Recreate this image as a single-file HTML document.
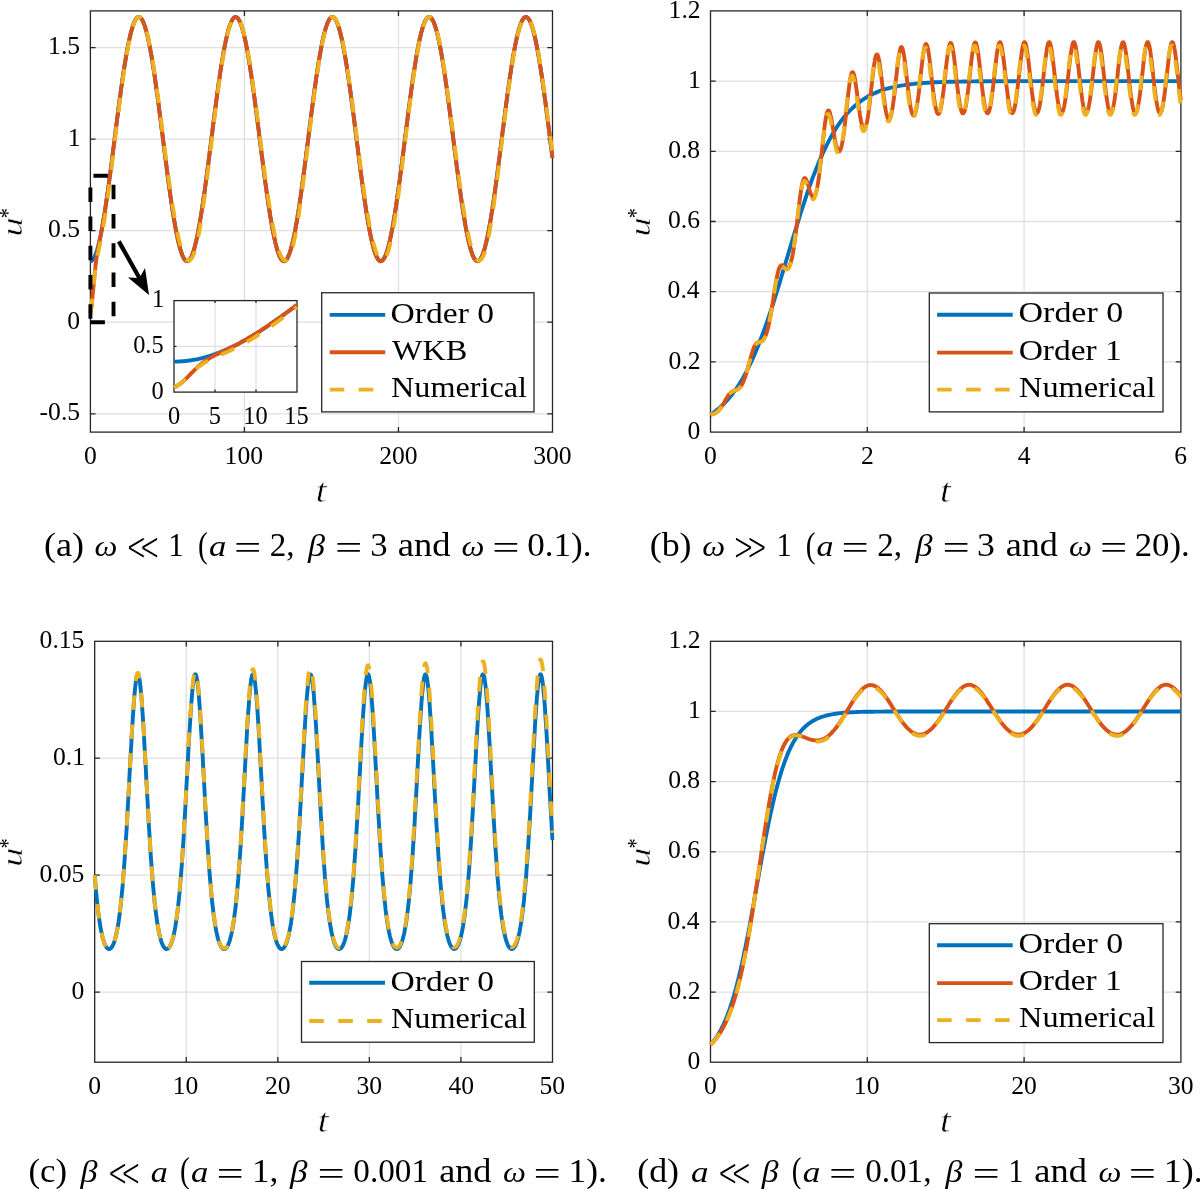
<!DOCTYPE html>
<html><head><meta charset="utf-8"><title>figure</title>
<style>html,body{margin:0;padding:0;background:#fff}svg{display:block;font-family:"Liberation Serif","DejaVu Serif",serif;fill:#000;font-kerning:none;font-variant-ligatures:none}</style>
</head><body>
<svg width="1200" height="1189" viewBox="0 0 1200 1189">
<rect width="1200" height="1189" fill="#fff"/>
<clipPath id="c1"><rect x="88.4" y="8.9" width="466.1" height="425.2"/></clipPath>
<rect x="90.4" y="10.9" width="462.1" height="421.2" fill="#fff"/>
<path d="M244.43 10.9V432.1M398.47 10.9V432.1M90.4 413.79H552.5M90.4 322.22H552.5M90.4 230.66H552.5M90.4 139.09H552.5M90.4 47.53H552.5" stroke="#e0e0e0" stroke-width="1.3" fill="none"/>
<path d="M244.43 432.1v-5.2M244.43 10.9v5.2M398.47 432.1v-5.2M398.47 10.9v5.2M90.4 413.79h5.2M552.5 413.79h-5.2M90.4 322.22h5.2M552.5 322.22h-5.2M90.4 230.66h5.2M552.5 230.66h-5.2M90.4 139.09h5.2M552.5 139.09h-5.2M90.4 47.53h5.2M552.5 47.53h-5.2" stroke="#262626" stroke-width="1.3" fill="none"/>
<rect x="90.4" y="10.9" width="462.1" height="421.2" fill="none" stroke="#262626" stroke-width="1.3"/>
<g clip-path="url(#c1)" fill="none" stroke-width="3.9" stroke-linejoin="round">
<path d="M90.4 261.2L90.6 261.2L90.8 261.1L90.9 261.1L91 261.1L91.2 261L91.3 261L91.4 260.9L91.6 260.8L91.8 260.7L91.8 260.7L92 260.6L92.1 260.4L92.3 260.3L92.3 260.2L92.5 260L92.7 259.8L92.7 259.8L92.9 259.5L93.1 259.3L93.2 259.2L93.3 259L93.5 258.7L93.6 258.5L93.7 258.4L93.9 258L94.1 257.7L94.1 257.7L94.3 257.3L94.5 256.9L94.6 256.7L94.7 256.5L94.9 256.1L95 255.7L95.1 255.6L95.3 255.2L95.4 254.7L95.5 254.6L95.6 254.2L95.8 253.7L96 253.3L96 253.1L96.2 252.6L96.4 252L96.4 252L96.6 251.4L96.8 250.8L96.9 250.5L97 250.1L97.2 249.5L97.3 249L97.4 248.8L97.6 248.1L97.8 247.4L97.8 247.4L98 246.7L98.2 246L98.3 245.6L98.4 245.2L98.6 244.5L98.7 243.8L98.7 243.7L98.9 242.9L99.1 242.1L99.2 241.8L99.3 241.2L99.5 240.4L99.7 239.8L99.7 239.5L99.9 238.6L100.1 237.7L100.1 237.7L100.3 236.8L100.5 235.9L100.6 235.5L100.7 234.9L100.9 234L101 233.2L101.1 233L101.3 232L101.5 231L101.5 230.8L101.7 230L101.9 228.9L102 228.4L102 227.9L102.2 226.8L102.4 225.8L102.4 225.8L102.6 224.7L102.8 223.6L102.9 223.2L103 222.4L103.2 221.3L103.4 220.5L103.4 220.2L103.6 219L103.8 217.8L103.8 217.7L104 216.7L104.2 215.5L104.3 214.9L104.4 214.3L104.6 213L104.7 212L104.8 211.8L105 210.6L105.2 209.3L105.2 209L105.4 208L105.5 206.8L105.7 206L105.7 205.5L105.9 204.2L106.1 202.9L106.1 202.9L106.3 201.6L106.5 200.2L106.6 199.7L106.7 198.9L106.9 197.6L107.1 196.5L107.1 196.2L107.3 194.8L107.5 193.5L107.5 193.3L107.7 192.1L107.9 190.7L108 189.9L108.1 189.3L108.3 187.9L108.4 186.6L108.5 186.5L108.7 185L108.8 183.6L108.9 183.2L109 182.2L109.2 180.7L109.4 179.8L109.4 179.3L109.6 177.8L109.8 176.4L109.8 176.3L110 174.9L110.2 173.4L110.3 172.8L110.4 171.9L110.6 170.5L110.8 169.2L110.8 169L111 167.5L111.2 166L111.2 165.7L111.4 164.5L111.6 163L111.7 162.1L111.8 161.5L112 159.9L112.1 158.5L112.1 158.4L112.3 156.9L112.5 155.4L112.6 154.8L112.7 153.9L112.9 152.3L113.1 151.2L113.1 150.8L113.3 149.3L113.5 147.7L113.5 147.5L114 143.9L114.5 140.2L114.9 136.6L115.4 132.9L115.8 129.2L116.3 125.6L116.8 121.9L117.2 118.3L117.7 114.7L118.2 111.1L118.6 107.6L119.1 104.1L119.5 100.6L120 97.1L120.5 93.7L120.9 90.3L121.4 87L121.9 83.7L122.3 80.4L122.8 77.2L123.2 74.1L123.7 71L124.2 68L124.6 65.1L125.1 62.2L125.6 59.4L126 56.6L126.5 54L126.9 51.4L127.4 48.9L127.9 46.4L128.3 44.1L128.8 41.8L129.3 39.7L129.7 37.6L130.2 35.6L130.6 33.7L131.1 31.9L131.6 30.2L132 28.6L132.5 27.1L133 25.7L133.4 24.4L133.9 23.2L134.3 22.1L134.8 21.1L135.3 20.2L135.7 19.4L136.2 18.7L136.7 18.2L137.1 17.7L137.6 17.4L138 17.1L138.5 17L139 17L139.4 17.1L139.9 17.3L140.4 17.6L140.8 18.1L141.3 18.6L141.7 19.2L142.2 20L142.7 20.9L143.1 21.8L143.6 22.9L144.1 24.1L144.5 25.4L145 26.7L145.4 28.2L145.9 29.8L146.4 31.5L146.8 33.3L147.3 35.1L147.8 37.1L148.2 39.2L148.7 41.3L149.1 43.6L149.6 45.9L150.1 48.3L150.5 50.8L151 53.4L151.5 56L151.9 58.7L152.4 61.5L152.8 64.4L153.3 67.3L153.8 70.3L154.2 73.4L154.7 76.5L155.2 79.7L155.6 82.9L156.1 86.2L156.5 89.5L157 92.9L157.5 96.3L157.9 99.8L158.4 103.2L158.9 106.8L159.3 110.3L159.8 113.9L160.2 117.5L160.7 121.1L161.2 124.7L161.6 128.4L162.1 132L162.6 135.7L163 139.4L163.5 143L163.9 146.7L164.4 150.4L164.9 154L165.3 157.6L165.8 161.2L166.3 164.8L166.7 168.4L167.2 172L167.6 175.5L168.1 179L168.6 182.4L169 185.8L169.5 189.2L170 192.5L170.4 195.8L170.9 199L171.3 202.2L171.8 205.3L172.3 208.3L172.7 211.3L173.2 214.2L173.7 217.1L174.1 219.9L174.6 222.6L175 225.2L175.5 227.8L176 230.3L176.4 232.7L176.9 235L177.4 237.2L177.8 239.3L178.3 241.4L178.7 243.3L179.2 245.2L179.7 247L180.1 248.6L180.6 250.2L181.1 251.7L181.5 253L182 254.3L182.4 255.5L182.9 256.5L183.4 257.5L183.8 258.3L184.3 259L184.8 259.7L185.2 260.2L185.7 260.6L186.2 260.9L186.6 261.1L187.1 261.2L187.5 261.1L188 261L188.5 260.8L188.9 260.4L189.4 259.9L189.9 259.4L190.3 258.7L190.8 257.9L191.2 257L191.7 256L192.2 254.8L192.6 253.6L193.1 252.3L193.6 250.9L194 249.4L194.5 247.7L194.9 246L195.4 244.2L195.9 242.3L196.3 240.3L196.8 238.2L197.3 236L197.7 233.7L198.2 231.4L198.6 228.9L199.1 226.4L199.6 223.8L200 221.1L200.5 218.4L201 215.6L201.4 212.7L201.9 209.7L202.3 206.7L202.8 203.6L203.3 200.5L203.7 197.3L204.2 194L204.7 190.7L205.1 187.4L205.6 184L206 180.6L206.5 177.1L207 173.6L207.4 170.1L207.9 166.5L208.4 162.9L208.8 159.3L209.3 155.7L209.7 152L210.2 148.4L210.7 144.7L211.1 141.1L211.6 137.4L212.1 133.7L212.5 130.1L213 126.4L213.4 122.8L213.9 119.2L214.4 115.5L214.8 112L215.3 108.4L215.8 104.9L216.2 101.4L216.7 97.9L217.1 94.5L217.6 91.1L218.1 87.7L218.5 84.4L219 81.2L219.5 78L219.9 74.8L220.4 71.7L220.8 68.7L221.3 65.7L221.8 62.8L222.2 60L222.7 57.3L223.2 54.6L223.6 52L224.1 49.4L224.5 47L225 44.6L225.5 42.3L225.9 40.2L226.4 38.1L226.9 36L227.3 34.1L227.8 32.3L228.2 30.6L228.7 28.9L229.2 27.4L229.6 26L230.1 24.6L230.6 23.4L231 22.3L231.5 21.3L231.9 20.4L232.4 19.6L232.9 18.9L233.3 18.3L233.8 17.8L234.3 17.4L234.7 17.2L235.2 17L235.6 17L236.1 17.1L236.6 17.3L237 17.6L237.5 18L238 18.5L238.4 19.1L238.9 19.8L239.3 20.6L239.8 21.6L240.3 22.6L240.7 23.8L241.2 25L241.7 26.4L242.1 27.9L242.6 29.4L243 31.1L243.5 32.8L244 34.7L244.4 36.7L244.9 38.7L245.4 40.8L245.8 43L246.3 45.3L246.7 47.7L247.2 50.2L247.7 52.8L248.1 55.4L248.6 58.1L249.1 60.9L249.5 63.7L250 66.7L250.4 69.6L250.9 72.7L251.4 75.8L251.8 78.9L252.3 82.2L252.8 85.4L253.2 88.8L253.7 92.1L254.1 95.5L254.6 99L255.1 102.4L255.5 106L256 109.5L256.5 113.1L256.9 116.7L257.4 120.3L257.8 123.9L258.3 127.6L258.8 131.2L259.2 134.9L259.7 138.5L260.2 142.2L260.6 145.9L261.1 149.5L261.5 153.2L262 156.8L262.5 160.4L262.9 164L263.4 167.6L263.9 171.1L264.3 174.7L264.8 178.2L265.2 181.6L265.7 185L266.2 188.4L266.6 191.7L267.1 195L267.6 198.3L268 201.4L268.5 204.6L268.9 207.6L269.4 210.6L269.9 213.6L270.3 216.4L270.8 219.2L271.3 222L271.7 224.6L272.2 227.2L272.6 229.7L273.1 232.1L273.6 234.4L274 236.7L274.5 238.8L275 240.9L275.4 242.9L275.9 244.8L276.4 246.6L276.8 248.3L277.3 249.8L277.7 251.3L278.2 252.7L278.7 254L279.1 255.2L279.6 256.3L280.1 257.3L280.5 258.1L281 258.9L281.4 259.5L281.9 260.1L282.4 260.5L282.8 260.8L283.3 261.1L283.8 261.2L284.2 261.2L284.7 261L285.1 260.8L285.6 260.5L286.1 260L286.5 259.5L287 258.8L287.5 258.1L287.9 257.2L288.4 256.2L288.8 255.1L289.3 253.9L289.8 252.6L290.2 251.2L290.7 249.7L291.2 248.1L291.6 246.4L292.1 244.6L292.5 242.7L293 240.8L293.5 238.7L293.9 236.5L294.4 234.3L294.9 231.9L295.3 229.5L295.8 227L296.2 224.4L296.7 221.8L297.2 219L297.6 216.2L298.1 213.3L298.6 210.4L299 207.4L299.5 204.3L299.9 201.2L300.4 198L300.9 194.8L301.3 191.5L301.8 188.1L302.3 184.8L302.7 181.3L303.2 177.9L303.6 174.4L304.1 170.9L304.6 167.3L305 163.7L305.5 160.1L306 156.5L306.4 152.9L306.9 149.2L307.3 145.6L307.8 141.9L308.3 138.2L308.7 134.6L309.2 130.9L309.7 127.3L310.1 123.6L310.6 120L311 116.4L311.5 112.8L312 109.2L312.4 105.7L312.9 102.2L313.4 98.7L313.8 95.2L314.3 91.8L314.7 88.5L315.2 85.2L315.7 81.9L316.1 78.7L316.6 75.5L317.1 72.4L317.5 69.4L318 66.4L318.4 63.5L318.9 60.7L319.4 57.9L319.8 55.2L320.3 52.6L320.8 50L321.2 47.5L321.7 45.2L322.1 42.9L322.6 40.6L323.1 38.5L323.5 36.5L324 34.6L324.5 32.7L324.9 31L325.4 29.3L325.8 27.7L326.3 26.3L326.8 24.9L327.2 23.7L327.7 22.5L328.2 21.5L328.6 20.6L329.1 19.7L329.5 19L330 18.4L330.5 17.9L330.9 17.5L331.4 17.2L331.9 17.1L332.3 17L332.8 17.1L333.2 17.2L333.7 17.5L334.2 17.9L334.6 18.3L335.1 18.9L335.6 19.6L336 20.4L336.5 21.4L336.9 22.4L337.4 23.5L337.9 24.7L338.3 26.1L338.8 27.5L339.3 29.1L339.7 30.7L340.2 32.4L340.6 34.3L341.1 36.2L341.6 38.2L342 40.3L342.5 42.5L343 44.8L343.4 47.2L343.9 49.6L344.3 52.2L344.8 54.8L345.3 57.5L345.7 60.2L346.2 63.1L346.7 66L347.1 68.9L347.6 72L348 75.1L348.5 78.2L349 81.4L349.4 84.7L349.9 88L350.4 91.3L350.8 94.7L351.3 98.2L351.7 101.6L352.2 105.1L352.7 108.7L353.1 112.2L353.6 115.8L354.1 119.4L354.5 123.1L355 126.7L355.4 130.4L355.9 134L356.4 137.7L356.8 141.4L357.3 145L357.8 148.7L358.2 152.3L358.7 156L359.1 159.6L359.6 163.2L360.1 166.8L360.5 170.3L361 173.9L361.5 177.4L361.9 180.8L362.4 184.3L362.8 187.6L363.3 191L363.8 194.3L364.2 197.5L364.7 200.7L365.2 203.8L365.6 206.9L366.1 209.9L366.5 212.9L367 215.8L367.5 218.6L367.9 221.3L368.4 224L368.9 226.6L369.3 229.1L369.8 231.6L370.3 233.9L370.7 236.2L371.2 238.4L371.6 240.5L372.1 242.4L372.6 244.4L373 246.2L373.5 247.9L374 249.5L374.4 251L374.9 252.4L375.3 253.7L375.8 254.9L376.3 256L376.7 257L377.2 257.9L377.7 258.7L378.1 259.4L378.6 260L379 260.4L379.5 260.8L380 261L380.4 261.2L380.9 261.2L381.4 261.1L381.8 260.9L382.3 260.6L382.7 260.2L383.2 259.6L383.7 259L384.1 258.2L384.6 257.4L385.1 256.4L385.5 255.4L386 254.2L386.4 252.9L386.9 251.6L387.4 250.1L387.8 248.5L388.3 246.8L388.8 245.1L389.2 243.2L389.7 241.2L390.1 239.2L390.6 237L391.1 234.8L391.5 232.5L392 230.1L392.5 227.6L392.9 225L393.4 222.4L393.8 219.7L394.3 216.9L394.8 214L395.2 211.1L395.7 208.1L396.2 205L396.6 201.9L397.1 198.7L397.5 195.5L398 192.2L398.5 188.9L398.9 185.5L399.4 182.1L399.9 178.7L400.3 175.2L400.8 171.7L401.2 168.1L401.7 164.6L402.2 161L402.6 157.3L403.1 153.7L403.6 150.1L404 146.4L404.5 142.7L404.9 139.1L405.4 135.4L405.9 131.8L406.3 128.1L406.8 124.5L407.3 120.8L407.7 117.2L408.2 113.6L408.6 110L409.1 106.5L409.6 103L410 99.5L410.5 96L411 92.6L411.4 89.3L411.9 85.9L412.3 82.7L412.8 79.4L413.3 76.3L413.7 73.1L414.2 70.1L414.7 67.1L415.1 64.2L415.6 61.3L416 58.5L416.5 55.8L417 53.2L417.4 50.6L417.9 48.1L418.4 45.7L418.8 43.4L419.3 41.2L419.7 39L420.2 37L420.7 35L421.1 33.1L421.6 31.3L422.1 29.7L422.5 28.1L423 26.6L423.4 25.2L423.9 24L424.4 22.8L424.8 21.7L425.3 20.8L425.8 19.9L426.2 19.2L426.7 18.6L427.1 18L427.6 17.6L428.1 17.3L428.5 17.1L429 17L429.5 17L429.9 17.2L430.4 17.4L430.8 17.8L431.3 18.2L431.8 18.8L432.2 19.5L432.7 20.2L433.2 21.1L433.6 22.1L434.1 23.2L434.5 24.5L435 25.8L435.5 27.2L435.9 28.7L436.4 30.3L436.9 32L437.3 33.8L437.8 35.7L438.2 37.7L438.7 39.8L439.2 42L439.6 44.3L440.1 46.6L440.6 49.1L441 51.6L441.5 54.2L441.9 56.8L442.4 59.6L442.9 62.4L443.3 65.3L443.8 68.3L444.3 71.3L444.7 74.3L445.2 77.5L445.6 80.7L446.1 83.9L446.6 87.2L447 90.6L447.5 93.9L448 97.4L448.4 100.8L448.9 104.3L449.3 107.9L449.8 111.4L450.3 115L450.7 118.6L451.2 122.2L451.7 125.9L452.1 129.5L452.6 133.2L453 136.8L453.5 140.5L454 144.2L454.4 147.8L454.9 151.5L455.4 155.1L455.8 158.8L456.3 162.4L456.7 166L457.2 169.5L457.7 173.1L458.1 176.6L458.6 180L459.1 183.5L459.5 186.9L460 190.2L460.5 193.5L460.9 196.8L461.4 200L461.8 203.1L462.3 206.2L462.8 209.3L463.2 212.2L463.7 215.1L464.2 218L464.6 220.7L465.1 223.4L465.5 226L466 228.6L466.5 231L466.9 233.4L467.4 235.7L467.9 237.9L468.3 240L468.8 242L469.2 243.9L469.7 245.8L470.2 247.5L470.6 249.1L471.1 250.7L471.6 252.1L472 253.4L472.5 254.7L472.9 255.8L473.4 256.8L473.9 257.7L474.3 258.6L474.8 259.3L475.3 259.8L475.7 260.3L476.2 260.7L476.6 261L477.1 261.1L477.6 261.2L478 261.1L478.5 260.9L479 260.7L479.4 260.3L479.9 259.8L480.3 259.1L480.8 258.4L481.3 257.6L481.7 256.7L482.2 255.6L482.7 254.5L483.1 253.2L483.6 251.9L484 250.4L484.5 248.9L485 247.2L485.4 245.5L485.9 243.6L486.4 241.7L486.8 239.6L487.3 237.5L487.7 235.3L488.2 233L488.7 230.6L489.1 228.2L489.6 225.6L490.1 223L490.5 220.3L491 217.5L491.4 214.7L491.9 211.8L492.4 208.8L492.8 205.7L493.3 202.6L493.8 199.5L494.2 196.3L494.7 193L495.1 189.7L495.6 186.3L496.1 182.9L496.5 179.5L497 176L497.5 172.5L497.9 169L498.4 165.4L498.8 161.8L499.3 158.2L499.8 154.5L500.2 150.9L500.7 147.3L501.2 143.6L501.6 139.9L502.1 136.3L502.5 132.6L503 128.9L503.5 125.3L503.9 121.7L504.4 118L504.9 114.4L505.3 110.9L505.8 107.3L506.2 103.8L506.7 100.3L507.2 96.8L507.6 93.4L508.1 90L508.6 86.7L509 83.4L509.5 80.2L509.9 77L510.4 73.9L510.9 70.8L511.3 67.8L511.8 64.8L512.3 62L512.7 59.2L513.2 56.4L513.6 53.8L514.1 51.2L514.6 48.7L515 46.2L515.5 43.9L516 41.7L516.4 39.5L516.9 37.4L517.3 35.4L517.8 33.5L518.3 31.7L518.7 30.1L519.2 28.5L519.7 27L520.1 25.6L520.6 24.3L521 23.1L521.5 22L522 21L522.4 20.1L522.9 19.3L523.4 18.7L523.8 18.1L524.3 17.7L524.7 17.4L525.2 17.1L525.7 17L526.1 17L526.6 17.1L527.1 17.3L527.5 17.7L528 18.1L528.4 18.6L528.9 19.3L529.4 20.1L529.8 20.9L530.3 21.9L530.8 23L531.2 24.2L531.7 25.5L532.1 26.8L532.6 28.3L533.1 29.9L533.5 31.6L534 33.4L534.5 35.3L534.9 37.3L535.4 39.3L535.8 41.5L536.3 43.7L536.8 46.1L537.2 48.5L537.7 51L538.2 53.6L538.6 56.2L539.1 59L539.5 61.8L540 64.6L540.5 67.6L540.9 70.6L541.4 73.6L541.9 76.8L542.3 79.9L542.8 83.2L543.2 86.5L543.7 89.8L544.2 93.2L544.6 96.6L545.1 100L545.6 103.5L546 107.1L546.5 110.6L546.9 114.2L547.4 117.8L547.9 121.4L548.3 125L548.8 128.7L549.3 132.3L549.7 136L550.2 139.7L550.6 143.3L551.1 147L551.6 150.6L552 154.3L552.5 157.9" stroke="#0072BD"/>
<path d="M90.4 313.1L90.6 312L90.8 310.9L90.9 310.5L91 309.7L91.2 308.4L91.3 307.3L91.4 307L91.6 305.5L91.8 303.9L91.8 303.7L92 302.2L92.1 300.4L92.3 299.5L92.3 298.6L92.5 296.6L92.7 294.8L92.7 294.6L92.9 292.6L93.1 290.5L93.2 289.8L93.3 288.3L93.5 286.2L93.6 284.8L93.7 284.1L93.9 281.9L94.1 279.8L94.1 279.7L94.3 277.7L94.5 275.7L94.6 274.8L94.7 273.7L94.9 271.8L95 270.3L95.1 269.9L95.3 268.2L95.4 266.4L95.5 266.1L95.6 264.8L95.8 263.2L96 262.3L96 261.7L96.2 260.2L96.4 258.8L96.4 258.8L96.6 257.5L96.8 256.2L96.9 255.7L97 254.9L97.2 253.7L97.3 252.9L97.4 252.6L97.6 251.4L97.8 250.3L97.8 250.2L98 249.3L98.2 248.2L98.3 247.7L98.4 247.2L98.6 246.2L98.7 245.3L98.7 245.2L98.9 244.2L99.1 243.2L99.2 242.9L99.3 242.2L99.5 241.2L99.7 240.6L99.7 240.2L99.9 239.2L100.1 238.3L100.1 238.2L100.3 237.3L100.5 236.3L100.6 235.9L100.7 235.3L100.9 234.3L101 233.4L101.1 233.2L101.3 232.2L101.5 231.2L101.5 231L101.7 230.1L101.9 229.1L102 228.5L102 228L102.2 226.9L102.4 225.9L102.4 225.8L102.6 224.7L102.8 223.6L102.9 223.2L103 222.5L103.2 221.3L103.4 220.5L103.4 220.2L103.6 219L103.8 217.9L103.8 217.8L104 216.7L104.2 215.5L104.3 214.9L104.4 214.3L104.6 213L104.7 212L104.8 211.8L105 210.6L105.2 209.3L105.2 209L105.4 208.1L105.5 206.8L105.7 206L105.7 205.5L105.9 204.2L106.1 202.9L106.1 202.9L106.3 201.6L106.5 200.2L106.6 199.7L106.7 198.9L106.9 197.6L107.1 196.5L107.1 196.2L107.3 194.8L107.5 193.5L107.5 193.3L107.7 192.1L107.9 190.7L108 189.9L108.1 189.3L108.3 187.9L108.4 186.6L108.5 186.5L108.7 185L108.8 183.6L108.9 183.2L109 182.2L109.2 180.7L109.4 179.8L109.4 179.3L109.6 177.8L109.8 176.4L109.8 176.3L110 174.9L110.2 173.4L110.3 172.8L110.4 171.9L110.6 170.5L110.8 169.2L110.8 169L111 167.5L111.2 166L111.2 165.7L111.4 164.5L111.6 163L111.7 162.1L111.8 161.5L112 159.9L112.1 158.5L112.1 158.4L112.3 156.9L112.5 155.4L112.6 154.8L112.7 153.9L112.9 152.3L113.1 151.2L113.1 150.8L113.3 149.3L113.5 147.7L113.5 147.5L114 143.9L114.5 140.2L114.9 136.6L115.4 132.9L115.8 129.2L116.3 125.6L116.8 121.9L117.2 118.3L117.7 114.7L118.2 111.1L118.6 107.6L119.1 104.1L119.5 100.6L120 97.1L120.5 93.7L120.9 90.3L121.4 87L121.9 83.7L122.3 80.4L122.8 77.2L123.2 74.1L123.7 71L124.2 68L124.6 65.1L125.1 62.2L125.6 59.4L126 56.6L126.5 54L126.9 51.4L127.4 48.9L127.9 46.4L128.3 44.1L128.8 41.8L129.3 39.7L129.7 37.6L130.2 35.6L130.6 33.7L131.1 31.9L131.6 30.2L132 28.6L132.5 27.1L133 25.7L133.4 24.4L133.9 23.2L134.3 22.1L134.8 21.1L135.3 20.2L135.7 19.4L136.2 18.7L136.7 18.2L137.1 17.7L137.6 17.4L138 17.1L138.5 17L139 17L139.4 17.1L139.9 17.3L140.4 17.6L140.8 18.1L141.3 18.6L141.7 19.2L142.2 20L142.7 20.9L143.1 21.8L143.6 22.9L144.1 24.1L144.5 25.4L145 26.7L145.4 28.2L145.9 29.8L146.4 31.5L146.8 33.3L147.3 35.1L147.8 37.1L148.2 39.2L148.7 41.3L149.1 43.6L149.6 45.9L150.1 48.3L150.5 50.8L151 53.4L151.5 56L151.9 58.7L152.4 61.5L152.8 64.4L153.3 67.3L153.8 70.3L154.2 73.4L154.7 76.5L155.2 79.7L155.6 82.9L156.1 86.2L156.5 89.5L157 92.9L157.5 96.3L157.9 99.8L158.4 103.2L158.9 106.8L159.3 110.3L159.8 113.9L160.2 117.5L160.7 121.1L161.2 124.7L161.6 128.4L162.1 132L162.6 135.7L163 139.4L163.5 143L163.9 146.7L164.4 150.4L164.9 154L165.3 157.6L165.8 161.2L166.3 164.8L166.7 168.4L167.2 172L167.6 175.5L168.1 179L168.6 182.4L169 185.8L169.5 189.2L170 192.5L170.4 195.8L170.9 199L171.3 202.2L171.8 205.3L172.3 208.3L172.7 211.3L173.2 214.2L173.7 217.1L174.1 219.9L174.6 222.6L175 225.2L175.5 227.8L176 230.3L176.4 232.7L176.9 235L177.4 237.2L177.8 239.3L178.3 241.4L178.7 243.3L179.2 245.2L179.7 247L180.1 248.6L180.6 250.2L181.1 251.7L181.5 253L182 254.3L182.4 255.5L182.9 256.5L183.4 257.5L183.8 258.3L184.3 259L184.8 259.7L185.2 260.2L185.7 260.6L186.2 260.9L186.6 261.1L187.1 261.2L187.5 261.1L188 261L188.5 260.8L188.9 260.4L189.4 259.9L189.9 259.4L190.3 258.7L190.8 257.9L191.2 257L191.7 256L192.2 254.8L192.6 253.6L193.1 252.3L193.6 250.9L194 249.4L194.5 247.7L194.9 246L195.4 244.2L195.9 242.3L196.3 240.3L196.8 238.2L197.3 236L197.7 233.7L198.2 231.4L198.6 228.9L199.1 226.4L199.6 223.8L200 221.1L200.5 218.4L201 215.6L201.4 212.7L201.9 209.7L202.3 206.7L202.8 203.6L203.3 200.5L203.7 197.3L204.2 194L204.7 190.7L205.1 187.4L205.6 184L206 180.6L206.5 177.1L207 173.6L207.4 170.1L207.9 166.5L208.4 162.9L208.8 159.3L209.3 155.7L209.7 152L210.2 148.4L210.7 144.7L211.1 141.1L211.6 137.4L212.1 133.7L212.5 130.1L213 126.4L213.4 122.8L213.9 119.2L214.4 115.5L214.8 112L215.3 108.4L215.8 104.9L216.2 101.4L216.7 97.9L217.1 94.5L217.6 91.1L218.1 87.7L218.5 84.4L219 81.2L219.5 78L219.9 74.8L220.4 71.7L220.8 68.7L221.3 65.7L221.8 62.8L222.2 60L222.7 57.3L223.2 54.6L223.6 52L224.1 49.4L224.5 47L225 44.6L225.5 42.3L225.9 40.2L226.4 38.1L226.9 36L227.3 34.1L227.8 32.3L228.2 30.6L228.7 28.9L229.2 27.4L229.6 26L230.1 24.6L230.6 23.4L231 22.3L231.5 21.3L231.9 20.4L232.4 19.6L232.9 18.9L233.3 18.3L233.8 17.8L234.3 17.4L234.7 17.2L235.2 17L235.6 17L236.1 17.1L236.6 17.3L237 17.6L237.5 18L238 18.5L238.4 19.1L238.9 19.8L239.3 20.6L239.8 21.6L240.3 22.6L240.7 23.8L241.2 25L241.7 26.4L242.1 27.9L242.6 29.4L243 31.1L243.5 32.8L244 34.7L244.4 36.7L244.9 38.7L245.4 40.8L245.8 43L246.3 45.3L246.7 47.7L247.2 50.2L247.7 52.8L248.1 55.4L248.6 58.1L249.1 60.9L249.5 63.7L250 66.7L250.4 69.6L250.9 72.7L251.4 75.8L251.8 78.9L252.3 82.2L252.8 85.4L253.2 88.8L253.7 92.1L254.1 95.5L254.6 99L255.1 102.4L255.5 106L256 109.5L256.5 113.1L256.9 116.7L257.4 120.3L257.8 123.9L258.3 127.6L258.8 131.2L259.2 134.9L259.7 138.5L260.2 142.2L260.6 145.9L261.1 149.5L261.5 153.2L262 156.8L262.5 160.4L262.9 164L263.4 167.6L263.9 171.1L264.3 174.7L264.8 178.2L265.2 181.6L265.7 185L266.2 188.4L266.6 191.7L267.1 195L267.6 198.3L268 201.4L268.5 204.6L268.9 207.6L269.4 210.6L269.9 213.6L270.3 216.4L270.8 219.2L271.3 222L271.7 224.6L272.2 227.2L272.6 229.7L273.1 232.1L273.6 234.4L274 236.7L274.5 238.8L275 240.9L275.4 242.9L275.9 244.8L276.4 246.6L276.8 248.3L277.3 249.8L277.7 251.3L278.2 252.7L278.7 254L279.1 255.2L279.6 256.3L280.1 257.3L280.5 258.1L281 258.9L281.4 259.5L281.9 260.1L282.4 260.5L282.8 260.8L283.3 261.1L283.8 261.2L284.2 261.2L284.7 261L285.1 260.8L285.6 260.5L286.1 260L286.5 259.5L287 258.8L287.5 258.1L287.9 257.2L288.4 256.2L288.8 255.1L289.3 253.9L289.8 252.6L290.2 251.2L290.7 249.7L291.2 248.1L291.6 246.4L292.1 244.6L292.5 242.7L293 240.8L293.5 238.7L293.9 236.5L294.4 234.3L294.9 231.9L295.3 229.5L295.8 227L296.2 224.4L296.7 221.8L297.2 219L297.6 216.2L298.1 213.3L298.6 210.4L299 207.4L299.5 204.3L299.9 201.2L300.4 198L300.9 194.8L301.3 191.5L301.8 188.1L302.3 184.8L302.7 181.3L303.2 177.9L303.6 174.4L304.1 170.9L304.6 167.3L305 163.7L305.5 160.1L306 156.5L306.4 152.9L306.9 149.2L307.3 145.6L307.8 141.9L308.3 138.2L308.7 134.6L309.2 130.9L309.7 127.3L310.1 123.6L310.6 120L311 116.4L311.5 112.8L312 109.2L312.4 105.7L312.9 102.2L313.4 98.7L313.8 95.2L314.3 91.8L314.7 88.5L315.2 85.2L315.7 81.9L316.1 78.7L316.6 75.5L317.1 72.4L317.5 69.4L318 66.4L318.4 63.5L318.9 60.7L319.4 57.9L319.8 55.2L320.3 52.6L320.8 50L321.2 47.5L321.7 45.2L322.1 42.9L322.6 40.6L323.1 38.5L323.5 36.5L324 34.6L324.5 32.7L324.9 31L325.4 29.3L325.8 27.7L326.3 26.3L326.8 24.9L327.2 23.7L327.7 22.5L328.2 21.5L328.6 20.6L329.1 19.7L329.5 19L330 18.4L330.5 17.9L330.9 17.5L331.4 17.2L331.9 17.1L332.3 17L332.8 17.1L333.2 17.2L333.7 17.5L334.2 17.9L334.6 18.3L335.1 18.9L335.6 19.6L336 20.4L336.5 21.4L336.9 22.4L337.4 23.5L337.9 24.7L338.3 26.1L338.8 27.5L339.3 29.1L339.7 30.7L340.2 32.4L340.6 34.3L341.1 36.2L341.6 38.2L342 40.3L342.5 42.5L343 44.8L343.4 47.2L343.9 49.6L344.3 52.2L344.8 54.8L345.3 57.5L345.7 60.2L346.2 63.1L346.7 66L347.1 68.9L347.6 72L348 75.1L348.5 78.2L349 81.4L349.4 84.7L349.9 88L350.4 91.3L350.8 94.7L351.3 98.2L351.7 101.6L352.2 105.1L352.7 108.7L353.1 112.2L353.6 115.8L354.1 119.4L354.5 123.1L355 126.7L355.4 130.4L355.9 134L356.4 137.7L356.8 141.4L357.3 145L357.8 148.7L358.2 152.3L358.7 156L359.1 159.6L359.6 163.2L360.1 166.8L360.5 170.3L361 173.9L361.5 177.4L361.9 180.8L362.4 184.3L362.8 187.6L363.3 191L363.8 194.3L364.2 197.5L364.7 200.7L365.2 203.8L365.6 206.9L366.1 209.9L366.5 212.9L367 215.8L367.5 218.6L367.9 221.3L368.4 224L368.9 226.6L369.3 229.1L369.8 231.6L370.3 233.9L370.7 236.2L371.2 238.4L371.6 240.5L372.1 242.4L372.6 244.4L373 246.2L373.5 247.9L374 249.5L374.4 251L374.9 252.4L375.3 253.7L375.8 254.9L376.3 256L376.7 257L377.2 257.9L377.7 258.7L378.1 259.4L378.6 260L379 260.4L379.5 260.8L380 261L380.4 261.2L380.9 261.2L381.4 261.1L381.8 260.9L382.3 260.6L382.7 260.2L383.2 259.6L383.7 259L384.1 258.2L384.6 257.4L385.1 256.4L385.5 255.4L386 254.2L386.4 252.9L386.9 251.6L387.4 250.1L387.8 248.5L388.3 246.8L388.8 245.1L389.2 243.2L389.7 241.2L390.1 239.2L390.6 237L391.1 234.8L391.5 232.5L392 230.1L392.5 227.6L392.9 225L393.4 222.4L393.8 219.7L394.3 216.9L394.8 214L395.2 211.1L395.7 208.1L396.2 205L396.6 201.9L397.1 198.7L397.5 195.5L398 192.2L398.5 188.9L398.9 185.5L399.4 182.1L399.9 178.7L400.3 175.2L400.8 171.7L401.2 168.1L401.7 164.6L402.2 161L402.6 157.3L403.1 153.7L403.6 150.1L404 146.4L404.5 142.7L404.9 139.1L405.4 135.4L405.9 131.8L406.3 128.1L406.8 124.5L407.3 120.8L407.7 117.2L408.2 113.6L408.6 110L409.1 106.5L409.6 103L410 99.5L410.5 96L411 92.6L411.4 89.3L411.9 85.9L412.3 82.7L412.8 79.4L413.3 76.3L413.7 73.1L414.2 70.1L414.7 67.1L415.1 64.2L415.6 61.3L416 58.5L416.5 55.8L417 53.2L417.4 50.6L417.9 48.1L418.4 45.7L418.8 43.4L419.3 41.2L419.7 39L420.2 37L420.7 35L421.1 33.1L421.6 31.3L422.1 29.7L422.5 28.1L423 26.6L423.4 25.2L423.9 24L424.4 22.8L424.8 21.7L425.3 20.8L425.8 19.9L426.2 19.2L426.7 18.6L427.1 18L427.6 17.6L428.1 17.3L428.5 17.1L429 17L429.5 17L429.9 17.2L430.4 17.4L430.8 17.8L431.3 18.2L431.8 18.8L432.2 19.5L432.7 20.2L433.2 21.1L433.6 22.1L434.1 23.2L434.5 24.5L435 25.8L435.5 27.2L435.9 28.7L436.4 30.3L436.9 32L437.3 33.8L437.8 35.7L438.2 37.7L438.7 39.8L439.2 42L439.6 44.3L440.1 46.6L440.6 49.1L441 51.6L441.5 54.2L441.9 56.8L442.4 59.6L442.9 62.4L443.3 65.3L443.8 68.3L444.3 71.3L444.7 74.3L445.2 77.5L445.6 80.7L446.1 83.9L446.6 87.2L447 90.6L447.5 93.9L448 97.4L448.4 100.8L448.9 104.3L449.3 107.9L449.8 111.4L450.3 115L450.7 118.6L451.2 122.2L451.7 125.9L452.1 129.5L452.6 133.2L453 136.8L453.5 140.5L454 144.2L454.4 147.8L454.9 151.5L455.4 155.1L455.8 158.8L456.3 162.4L456.7 166L457.2 169.5L457.7 173.1L458.1 176.6L458.6 180L459.1 183.5L459.5 186.9L460 190.2L460.5 193.5L460.9 196.8L461.4 200L461.8 203.1L462.3 206.2L462.8 209.3L463.2 212.2L463.7 215.1L464.2 218L464.6 220.7L465.1 223.4L465.5 226L466 228.6L466.5 231L466.9 233.4L467.4 235.7L467.9 237.9L468.3 240L468.8 242L469.2 243.9L469.7 245.8L470.2 247.5L470.6 249.1L471.1 250.7L471.6 252.1L472 253.4L472.5 254.7L472.9 255.8L473.4 256.8L473.9 257.7L474.3 258.6L474.8 259.3L475.3 259.8L475.7 260.3L476.2 260.7L476.6 261L477.1 261.1L477.6 261.2L478 261.1L478.5 260.9L479 260.7L479.4 260.3L479.9 259.8L480.3 259.1L480.8 258.4L481.3 257.6L481.7 256.7L482.2 255.6L482.7 254.5L483.1 253.2L483.6 251.9L484 250.4L484.5 248.9L485 247.2L485.4 245.5L485.9 243.6L486.4 241.7L486.8 239.6L487.3 237.5L487.7 235.3L488.2 233L488.7 230.6L489.1 228.2L489.6 225.6L490.1 223L490.5 220.3L491 217.5L491.4 214.7L491.9 211.8L492.4 208.8L492.8 205.7L493.3 202.6L493.8 199.5L494.2 196.3L494.7 193L495.1 189.7L495.6 186.3L496.1 182.9L496.5 179.5L497 176L497.5 172.5L497.9 169L498.4 165.4L498.8 161.8L499.3 158.2L499.8 154.5L500.2 150.9L500.7 147.3L501.2 143.6L501.6 139.9L502.1 136.3L502.5 132.6L503 128.9L503.5 125.3L503.9 121.7L504.4 118L504.9 114.4L505.3 110.9L505.8 107.3L506.2 103.8L506.7 100.3L507.2 96.8L507.6 93.4L508.1 90L508.6 86.7L509 83.4L509.5 80.2L509.9 77L510.4 73.9L510.9 70.8L511.3 67.8L511.8 64.8L512.3 62L512.7 59.2L513.2 56.4L513.6 53.8L514.1 51.2L514.6 48.7L515 46.2L515.5 43.9L516 41.7L516.4 39.5L516.9 37.4L517.3 35.4L517.8 33.5L518.3 31.7L518.7 30.1L519.2 28.5L519.7 27L520.1 25.6L520.6 24.3L521 23.1L521.5 22L522 21L522.4 20.1L522.9 19.3L523.4 18.7L523.8 18.1L524.3 17.7L524.7 17.4L525.2 17.1L525.7 17L526.1 17L526.6 17.1L527.1 17.3L527.5 17.7L528 18.1L528.4 18.6L528.9 19.3L529.4 20.1L529.8 20.9L530.3 21.9L530.8 23L531.2 24.2L531.7 25.5L532.1 26.8L532.6 28.3L533.1 29.9L533.5 31.6L534 33.4L534.5 35.3L534.9 37.3L535.4 39.3L535.8 41.5L536.3 43.7L536.8 46.1L537.2 48.5L537.7 51L538.2 53.6L538.6 56.2L539.1 59L539.5 61.8L540 64.6L540.5 67.6L540.9 70.6L541.4 73.6L541.9 76.8L542.3 79.9L542.8 83.2L543.2 86.5L543.7 89.8L544.2 93.2L544.6 96.6L545.1 100L545.6 103.5L546 107.1L546.5 110.6L546.9 114.2L547.4 117.8L547.9 121.4L548.3 125L548.8 128.7L549.3 132.3L549.7 136L550.2 139.7L550.6 143.3L551.1 147L551.6 150.6L552 154.3L552.5 157.9" stroke="#D95319"/>
<path d="M90.4 313.1L90.6 312L90.8 310.9L90.9 310.5L91 309.7L91.2 308.4L91.3 307.4L91.4 307L91.6 305.5L91.8 303.9L91.8 303.7L92 302.3L92.1 300.5L92.3 299.5L92.3 298.7L92.5 296.8L92.7 295L92.7 294.8L92.9 292.8L93.1 290.8L93.2 290.2L93.3 288.7L93.5 286.7L93.6 285.3L93.7 284.6L93.9 282.6L94.1 280.6L94.1 280.5L94.3 278.7L94.5 276.8L94.6 275.9L94.7 274.9L94.9 273.2L95 271.8L95.1 271.5L95.3 269.8L95.4 268.3L95.5 268L95.6 266.8L95.8 265.4L96 264.6L96 264.1L96.2 262.8L96.4 261.6L96.4 261.5L96.6 260.4L96.8 259.2L96.9 258.9L97 258.2L97.2 257.1L97.3 256.4L97.4 256.1L97.6 255.1L97.8 254.2L97.8 254.1L98 253.2L98.2 252.3L98.3 251.9L98.4 251.4L98.6 250.5L98.7 249.7L98.7 249.6L98.9 248.7L99.1 247.8L99.2 247.6L99.3 247L99.5 246.1L99.7 245.5L99.7 245.2L99.9 244.3L100.1 243.3L100.1 243.3L100.3 242.4L100.5 241.5L100.6 241.1L100.7 240.6L100.9 239.6L101 238.8L101.1 238.6L101.3 237.7L101.5 236.7L101.5 236.5L101.7 235.7L101.9 234.6L102 234.1L102 233.6L102.2 232.5L102.4 231.5L102.4 231.5L102.6 230.4L102.8 229.3L102.9 228.9L103 228.2L103.2 227.1L103.4 226.3L103.4 225.9L103.6 224.8L103.8 223.6L103.8 223.5L104 222.4L104.2 221.2L104.3 220.7L104.4 220L104.6 218.8L104.7 217.7L104.8 217.6L105 216.3L105.2 215L105.2 214.7L105.4 213.8L105.5 212.5L105.7 211.7L105.7 211.2L105.9 209.9L106.1 208.5L106.1 208.5L106.3 207.2L106.5 205.9L106.6 205.3L106.7 204.5L106.9 203.1L107.1 202.1L107.1 201.8L107.3 200.4L107.5 199L107.5 198.8L107.7 197.6L107.9 196.1L108 195.4L108.1 194.7L108.3 193.3L108.4 192L108.5 191.8L108.7 190.4L108.8 188.9L108.9 188.5L109 187.5L109.2 186L109.4 185L109.4 184.5L109.6 183L109.8 181.5L109.8 181.4L110 180L110.2 178.5L110.3 177.8L110.4 177L110.6 175.5L110.8 174.2L110.8 174L111 172.4L111.2 170.9L111.2 170.6L111.4 169.4L111.6 167.8L111.7 166.9L111.8 166.3L112 164.7L112.1 163.2L112.1 163.2L112.3 161.6L112.5 160L112.6 159.5L112.7 158.5L112.9 156.9L113.1 155.8L113.1 155.3L113.3 153.8L113.5 152.2L113.5 152L114 148.3L114.5 144.5L114.9 140.8L115.4 137L115.8 133.3L116.3 129.5L116.8 125.8L117.2 122.1L117.7 118.4L118.2 114.7L118.6 111.1L119.1 107.5L119.5 103.9L120 100.3L120.5 96.8L120.9 93.4L121.4 89.9L121.9 86.6L122.3 83.2L122.8 80L123.2 76.7L123.7 73.6L124.2 70.5L124.6 67.5L125.1 64.5L125.6 61.6L126 58.8L126.5 56L126.9 53.4L127.4 50.8L127.9 48.3L128.3 45.8L128.8 43.5L129.3 41.3L129.7 39.1L130.2 37L130.6 35.1L131.1 33.2L131.6 31.4L132 29.7L132.5 28.1L133 26.6L133.4 25.3L133.9 24L134.3 22.8L134.8 21.8L135.3 20.8L135.7 19.9L136.2 19.2L136.7 18.6L137.1 18L137.6 17.6L138 17.3L138.5 17.1L139 17L139.4 17.1L139.9 17.2L140.4 17.4L140.8 17.8L141.3 18.3L141.7 18.8L142.2 19.5L142.7 20.3L143.1 21.2L143.6 22.2L144.1 23.3L144.5 24.5L145 25.8L145.4 27.2L145.9 28.7L146.4 30.3L146.8 32L147.3 33.8L147.8 35.7L148.2 37.7L148.7 39.8L149.1 42L149.6 44.2L150.1 46.5L150.5 49L151 51.5L151.5 54L151.9 56.7L152.4 59.4L152.8 62.2L153.3 65L153.8 68L154.2 71L154.7 74L155.2 77.1L155.6 80.2L156.1 83.4L156.5 86.7L157 90L157.5 93.3L157.9 96.7L158.4 100.1L158.9 103.6L159.3 107L159.8 110.5L160.2 114L160.7 117.6L161.2 121.1L161.6 124.7L162.1 128.3L162.6 131.9L163 135.5L163.5 139.1L163.9 142.6L164.4 146.2L164.9 149.8L165.3 153.4L165.8 156.9L166.3 160.4L166.7 163.9L167.2 167.4L167.6 170.9L168.1 174.3L168.6 177.7L169 181L169.5 184.3L170 187.6L170.4 190.8L170.9 194L171.3 197.1L171.8 200.2L172.3 203.2L172.7 206.2L173.2 209.1L173.7 211.9L174.1 214.7L174.6 217.4L175 220L175.5 222.6L176 225.1L176.4 227.5L176.9 229.9L177.4 232.2L177.8 234.3L178.3 236.5L178.7 238.5L179.2 240.4L179.7 242.3L180.1 244.1L180.6 245.8L181.1 247.4L181.5 248.9L182 250.4L182.4 251.7L182.9 253L183.4 254.1L183.8 255.2L184.3 256.2L184.8 257.1L185.2 257.9L185.7 258.5L186.2 259.1L186.6 259.6L187.1 260L187.5 260.3L188 260.5L188.5 260.6L188.9 260.6L189.4 260.5L189.9 260.3L190.3 259.9L190.8 259.5L191.2 258.9L191.7 258.3L192.2 257.5L192.6 256.6L193.1 255.6L193.6 254.4L194 253.2L194.5 251.8L194.9 250.4L195.4 248.8L195.9 247.1L196.3 245.2L196.8 243.3L197.3 241.3L197.7 239.1L198.2 236.9L198.6 234.5L199.1 232.1L199.6 229.5L200 226.9L200.5 224.1L201 221.3L201.4 218.4L201.9 215.4L202.3 212.4L202.8 209.3L203.3 206.1L203.7 202.8L204.2 199.5L204.7 196.2L205.1 192.8L205.6 189.3L206 185.8L206.5 182.3L207 178.7L207.4 175.1L207.9 171.4L208.4 167.8L208.8 164.1L209.3 160.3L209.7 156.6L210.2 152.9L210.7 149.1L211.1 145.4L211.6 141.6L212.1 137.9L212.5 134.1L213 130.4L213.4 126.6L213.9 122.9L214.4 119.2L214.8 115.6L215.3 111.9L215.8 108.3L216.2 104.7L216.7 101.1L217.1 97.6L217.6 94.1L218.1 90.7L218.5 87.3L219 84L219.5 80.7L219.9 77.5L220.4 74.3L220.8 71.2L221.3 68.2L221.8 65.2L222.2 62.3L222.7 59.4L223.2 56.7L223.6 54L224.1 51.4L224.5 48.8L225 46.4L225.5 44L225.9 41.8L226.4 39.6L226.9 37.5L227.3 35.5L227.8 33.6L228.2 31.8L228.7 30.1L229.2 28.5L229.6 27L230.1 25.6L230.6 24.3L231 23.1L231.5 22L231.9 21L232.4 20.1L232.9 19.4L233.3 18.7L233.8 18.1L234.3 17.7L234.7 17.4L235.2 17.2L235.6 17L236.1 17L236.6 17.2L237 17.4L237.5 17.7L238 18.1L238.4 18.7L238.9 19.3L239.3 20.1L239.8 21L240.3 21.9L240.7 23L241.2 24.2L241.7 25.5L242.1 26.9L242.6 28.4L243 30L243.5 31.6L244 33.4L244.4 35.3L244.9 37.3L245.4 39.3L245.8 41.5L246.3 43.7L246.7 46L247.2 48.4L247.7 50.9L248.1 53.4L248.6 56.1L249.1 58.8L249.5 61.5L250 64.4L250.4 67.3L250.9 70.3L251.4 73.3L251.8 76.4L252.3 79.5L252.8 82.7L253.2 85.9L253.7 89.2L254.1 92.6L254.6 95.9L255.1 99.3L255.5 102.8L256 106.2L256.5 109.7L256.9 113.2L257.4 116.8L257.8 120.3L258.3 123.9L258.8 127.5L259.2 131.1L259.7 134.6L260.2 138.2L260.6 141.8L261.1 145.4L261.5 149L262 152.5L262.5 156.1L262.9 159.6L263.4 163.1L263.9 166.6L264.3 170.1L264.8 173.5L265.2 176.9L265.7 180.3L266.2 183.6L266.6 186.8L267.1 190.1L267.6 193.3L268 196.4L268.5 199.5L268.9 202.5L269.4 205.5L269.9 208.4L270.3 211.3L270.8 214.1L271.3 216.8L271.7 219.4L272.2 222L272.6 224.5L273.1 227L273.6 229.3L274 231.6L274.5 233.9L275 236L275.4 238L275.9 240L276.4 241.9L276.8 243.7L277.3 245.4L277.7 247L278.2 248.6L278.7 250L279.1 251.4L279.6 252.7L280.1 253.9L280.5 255L281 256L281.4 256.9L281.9 257.7L282.4 258.4L282.8 259L283.3 259.5L283.8 260L284.2 260.3L284.7 260.5L285.1 260.6L285.6 260.6L286.1 260.5L286.5 260.3L287 260L287.5 259.6L287.9 259.1L288.4 258.4L288.8 257.7L289.3 256.8L289.8 255.8L290.2 254.7L290.7 253.5L291.2 252.2L291.6 250.7L292.1 249.1L292.5 247.5L293 245.7L293.5 243.8L293.9 241.7L294.4 239.6L294.9 237.4L295.3 235.1L295.8 232.6L296.2 230.1L296.7 227.5L297.2 224.8L297.6 222L298.1 219.1L298.6 216.1L299 213.1L299.5 210L299.9 206.8L300.4 203.6L300.9 200.3L301.3 197L301.8 193.6L302.3 190.1L302.7 186.6L303.2 183.1L303.6 179.5L304.1 175.9L304.6 172.3L305 168.6L305.5 164.9L306 161.2L306.4 157.5L306.9 153.7L307.3 150L307.8 146.2L308.3 142.5L308.7 138.7L309.2 135L309.7 131.2L310.1 127.5L310.6 123.8L311 120.1L311.5 116.4L312 112.8L312.4 109.1L312.9 105.5L313.4 102L313.8 98.4L314.3 94.9L314.7 91.5L315.2 88.1L315.7 84.8L316.1 81.5L316.6 78.2L317.1 75L317.5 71.9L318 68.8L318.4 65.9L318.9 62.9L319.4 60.1L319.8 57.3L320.3 54.6L320.8 52L321.2 49.4L321.7 46.9L322.1 44.6L322.6 42.3L323.1 40.1L323.5 38L324 36L324.5 34L324.9 32.2L325.4 30.5L325.8 28.8L326.3 27.3L326.8 25.9L327.2 24.6L327.7 23.3L328.2 22.2L328.6 21.2L329.1 20.3L329.5 19.5L330 18.8L330.5 18.3L330.9 17.8L331.4 17.4L331.9 17.2L332.3 17.1L332.8 17L333.2 17.1L333.7 17.3L334.2 17.6L334.6 18L335.1 18.5L335.6 19.2L336 19.9L336.5 20.8L336.9 21.7L337.4 22.8L337.9 23.9L338.3 25.2L338.8 26.6L339.3 28L339.7 29.6L340.2 31.2L340.6 33L341.1 34.9L341.6 36.8L342 38.8L342.5 41L343 43.2L343.4 45.5L343.9 47.8L344.3 50.3L344.8 52.8L345.3 55.5L345.7 58.1L346.2 60.9L346.7 63.7L347.1 66.6L347.6 69.6L348 72.6L348.5 75.7L349 78.8L349.4 82L349.9 85.2L350.4 88.5L350.8 91.8L351.3 95.1L351.7 98.5L352.2 102L352.7 105.4L353.1 108.9L353.6 112.4L354.1 116L354.5 119.5L355 123.1L355.4 126.6L355.9 130.2L356.4 133.8L356.8 137.4L357.3 141L357.8 144.6L358.2 148.2L358.7 151.7L359.1 155.3L359.6 158.8L360.1 162.3L360.5 165.8L361 169.3L361.5 172.7L361.9 176.1L362.4 179.5L362.8 182.8L363.3 186.1L363.8 189.3L364.2 192.5L364.7 195.7L365.2 198.8L365.6 201.8L366.1 204.8L366.5 207.7L367 210.6L367.5 213.4L367.9 216.2L368.4 218.8L368.9 221.4L369.3 224L369.8 226.4L370.3 228.8L370.7 231.1L371.2 233.3L371.6 235.5L372.1 237.6L372.6 239.6L373 241.5L373.5 243.3L374 245L374.4 246.7L374.9 248.2L375.3 249.7L375.8 251.1L376.3 252.4L376.7 253.6L377.2 254.7L377.7 255.7L378.1 256.7L378.6 257.5L379 258.2L379.5 258.9L380 259.4L380.4 259.9L380.9 260.2L381.4 260.5L381.8 260.6L382.3 260.6L382.7 260.6L383.2 260.4L383.7 260.1L384.1 259.7L384.6 259.2L385.1 258.6L385.5 257.9L386 257L386.4 256.1L386.9 255L387.4 253.8L387.8 252.5L388.3 251.1L388.8 249.5L389.2 247.9L389.7 246.1L390.1 244.2L390.6 242.2L391.1 240.1L391.5 237.9L392 235.6L392.5 233.2L392.9 230.7L393.4 228.1L393.8 225.4L394.3 222.6L394.8 219.8L395.2 216.8L395.7 213.8L396.2 210.7L396.6 207.6L397.1 204.3L397.5 201.1L398 197.7L398.5 194.3L398.9 190.9L399.4 187.4L399.9 183.9L400.3 180.3L400.8 176.7L401.2 173.1L401.7 169.4L402.2 165.8L402.6 162.1L403.1 158.3L403.6 154.6L404 150.9L404.5 147.1L404.9 143.4L405.4 139.6L405.9 135.8L406.3 132.1L406.8 128.4L407.3 124.6L407.7 120.9L408.2 117.3L408.6 113.6L409.1 110L409.6 106.3L410 102.8L410.5 99.2L411 95.7L411.4 92.3L411.9 88.9L412.3 85.5L412.8 82.2L413.3 79L413.7 75.8L414.2 72.6L414.7 69.5L415.1 66.5L415.6 63.6L416 60.7L416.5 57.9L417 55.2L417.4 52.6L417.9 50L418.4 47.5L418.8 45.1L419.3 42.8L419.7 40.6L420.2 38.4L420.7 36.4L421.1 34.5L421.6 32.6L422.1 30.9L422.5 29.2L423 27.7L423.4 26.2L423.9 24.9L424.4 23.6L424.8 22.5L425.3 21.4L425.8 20.5L426.2 19.7L426.7 19L427.1 18.4L427.6 17.9L428.1 17.5L428.5 17.2L429 17.1L429.5 17L429.9 17.1L430.4 17.3L430.8 17.5L431.3 17.9L431.8 18.4L432.2 19L432.7 19.7L433.2 20.6L433.6 21.5L434.1 22.5L434.5 23.6L435 24.9L435.5 26.2L435.9 27.7L436.4 29.2L436.9 30.9L437.3 32.6L437.8 34.4L438.2 36.3L438.7 38.4L439.2 40.5L439.6 42.7L440.1 44.9L440.6 47.3L441 49.7L441.5 52.3L441.9 54.8L442.4 57.5L442.9 60.3L443.3 63.1L443.8 65.9L444.3 68.9L444.7 71.9L445.2 74.9L445.6 78.1L446.1 81.2L446.6 84.4L447 87.7L447.5 91L448 94.4L448.4 97.8L448.9 101.2L449.3 104.6L449.8 108.1L450.3 111.6L450.7 115.1L451.2 118.7L451.7 122.2L452.1 125.8L452.6 129.4L453 133L453.5 136.6L454 140.2L454.4 143.8L454.9 147.3L455.4 150.9L455.8 154.5L456.3 158L456.7 161.5L457.2 165L457.7 168.5L458.1 171.9L458.6 175.3L459.1 178.7L459.5 182L460 185.3L460.5 188.6L460.9 191.8L461.4 195L461.8 198.1L462.3 201.1L462.8 204.1L463.2 207.1L463.7 210L464.2 212.8L464.6 215.5L465.1 218.2L465.5 220.8L466 223.4L466.5 225.9L466.9 228.3L467.4 230.6L467.9 232.8L468.3 235L468.8 237.1L469.2 239.1L469.7 241L470.2 242.9L470.6 244.6L471.1 246.3L471.6 247.9L472 249.4L472.5 250.8L472.9 252.1L473.4 253.3L473.9 254.5L474.3 255.5L474.8 256.5L475.3 257.3L475.7 258.1L476.2 258.7L476.6 259.3L477.1 259.8L477.6 260.1L478 260.4L478.5 260.6L479 260.6L479.4 260.6L479.9 260.4L480.3 260.2L480.8 259.8L481.3 259.3L481.7 258.7L482.2 258L482.7 257.2L483.1 256.3L483.6 255.2L484 254.1L484.5 252.8L485 251.4L485.4 249.9L485.9 248.3L486.4 246.5L486.8 244.7L487.3 242.7L487.7 240.6L488.2 238.4L488.7 236.1L489.1 233.8L489.6 231.3L490.1 228.7L490.5 226L491 223.3L491.4 220.4L491.9 217.5L492.4 214.5L492.8 211.4L493.3 208.3L493.8 205.1L494.2 201.8L494.7 198.5L495.1 195.1L495.6 191.7L496.1 188.2L496.5 184.7L497 181.2L497.5 177.6L497.9 173.9L498.4 170.3L498.8 166.6L499.3 162.9L499.8 159.2L500.2 155.5L500.7 151.7L501.2 148L501.6 144.2L502.1 140.5L502.5 136.7L503 133L503.5 129.2L503.9 125.5L504.4 121.8L504.9 118.1L505.3 114.4L505.8 110.8L506.2 107.2L506.7 103.6L507.2 100.1L507.6 96.5L508.1 93.1L508.6 89.7L509 86.3L509.5 83L509.9 79.7L510.4 76.5L510.9 73.3L511.3 70.2L511.8 67.2L512.3 64.3L512.7 61.4L513.2 58.6L513.6 55.8L514.1 53.2L514.6 50.6L515 48.1L515.5 45.7L516 43.3L516.4 41.1L516.9 38.9L517.3 36.9L517.8 34.9L518.3 33L518.7 31.3L519.2 29.6L519.7 28L520.1 26.5L520.6 25.2L521 23.9L521.5 22.7L522 21.7L522.4 20.7L522.9 19.9L523.4 19.1L523.8 18.5L524.3 18L524.7 17.6L525.2 17.3L525.7 17.1L526.1 17L526.6 17.1L527.1 17.2L527.5 17.5L528 17.8L528.4 18.3L528.9 18.9L529.4 19.6L529.8 20.4L530.3 21.3L530.8 22.3L531.2 23.4L531.7 24.6L532.1 25.9L532.6 27.3L533.1 28.8L533.5 30.5L534 32.2L534.5 34L534.9 35.9L535.4 37.9L535.8 40L536.3 42.1L536.8 44.4L537.2 46.7L537.7 49.2L538.2 51.7L538.6 54.2L539.1 56.9L539.5 59.6L540 62.4L540.5 65.3L540.9 68.2L541.4 71.2L541.9 74.2L542.3 77.3L542.8 80.5L543.2 83.7L543.7 87L544.2 90.3L544.6 93.6L545.1 97L545.6 100.4L546 103.8L546.5 107.3L546.9 110.8L547.4 114.3L547.9 117.9L548.3 121.4L548.8 125L549.3 128.6L549.7 132.2L550.2 135.8L550.6 139.3L551.1 142.9L551.6 146.5L552 150.1L552.5 153.6" stroke="#EDB120" stroke-dasharray="14.6 14.4"/>
</g>
<text x="84" y="464.1" font-size="25.6">0</text>
<text x="224.6" y="464.1" font-size="25.6">100</text>
<text x="379.19" y="464.1" font-size="25.6">200</text>
<text x="533.17" y="464.1" font-size="25.6">300</text>
<text x="39.58" y="420.49" font-size="25.6">-0.5</text>
<text x="67.28" y="328.92" font-size="25.6">0</text>
<text x="48.1" y="237.36" font-size="25.6">0.5</text>
<text x="67.84" y="145.79" font-size="25.6">1</text>
<text x="48.1" y="54.23" font-size="25.6">1.5</text>
<g transform="translate(21.9 234.4) rotate(-90)">
<text transform="translate(-2.35 0) scale(1.1507 0.88)" font-size="34" font-style="italic" stroke="#fff" stroke-width="0.55">u</text>
<text transform="translate(16.21 -7) scale(0.8471 1)" font-size="24">*</text>
</g>
<text transform="translate(315.66 501.6) scale(1.05 0.89)" font-size="37" font-style="italic" stroke="#fff" stroke-width="0.55">t</text>
<path d="M90.4 322.22H113.51V175.72H90.4Z" fill="none" stroke="#000" stroke-width="3.9" stroke-dasharray="14.5 14.7"/>
<path d="M118.8 241.4L140.4 279.66" stroke="#000" stroke-width="4.2"/>
<path d="M149 294.9L145.05 267.96L139.41 277.92L127.98 277.6Z" fill="#000"/>
<clipPath id="c2"><rect x="172" y="298.6" width="127" height="95.5"/></clipPath>
<rect x="174" y="300.6" width="123" height="91.5" fill="#fff"/>
<path d="M215 300.6V392.1M256 300.6V392.1M174 346.35H297" stroke="#e0e0e0" stroke-width="1.3" fill="none"/>
<path d="M215 392.1v-2.5M215 300.6v2.5M256 392.1v-2.5M256 300.6v2.5M174 346.35h2.5M297 346.35h-2.5" stroke="#262626" stroke-width="1.3" fill="none"/>
<rect x="174" y="300.6" width="123" height="91.5" fill="none" stroke="#262626" stroke-width="1.3"/>
<g clip-path="url(#c2)" fill="none" stroke-width="3.9" stroke-linejoin="round">
<path d="M174 361.6L175 361.6L176.1 361.6L176.5 361.6L177.1 361.6L178.1 361.5L178.9 361.5L179.2 361.5L180.2 361.4L181.2 361.4L181.4 361.4L182.3 361.3L183.3 361.2L183.8 361.2L184.3 361.1L185.4 361L186.3 360.9L186.4 360.9L187.4 360.8L188.5 360.7L188.8 360.6L189.5 360.5L190.5 360.4L191.2 360.3L191.6 360.2L192.6 360L193.6 359.9L193.7 359.8L194.7 359.7L195.7 359.5L196.2 359.4L196.7 359.3L197.8 359.1L198.6 358.9L198.8 358.8L199.8 358.6L200.9 358.4L201.1 358.3L201.9 358.1L202.9 357.8L203.5 357.7L204 357.6L205 357.3L206 357L206 357L207.1 356.7L208.1 356.4L208.5 356.3L209.1 356.1L210.2 355.8L210.9 355.5L211.2 355.4L212.2 355.1L213.3 354.7L213.4 354.7L214.3 354.4L215.3 354L215.9 353.8L216.4 353.6L217.4 353.2L218.3 352.9L218.4 352.9L219.5 352.5L220.5 352L220.8 351.9L221.5 351.6L222.6 351.2L223.2 350.9L223.6 350.8L224.6 350.3L225.7 349.9L225.7 349.9L226.7 349.4L227.7 349L228.2 348.8L228.8 348.5L229.8 348L230.6 347.6L230.8 347.5L231.9 347L232.9 346.5L233.1 346.4L233.9 346L235 345.5L235.6 345.2L236 345L237.1 344.4L238 343.9L238.1 343.9L239.1 343.4L240.2 342.8L240.5 342.6L241.2 342.2L242.2 341.7L242.9 341.3L243.3 341.1L244.3 340.5L245.3 339.9L245.4 339.9L246.4 339.4L247.4 338.8L247.9 338.5L248.4 338.2L249.5 337.5L250.3 337L250.5 336.9L251.5 336.3L252.6 335.7L252.8 335.5L253.6 335.1L254.6 334.4L255.3 334L255.7 333.8L256.7 333.1L257.7 332.5L257.7 332.5L258.8 331.8L259.8 331.2L260.2 330.9L260.8 330.5L261.9 329.8L262.6 329.3L262.9 329.1L263.9 328.5L265 327.8L265.1 327.7L266 327.1L267 326.4L267.6 326L268.1 325.7L269.1 325L270 324.3L270.1 324.3L271.2 323.6L272.2 322.8L272.5 322.6L273.2 322.1L274.3 321.4L275 320.9L275.3 320.7L276.3 320L277.4 319.2L277.4 319.2L278.4 318.5L279.4 317.8L279.9 317.4L280.5 317L281.5 316.3L282.3 315.7L282.5 315.5L283.6 314.8L284.6 314L284.8 313.9L285.6 313.3L286.7 312.5L287.3 312.1L287.7 311.8L288.7 311L289.7 310.3L289.8 310.3L290.8 309.5L291.8 308.7L292.2 308.5L292.9 308L293.9 307.2L294.7 306.6L294.9 306.4L296 305.7L297 304.9" stroke="#0072BD"/>
<path d="M174 387.5L175 387L176.1 386.5L176.5 386.2L177.1 385.9L178.1 385.2L178.9 384.7L179.2 384.5L180.2 383.7L181.2 382.9L181.4 382.8L182.3 382.1L183.3 381.2L183.8 380.7L184.3 380.3L185.4 379.3L186.3 378.4L186.4 378.3L187.4 377.3L188.5 376.2L188.8 375.9L189.5 375.2L190.5 374.1L191.2 373.4L191.6 373L192.6 372L193.6 370.9L193.7 370.9L194.7 369.9L195.7 368.9L196.2 368.4L196.7 367.9L197.8 366.9L198.6 366.1L198.8 366L199.8 365.1L200.9 364.2L201.1 364L201.9 363.4L202.9 362.6L203.5 362.1L204 361.8L205 361.1L206 360.4L206 360.4L207.1 359.7L208.1 359.1L208.5 358.9L209.1 358.5L210.2 357.9L210.9 357.4L211.2 357.3L212.2 356.7L213.3 356.2L213.4 356.1L214.3 355.6L215.3 355.1L215.9 354.9L216.4 354.6L217.4 354.1L218.3 353.7L218.4 353.6L219.5 353.1L220.5 352.6L220.8 352.5L221.5 352.1L222.6 351.6L223.2 351.3L223.6 351.1L224.6 350.6L225.7 350.1L225.7 350.1L226.7 349.7L227.7 349.2L228.2 348.9L228.8 348.7L229.8 348.1L230.6 347.7L230.8 347.6L231.9 347.1L232.9 346.6L233.1 346.5L233.9 346.1L235 345.6L235.6 345.3L236 345L237.1 344.5L238 344L238.1 343.9L239.1 343.4L240.2 342.8L240.5 342.6L241.2 342.3L242.2 341.7L242.9 341.3L243.3 341.1L244.3 340.5L245.3 340L245.4 339.9L246.4 339.4L247.4 338.8L247.9 338.5L248.4 338.2L249.5 337.6L250.3 337L250.5 336.9L251.5 336.3L252.6 335.7L252.8 335.5L253.6 335.1L254.6 334.4L255.3 334L255.7 333.8L256.7 333.1L257.7 332.5L257.7 332.5L258.8 331.8L259.8 331.2L260.2 330.9L260.8 330.5L261.9 329.8L262.6 329.3L262.9 329.1L263.9 328.5L265 327.8L265.1 327.7L266 327.1L267 326.4L267.6 326L268.1 325.7L269.1 325L270 324.3L270.1 324.3L271.2 323.6L272.2 322.8L272.5 322.6L273.2 322.1L274.3 321.4L275 320.9L275.3 320.7L276.3 320L277.4 319.2L277.4 319.2L278.4 318.5L279.4 317.8L279.9 317.4L280.5 317L281.5 316.3L282.3 315.7L282.5 315.5L283.6 314.8L284.6 314L284.8 313.9L285.6 313.3L286.7 312.5L287.3 312.1L287.7 311.8L288.7 311L289.7 310.3L289.8 310.3L290.8 309.5L291.8 308.7L292.2 308.5L292.9 308L293.9 307.2L294.7 306.6L294.9 306.4L296 305.7L297 304.9" stroke="#D95319"/>
<path d="M174 387.5L175 387L176.1 386.5L176.5 386.2L177.1 385.9L178.1 385.2L178.9 384.7L179.2 384.5L180.2 383.8L181.2 383L181.4 382.8L182.3 382.1L183.3 381.2L183.8 380.8L184.3 380.3L185.4 379.4L186.3 378.5L186.4 378.4L187.4 377.4L188.5 376.4L188.8 376.1L189.5 375.4L190.5 374.3L191.2 373.6L191.6 373.3L192.6 372.3L193.6 371.3L193.7 371.2L194.7 370.3L195.7 369.4L196.2 369L196.7 368.5L197.8 367.6L198.6 366.9L198.8 366.7L199.8 365.9L200.9 365.2L201.1 365L201.9 364.4L202.9 363.7L203.5 363.3L204 363L205 362.4L206 361.8L206 361.8L207.1 361.2L208.1 360.6L208.5 360.4L209.1 360.1L210.2 359.6L210.9 359.2L211.2 359.1L212.2 358.6L213.3 358.1L213.4 358L214.3 357.6L215.3 357.2L215.9 356.9L216.4 356.7L217.4 356.3L218.3 355.9L218.4 355.8L219.5 355.4L220.5 354.9L220.8 354.8L221.5 354.5L222.6 354L223.2 353.8L223.6 353.6L224.6 353.1L225.7 352.7L225.7 352.7L226.7 352.2L227.7 351.8L228.2 351.6L228.8 351.3L229.8 350.8L230.6 350.4L230.8 350.3L231.9 349.8L232.9 349.3L233.1 349.3L233.9 348.8L235 348.3L235.6 348L236 347.8L237.1 347.3L238 346.8L238.1 346.8L239.1 346.2L240.2 345.7L240.5 345.5L241.2 345.1L242.2 344.6L242.9 344.2L243.3 344L244.3 343.4L245.3 342.8L245.4 342.8L246.4 342.2L247.4 341.6L247.9 341.4L248.4 341L249.5 340.4L250.3 339.9L250.5 339.8L251.5 339.2L252.6 338.6L252.8 338.4L253.6 337.9L254.6 337.3L255.3 336.9L255.7 336.6L256.7 336L257.7 335.3L257.7 335.3L258.8 334.6L259.8 334L260.2 333.7L260.8 333.3L261.9 332.6L262.6 332.1L262.9 331.9L263.9 331.2L265 330.5L265.1 330.4L266 329.8L267 329.1L267.6 328.7L268.1 328.4L269.1 327.7L270 327L270.1 327L271.2 326.2L272.2 325.5L272.5 325.3L273.2 324.8L274.3 324L275 323.5L275.3 323.3L276.3 322.5L277.4 321.8L277.4 321.8L278.4 321.1L279.4 320.3L279.9 320L280.5 319.5L281.5 318.8L282.3 318.2L282.5 318L283.6 317.3L284.6 316.5L284.8 316.3L285.6 315.7L286.7 315L287.3 314.5L287.7 314.2L288.7 313.4L289.7 312.6L289.8 312.6L290.8 311.8L291.8 311.1L292.2 310.8L292.9 310.3L293.9 309.5L294.7 308.9L294.9 308.7L296 307.9L297 307.2" stroke="#EDB120" stroke-dasharray="14.6 14.4"/>
</g>
<text x="167.9" y="424.1" font-size="24.4">0</text>
<text x="208.67" y="424.1" font-size="24.4">5</text>
<text x="243.19" y="424.1" font-size="24.4">10</text>
<text x="284.2" y="424.1" font-size="24.4">15</text>
<text x="151.43" y="398.8" font-size="24.4">0</text>
<text x="133.15" y="353.05" font-size="24.4">0.5</text>
<text x="151.97" y="307.3" font-size="24.4">1</text>
<rect x="321.7" y="292.75" width="212.3" height="119.15" fill="#fff" stroke="#262626" stroke-width="1.3"/>
<path d="M329.7 314.9H385.2" stroke="#0072BD" stroke-width="3.9"/>
<text transform="translate(390.62 322.6) scale(1.1189 1)" font-size="30">Order 0</text>
<path d="M329.7 352.3H385.2" stroke="#D95319" stroke-width="3.9"/>
<text transform="translate(391.97 359.5) scale(1.0774 1)" font-size="30">WKB</text>
<path d="M329.7 389.6H385.2" stroke="#EDB120" stroke-width="3.9" stroke-dasharray="14.6 14.4"/>
<text transform="translate(391.07 397.2) scale(1.074 1)" font-size="30">Numerical</text>
<clipPath id="c3"><rect x="708.5" y="8.9" width="474.4" height="425.2"/></clipPath>
<rect x="710.5" y="10.9" width="470.4" height="421.2" fill="#fff"/>
<path d="M867.3 10.9V432.1M1024.1 10.9V432.1M710.5 361.9H1180.9M710.5 291.7H1180.9M710.5 221.5H1180.9M710.5 151.3H1180.9M710.5 81.1H1180.9" stroke="#e0e0e0" stroke-width="1.3" fill="none"/>
<path d="M867.3 432.1v-5.2M867.3 10.9v5.2M1024.1 432.1v-5.2M1024.1 10.9v5.2M710.5 361.9h5.2M1180.9 361.9h-5.2M710.5 291.7h5.2M1180.9 291.7h-5.2M710.5 221.5h5.2M1180.9 221.5h-5.2M710.5 151.3h5.2M1180.9 151.3h-5.2M710.5 81.1h5.2M1180.9 81.1h-5.2" stroke="#262626" stroke-width="1.3" fill="none"/>
<rect x="710.5" y="10.9" width="470.4" height="421.2" fill="none" stroke="#262626" stroke-width="1.3"/>
<g clip-path="url(#c3)" fill="none" stroke-width="3.9" stroke-linejoin="round">
<path d="M710.5 414.6L712.9 413L715.2 411.3L717.6 409.4L720 407.4L722.3 405.3L724.7 403L727 400.4L729.4 397.7L731.8 394.8L734.1 391.7L736.5 388.4L738.9 384.8L741.2 381L743.6 376.9L746 372.5L748.3 367.9L750.7 363L753 357.9L755.4 352.5L757.8 346.7L760.1 340.8L762.5 334.5L764.9 328L767.2 321.3L769.6 314.3L772 307.1L774.3 299.8L776.7 292.2L779.1 284.6L781.4 276.8L783.8 268.9L786.1 261L788.5 253L790.9 245.1L793.2 237.3L795.6 229.5L798 221.8L800.3 214.2L802.7 206.8L805.1 199.6L807.4 192.6L809.8 185.9L812.1 179.3L814.5 173.1L816.9 167.1L819.2 161.3L821.6 155.9L824 150.7L826.3 145.8L828.7 141.1L831.1 136.8L833.4 132.7L835.8 128.8L838.1 125.2L840.5 121.8L842.9 118.7L845.2 115.8L847.6 113L850 110.5L852.3 108.2L854.7 106L857.1 104L859.4 102.1L861.8 100.4L864.1 98.8L866.5 97.3L868.9 96L871.2 94.8L873.6 93.6L876 92.6L878.3 91.6L880.7 90.7L883.1 89.9L885.4 89.2L887.8 88.5L890.2 87.9L892.5 87.3L894.9 86.8L897.2 86.3L899.6 85.8L902 85.4L904.3 85.1L906.7 84.7L909.1 84.4L911.4 84.1L913.8 83.9L916.2 83.6L918.5 83.4L920.9 83.2L923.2 83L925.6 82.9L928 82.7L930.3 82.6L932.7 82.4L935.1 82.3L937.4 82.2L939.8 82.1L942.2 82L944.5 82L946.9 81.9L949.2 81.8L951.6 81.8L954 81.7L956.3 81.6L958.7 81.6L961.1 81.6L963.4 81.5L965.8 81.5L968.2 81.4L970.5 81.4L972.9 81.4L975.2 81.4L977.6 81.3L980 81.3L982.3 81.3L984.7 81.3L987.1 81.3L989.4 81.3L991.8 81.2L994.2 81.2L996.5 81.2L998.9 81.2L1001.2 81.2L1003.6 81.2L1006 81.2L1008.3 81.2L1010.7 81.2L1013.1 81.2L1015.4 81.2L1017.8 81.2L1020.2 81.1L1022.5 81.1L1024.9 81.1L1027.3 81.1L1029.6 81.1L1032 81.1L1034.3 81.1L1036.7 81.1L1039.1 81.1L1041.4 81.1L1043.8 81.1L1046.2 81.1L1048.5 81.1L1050.9 81.1L1053.3 81.1L1055.6 81.1L1058 81.1L1060.3 81.1L1062.7 81.1L1065.1 81.1L1067.4 81.1L1069.8 81.1L1072.2 81.1L1074.5 81.1L1076.9 81.1L1079.3 81.1L1081.6 81.1L1084 81.1L1086.3 81.1L1088.7 81.1L1091.1 81.1L1093.4 81.1L1095.8 81.1L1098.2 81.1L1100.5 81.1L1102.9 81.1L1105.3 81.1L1107.6 81.1L1110 81.1L1112.3 81.1L1114.7 81.1L1117.1 81.1L1119.4 81.1L1121.8 81.1L1124.2 81.1L1126.5 81.1L1128.9 81.1L1131.3 81.1L1133.6 81.1L1136 81.1L1138.4 81.1L1140.7 81.1L1143.1 81.1L1145.4 81.1L1147.8 81.1L1150.2 81.1L1152.5 81.1L1154.9 81.1L1157.3 81.1L1159.6 81.1L1162 81.1L1164.4 81.1L1166.7 81.1L1169.1 81.1L1171.4 81.1L1173.8 81.1L1176.2 81.1L1178.5 81.1L1180.9 81.1" stroke="#0072BD"/>
<path d="M710.5 414.6L710.8 414.5L711.1 414.4L711.4 414.4L711.7 414.3L712 414.2L712.3 414.2L712.6 414.1L712.9 414L713.1 413.9L713.4 413.8L713.7 413.7L714 413.6L714.3 413.5L714.6 413.4L714.9 413.2L715.2 413.1L715.5 412.9L715.8 412.7L716.1 412.6L716.4 412.4L716.7 412.2L717 411.9L717.3 411.7L717.6 411.5L717.9 411.2L718.1 410.9L718.4 410.7L718.7 410.4L719 410L719.3 409.7L719.6 409.4L719.9 409L720.2 408.7L720.5 408.3L720.8 407.9L721.1 407.5L721.4 407L721.7 406.6L722 406.2L722.3 405.7L722.6 405.2L722.9 404.7L723.1 404.2L723.4 403.7L723.7 403.2L724 402.7L724.3 402.2L724.6 401.7L724.9 401.1L725.2 400.6L725.5 400.1L725.8 399.5L726.1 399L726.4 398.5L726.7 398L727 397.5L727.3 397L727.6 396.5L727.9 396.1L728.2 395.6L728.4 395.2L728.7 394.8L729 394.4L729.3 394L729.6 393.7L729.9 393.4L730.2 393.1L730.5 392.8L730.8 392.5L731.1 392.3L731.4 392.1L731.7 391.8L732 391.7L732.3 391.5L732.6 391.3L732.9 391.2L733.2 391.1L733.4 390.9L733.7 390.8L734 390.7L734.3 390.6L734.6 390.5L734.9 390.4L735.2 390.3L735.5 390.2L735.8 390.1L736.1 390L736.4 389.9L736.7 389.7L737 389.6L737.3 389.4L737.6 389.3L737.9 389.1L738.2 388.9L738.4 388.7L738.7 388.4L739 388.2L739.3 387.9L739.6 387.6L739.9 387.3L740.2 387L740.5 386.6L740.8 386.2L741.1 385.8L741.4 385.4L741.7 384.9L742 384.4L742.3 383.9L742.6 383.3L742.9 382.7L743.2 382.1L743.4 381.4L743.7 380.8L744 380.1L744.3 379.3L744.6 378.5L744.9 377.7L745.2 376.9L745.5 376L745.8 375.1L746.1 374.2L746.4 373.3L746.7 372.3L747 371.3L747.3 370.3L747.6 369.2L747.9 368.2L748.2 367.1L748.4 366L748.7 364.9L749 363.8L749.3 362.7L749.6 361.5L749.9 360.4L750.2 359.3L750.5 358.2L750.8 357.1L751.1 356.1L751.4 355L751.7 354L752 353L752.3 352.1L752.6 351.1L752.9 350.3L753.2 349.4L753.5 348.6L753.7 347.9L754 347.2L754.3 346.6L754.6 346L754.9 345.4L755.2 344.9L755.5 344.5L755.8 344.1L756.1 343.7L756.4 343.4L756.7 343.1L757 342.9L757.3 342.7L757.6 342.5L757.9 342.4L758.2 342.2L758.5 342.1L758.7 342L759 341.9L759.3 341.9L759.6 341.8L759.9 341.7L760.2 341.6L760.5 341.5L760.8 341.4L761.1 341.3L761.4 341.2L761.7 341L762 340.8L762.3 340.6L762.6 340.4L762.9 340.1L763.2 339.8L763.5 339.4L763.7 339.1L764 338.6L764.3 338.2L764.6 337.6L764.9 337.1L765.2 336.5L765.5 335.8L765.8 335.1L766.1 334.3L766.4 333.5L766.7 332.6L767 331.7L767.3 330.7L767.6 329.6L767.9 328.5L768.2 327.4L768.5 326.2L768.7 324.9L769 323.6L769.3 322.2L769.6 320.7L769.9 319.2L770.2 317.7L770.5 316.1L770.8 314.4L771.1 312.7L771.4 311L771.7 309.2L772 307.3L772.3 305.5L772.6 303.6L772.9 301.7L773.2 299.8L773.5 297.9L773.7 295.9L774 294L774.3 292.1L774.6 290.2L774.9 288.3L775.2 286.5L775.5 284.6L775.8 282.9L776.1 281.2L776.4 279.6L776.7 278L777 276.5L777.3 275.1L777.6 273.8L777.9 272.5L778.2 271.4L778.5 270.3L778.8 269.4L779 268.6L779.3 267.8L779.6 267.2L779.9 266.7L780.2 266.2L780.5 265.9L780.8 265.6L781.1 265.4L781.4 265.3L781.7 265.3L782 265.3L782.3 265.3L782.6 265.5L782.9 265.6L783.2 265.8L783.5 266.1L783.8 266.3L784 266.6L784.3 266.8L784.6 267.1L784.9 267.3L785.2 267.5L785.5 267.7L785.8 267.9L786.1 268.1L786.4 268.2L786.7 268.2L787 268.2L787.3 268.2L787.6 268.1L787.9 267.9L788.2 267.7L788.5 267.4L788.8 267L789 266.6L789.3 266.1L789.6 265.5L789.9 264.8L790.2 264L790.5 263.2L790.8 262.3L791.1 261.2L791.4 260.1L791.7 259L792 257.7L792.3 256.3L792.6 254.8L792.9 253.3L793.2 251.6L793.5 249.9L793.8 248.1L794 246.2L794.3 244.2L794.6 242.2L794.9 240L795.2 237.8L795.5 235.6L795.8 233.2L796.1 230.8L796.4 228.4L796.7 225.9L797 223.4L797.3 220.8L797.6 218.3L797.9 215.7L798.2 213.1L798.5 210.6L798.8 208L799 205.5L799.3 203.1L799.6 200.7L799.9 198.3L800.2 196.1L800.5 193.9L800.8 191.9L801.1 189.9L801.4 188.1L801.7 186.4L802 184.9L802.3 183.5L802.6 182.2L802.9 181.2L803.2 180.2L803.5 179.5L803.8 178.9L804.1 178.4L804.3 178.2L804.6 178L804.9 178L805.2 178.2L805.5 178.5L805.8 178.9L806.1 179.4L806.4 180L806.7 180.7L807 181.5L807.3 182.3L807.6 183.2L807.9 184.2L808.2 185.1L808.5 186.1L808.8 187.1L809.1 188.1L809.3 189.1L809.6 190.1L809.9 191L810.2 191.9L810.5 192.7L810.8 193.5L811.1 194.3L811.4 194.9L811.7 195.5L812 196L812.3 196.4L812.6 196.7L812.9 196.9L813.2 197.1L813.5 197.1L813.8 197L814.1 196.8L814.3 196.5L814.6 196.1L814.9 195.6L815.2 194.9L815.5 194.2L815.8 193.3L816.1 192.3L816.4 191.1L816.7 189.9L817 188.5L817.3 187.1L817.6 185.5L817.9 183.8L818.2 181.9L818.5 180L818.8 178L819.1 175.8L819.3 173.6L819.6 171.3L819.9 168.9L820.2 166.4L820.5 163.8L820.8 161.2L821.1 158.5L821.4 155.8L821.7 153L822 150.3L822.3 147.5L822.6 144.7L822.9 141.9L823.2 139.2L823.5 136.5L823.8 133.8L824.1 131.3L824.3 128.8L824.6 126.4L824.9 124.1L825.2 122L825.5 120.1L825.8 118.2L826.1 116.6L826.4 115.1L826.7 113.8L827 112.8L827.3 111.9L827.6 111.2L827.9 110.7L828.2 110.5L828.5 110.4L828.8 110.5L829.1 110.8L829.4 111.4L829.6 112L829.9 112.9L830.2 113.9L830.5 115.1L830.8 116.3L831.1 117.7L831.4 119.2L831.7 120.8L832 122.4L832.3 124.1L832.6 125.9L832.9 127.6L833.2 129.4L833.5 131.2L833.8 132.9L834.1 134.7L834.4 136.4L834.6 138L834.9 139.6L835.2 141.1L835.5 142.6L835.8 143.9L836.1 145.2L836.4 146.3L836.7 147.4L837 148.3L837.3 149.1L837.6 149.9L837.9 150.4L838.2 150.9L838.5 151.2L838.8 151.4L839.1 151.4L839.4 151.3L839.6 151.1L839.9 150.7L840.2 150.2L840.5 149.6L840.8 148.8L841.1 147.9L841.4 146.8L841.7 145.6L842 144.2L842.3 142.7L842.6 141.1L842.9 139.4L843.2 137.5L843.5 135.5L843.8 133.5L844.1 131.2L844.4 128.9L844.6 126.5L844.9 124.1L845.2 121.5L845.5 118.9L845.8 116.2L846.1 113.5L846.4 110.7L846.7 107.9L847 105.2L847.3 102.4L847.6 99.7L847.9 97L848.2 94.3L848.5 91.8L848.8 89.3L849.1 86.9L849.4 84.7L849.6 82.6L849.9 80.7L850.2 78.9L850.5 77.3L850.8 75.9L851.1 74.8L851.4 73.8L851.7 73.1L852 72.5L852.3 72.2L852.6 72.2L852.9 72.3L853.2 72.7L853.5 73.3L853.8 74.1L854.1 75.1L854.4 76.3L854.7 77.7L854.9 79.2L855.2 80.9L855.5 82.7L855.8 84.6L856.1 86.7L856.4 88.8L856.7 90.9L857 93.2L857.3 95.4L857.6 97.7L857.9 100L858.2 102.2L858.5 104.5L858.8 106.7L859.1 108.8L859.4 110.9L859.7 112.9L859.9 114.8L860.2 116.6L860.5 118.3L860.8 120L861.1 121.5L861.4 122.8L861.7 124.1L862 125.2L862.3 126.2L862.6 127L862.9 127.7L863.2 128.3L863.5 128.7L863.8 128.9L864.1 129L864.4 129L864.7 128.8L864.9 128.4L865.2 127.9L865.5 127.2L865.8 126.4L866.1 125.5L866.4 124.3L866.7 123.1L867 121.7L867.3 120.1L867.6 118.5L867.9 116.6L868.2 114.7L868.5 112.7L868.8 110.5L869.1 108.2L869.4 105.9L869.7 103.4L869.9 100.9L870.2 98.3L870.5 95.6L870.8 92.9L871.1 90.2L871.4 87.5L871.7 84.8L872 82.1L872.3 79.4L872.6 76.7L872.9 74.2L873.2 71.7L873.5 69.3L873.8 67.1L874.1 65L874.4 63L874.7 61.3L874.9 59.6L875.2 58.2L875.5 57L875.8 56.1L876.1 55.3L876.4 54.8L876.7 54.5L877 54.5L877.3 54.6L877.6 55.1L877.9 55.7L878.2 56.6L878.5 57.7L878.8 59L879.1 60.5L879.4 62.1L879.7 63.9L879.9 65.9L880.2 68L880.5 70.2L880.8 72.5L881.1 74.9L881.4 77.3L881.7 79.8L882 82.3L882.3 84.8L882.6 87.3L882.9 89.8L883.2 92.3L883.5 94.7L883.8 97L884.1 99.3L884.4 101.5L884.7 103.6L885 105.6L885.2 107.4L885.5 109.2L885.8 110.8L886.1 112.4L886.4 113.7L886.7 115L887 116.1L887.3 117L887.6 117.8L887.9 118.4L888.2 118.9L888.5 119.2L888.8 119.4L889.1 119.4L889.4 119.3L889.7 118.9L890 118.5L890.2 117.9L890.5 117.1L890.8 116.1L891.1 115L891.4 113.8L891.7 112.4L892 110.9L892.3 109.2L892.6 107.4L892.9 105.5L893.2 103.5L893.5 101.3L893.8 99L894.1 96.7L894.4 94.2L894.7 91.7L895 89.1L895.2 86.5L895.5 83.8L895.8 81.1L896.1 78.4L896.4 75.7L896.7 73L897 70.4L897.3 67.8L897.6 65.3L897.9 62.9L898.2 60.6L898.5 58.4L898.8 56.4L899.1 54.6L899.4 52.9L899.7 51.4L900 50.1L900.2 49L900.5 48.2L900.8 47.5L901.1 47.2L901.4 47L901.7 47.1L902 47.5L902.3 48L902.6 48.8L902.9 49.9L903.2 51.1L903.5 52.6L903.8 54.2L904.1 56L904.4 58L904.7 60.1L905 62.3L905.2 64.7L905.5 67.1L905.8 69.6L906.1 72.1L906.4 74.7L906.7 77.4L907 80L907.3 82.6L907.6 85.2L907.9 87.7L908.2 90.2L908.5 92.6L908.8 94.9L909.1 97.2L909.4 99.3L909.7 101.4L910 103.3L910.3 105.1L910.5 106.8L910.8 108.3L911.1 109.7L911.4 111L911.7 112.1L912 113.1L912.3 113.9L912.6 114.5L912.9 115L913.2 115.3L913.5 115.5L913.8 115.5L914.1 115.4L914.4 115L914.7 114.6L915 113.9L915.3 113.1L915.5 112.2L915.8 111.1L916.1 109.8L916.4 108.4L916.7 106.9L917 105.2L917.3 103.4L917.6 101.5L917.9 99.4L918.2 97.2L918.5 94.9L918.8 92.6L919.1 90.1L919.4 87.6L919.7 85L920 82.4L920.3 79.7L920.5 77L920.8 74.3L921.1 71.6L921.4 69L921.7 66.4L922 63.8L922.3 61.4L922.6 59L922.9 56.7L923.2 54.6L923.5 52.7L923.8 50.9L924.1 49.3L924.4 47.8L924.7 46.6L925 45.7L925.3 44.9L925.5 44.4L925.8 44.1L926.1 44L926.4 44.2L926.7 44.7L927 45.4L927.3 46.3L927.6 47.4L927.9 48.7L928.2 50.3L928.5 52L928.8 53.9L929.1 56L929.4 58.1L929.7 60.5L930 62.9L930.3 65.4L930.5 67.9L930.8 70.5L931.1 73.2L931.4 75.8L931.7 78.5L932 81.1L932.3 83.7L932.6 86.3L932.9 88.8L933.2 91.2L933.5 93.6L933.8 95.9L934.1 98L934.4 100.1L934.7 102L935 103.8L935.3 105.5L935.6 107L935.8 108.4L936.1 109.6L936.4 110.7L936.7 111.7L937 112.4L937.3 113.1L937.6 113.5L937.9 113.8L938.2 114L938.5 114L938.8 113.8L939.1 113.4L939.4 112.9L939.7 112.3L940 111.4L940.3 110.5L940.6 109.3L940.8 108L941.1 106.6L941.4 105L941.7 103.3L942 101.5L942.3 99.5L942.6 97.4L942.9 95.2L943.2 92.9L943.5 90.5L943.8 88.1L944.1 85.5L944.4 82.9L944.7 80.3L945 77.6L945.3 74.9L945.6 72.3L945.8 69.6L946.1 66.9L946.4 64.4L946.7 61.8L947 59.4L947.3 57.1L947.6 54.9L947.9 52.8L948.2 50.9L948.5 49.2L948.8 47.6L949.1 46.3L949.4 45.1L949.7 44.2L950 43.5L950.3 43.1L950.6 42.9L950.8 42.9L951.1 43.2L951.4 43.7L951.7 44.5L952 45.5L952.3 46.7L952.6 48.1L952.9 49.7L953.2 51.5L953.5 53.4L953.8 55.5L954.1 57.8L954.4 60.1L954.7 62.6L955 65.1L955.3 67.7L955.6 70.4L955.8 73L956.1 75.7L956.4 78.4L956.7 81L957 83.6L957.3 86.2L957.6 88.7L957.9 91.1L958.2 93.5L958.5 95.7L958.8 97.8L959.1 99.9L959.4 101.8L959.7 103.6L960 105.2L960.3 106.7L960.6 108.1L960.9 109.3L961.1 110.3L961.4 111.3L961.7 112L962 112.6L962.3 113L962.6 113.3L962.9 113.4L963.2 113.3L963.5 113.1L963.8 112.7L964.1 112.2L964.4 111.5L964.7 110.6L965 109.6L965.3 108.4L965.6 107.1L965.9 105.6L966.1 104L966.4 102.3L966.7 100.4L967 98.4L967.3 96.3L967.6 94.1L967.9 91.7L968.2 89.3L968.5 86.9L968.8 84.3L969.1 81.7L969.4 79L969.7 76.4L970 73.7L970.3 71L970.6 68.3L970.9 65.7L971.1 63.1L971.4 60.6L971.7 58.2L972 55.9L972.3 53.8L972.6 51.8L972.9 49.9L973.2 48.2L973.5 46.7L973.8 45.4L974.1 44.4L974.4 43.5L974.7 42.9L975 42.5L975.3 42.4L975.6 42.5L975.9 42.9L976.1 43.5L976.4 44.3L976.7 45.3L977 46.6L977.3 48.1L977.6 49.8L977.9 51.6L978.2 53.6L978.5 55.8L978.8 58L979.1 60.4L979.4 62.9L979.7 65.5L980 68.1L980.3 70.7L980.6 73.4L980.9 76.1L981.1 78.8L981.4 81.4L981.7 84L982 86.6L982.3 89.1L982.6 91.5L982.9 93.8L983.2 96L983.5 98.1L983.8 100.1L984.1 102L984.4 103.8L984.7 105.4L985 106.8L985.3 108.2L985.6 109.3L985.9 110.4L986.2 111.2L986.4 111.9L986.7 112.5L987 112.9L987.3 113.1L987.6 113.2L987.9 113.1L988.2 112.8L988.5 112.4L988.8 111.8L989.1 111L989.4 110.1L989.7 109.1L990 107.9L990.3 106.5L990.6 105L990.9 103.3L991.2 101.6L991.4 99.7L991.7 97.6L992 95.5L992.3 93.2L992.6 90.9L992.9 88.5L993.2 85.9L993.5 83.4L993.8 80.8L994.1 78.1L994.4 75.4L994.7 72.7L995 70.1L995.3 67.4L995.6 64.8L995.9 62.2L996.2 59.8L996.4 57.4L996.7 55.1L997 53L997.3 51L997.6 49.2L997.9 47.6L998.2 46.2L998.5 44.9L998.8 43.9L999.1 43.1L999.4 42.6L999.7 42.3L1000 42.2L1000.3 42.4L1000.6 42.8L1000.9 43.5L1001.2 44.4L1001.4 45.5L1001.7 46.8L1002 48.4L1002.3 50.1L1002.6 52L1002.9 54L1003.2 56.2L1003.5 58.5L1003.8 61L1004.1 63.5L1004.4 66L1004.7 68.7L1005 71.3L1005.3 74L1005.6 76.7L1005.9 79.4L1006.2 82L1006.4 84.6L1006.7 87.2L1007 89.6L1007.3 92L1007.6 94.3L1007.9 96.5L1008.2 98.6L1008.5 100.6L1008.8 102.4L1009.1 104.1L1009.4 105.7L1009.7 107.1L1010 108.4L1010.3 109.5L1010.6 110.5L1010.9 111.3L1011.2 112L1011.5 112.5L1011.7 112.9L1012 113L1012.3 113.1L1012.6 112.9L1012.9 112.6L1013.2 112.1L1013.5 111.5L1013.8 110.7L1014.1 109.8L1014.4 108.7L1014.7 107.4L1015 106L1015.3 104.5L1015.6 102.8L1015.9 101L1016.2 99L1016.5 97L1016.7 94.8L1017 92.5L1017.3 90.1L1017.6 87.7L1017.9 85.2L1018.2 82.6L1018.5 79.9L1018.8 77.3L1019.1 74.6L1019.4 71.9L1019.7 69.2L1020 66.6L1020.3 64L1020.6 61.5L1020.9 59L1021.2 56.7L1021.5 54.5L1021.7 52.4L1022 50.4L1022.3 48.7L1022.6 47.1L1022.9 45.7L1023.2 44.6L1023.5 43.6L1023.8 42.9L1024.1 42.4L1024.4 42.2L1024.7 42.2L1025 42.4L1025.3 42.9L1025.6 43.6L1025.9 44.6L1026.2 45.8L1026.5 47.2L1026.7 48.8L1027 50.5L1027.3 52.5L1027.6 54.6L1027.9 56.8L1028.2 59.1L1028.5 61.6L1028.8 64.1L1029.1 66.7L1029.4 69.4L1029.7 72L1030 74.7L1030.3 77.4L1030.6 80.1L1030.9 82.7L1031.2 85.3L1031.5 87.8L1031.7 90.2L1032 92.6L1032.3 94.9L1032.6 97L1032.9 99.1L1033.2 101L1033.5 102.8L1033.8 104.5L1034.1 106.1L1034.4 107.4L1034.7 108.7L1035 109.8L1035.3 110.7L1035.6 111.5L1035.9 112.1L1036.2 112.6L1036.5 112.9L1036.7 113L1037 113L1037.3 112.8L1037.6 112.5L1037.9 111.9L1038.2 111.3L1038.5 110.4L1038.8 109.4L1039.1 108.3L1039.4 107L1039.7 105.6L1040 104L1040.3 102.3L1040.6 100.4L1040.9 98.4L1041.2 96.3L1041.5 94.1L1041.8 91.8L1042 89.4L1042.3 87L1042.6 84.4L1042.9 81.8L1043.2 79.2L1043.5 76.5L1043.8 73.8L1044.1 71.1L1044.4 68.5L1044.7 65.8L1045 63.3L1045.3 60.8L1045.6 58.3L1045.9 56L1046.2 53.8L1046.5 51.8L1046.8 49.9L1047 48.2L1047.3 46.7L1047.6 45.3L1047.9 44.2L1048.2 43.4L1048.5 42.7L1048.8 42.3L1049.1 42.1L1049.4 42.2L1049.7 42.5L1050 43.1L1050.3 43.9L1050.6 44.9L1050.9 46.1L1051.2 47.6L1051.5 49.2L1051.8 51L1052 53L1052.3 55.1L1052.6 57.4L1052.9 59.8L1053.2 62.3L1053.5 64.8L1053.8 67.4L1054.1 70.1L1054.4 72.8L1054.7 75.4L1055 78.1L1055.3 80.8L1055.6 83.4L1055.9 86L1056.2 88.5L1056.5 90.9L1056.8 93.2L1057 95.5L1057.3 97.6L1057.6 99.6L1057.9 101.5L1058.2 103.3L1058.5 104.9L1058.8 106.4L1059.1 107.8L1059.4 109L1059.7 110L1060 110.9L1060.3 111.7L1060.6 112.3L1060.9 112.7L1061.2 112.9L1061.5 113L1061.8 112.9L1062 112.7L1062.3 112.3L1062.6 111.8L1062.9 111L1063.2 110.2L1063.5 109.1L1063.8 107.9L1064.1 106.6L1064.4 105.1L1064.7 103.5L1065 101.7L1065.3 99.9L1065.6 97.8L1065.9 95.7L1066.2 93.5L1066.5 91.2L1066.8 88.7L1067.1 86.3L1067.3 83.7L1067.6 81.1L1067.9 78.4L1068.2 75.8L1068.5 73.1L1068.8 70.4L1069.1 67.7L1069.4 65.1L1069.7 62.6L1070 60.1L1070.3 57.7L1070.6 55.4L1070.9 53.2L1071.2 51.2L1071.5 49.4L1071.8 47.7L1072.1 46.3L1072.3 45L1072.6 44L1072.9 43.1L1073.2 42.6L1073.5 42.2L1073.8 42.1L1074.1 42.2L1074.4 42.6L1074.7 43.3L1075 44.1L1075.3 45.2L1075.6 46.5L1075.9 48L1076.2 49.7L1076.5 51.5L1076.8 53.6L1077.1 55.7L1077.3 58L1077.6 60.5L1077.9 62.9L1078.2 65.5L1078.5 68.1L1078.8 70.8L1079.1 73.5L1079.4 76.2L1079.7 78.8L1080 81.5L1080.3 84.1L1080.6 86.7L1080.9 89.1L1081.2 91.5L1081.5 93.9L1081.8 96.1L1082.1 98.2L1082.3 100.2L1082.6 102L1082.9 103.8L1083.2 105.4L1083.5 106.8L1083.8 108.1L1084.1 109.3L1084.4 110.3L1084.7 111.2L1085 111.8L1085.3 112.4L1085.6 112.8L1085.9 113L1086.2 113L1086.5 112.9L1086.8 112.6L1087.1 112.2L1087.3 111.6L1087.6 110.8L1087.9 109.9L1088.2 108.8L1088.5 107.6L1088.8 106.2L1089.1 104.7L1089.4 103L1089.7 101.2L1090 99.3L1090.3 97.3L1090.6 95.1L1090.9 92.9L1091.2 90.5L1091.5 88.1L1091.8 85.5L1092.1 83L1092.4 80.3L1092.6 77.7L1092.9 75L1093.2 72.3L1093.5 69.6L1093.8 67L1094.1 64.4L1094.4 61.9L1094.7 59.4L1095 57L1095.3 54.8L1095.6 52.7L1095.9 50.7L1096.2 48.9L1096.5 47.3L1096.8 45.9L1097.1 44.7L1097.4 43.7L1097.6 43L1097.9 42.4L1098.2 42.2L1098.5 42.1L1098.8 42.3L1099.1 42.8L1099.4 43.5L1099.7 44.4L1100 45.5L1100.3 46.9L1100.6 48.4L1100.9 50.2L1101.2 52.1L1101.5 54.2L1101.8 56.4L1102.1 58.7L1102.4 61.1L1102.6 63.7L1102.9 66.2L1103.2 68.9L1103.5 71.5L1103.8 74.2L1104.1 76.9L1104.4 79.6L1104.7 82.2L1105 84.8L1105.3 87.3L1105.6 89.8L1105.9 92.2L1106.2 94.5L1106.5 96.7L1106.8 98.7L1107.1 100.7L1107.4 102.5L1107.6 104.2L1107.9 105.8L1108.2 107.2L1108.5 108.5L1108.8 109.6L1109.1 110.6L1109.4 111.4L1109.7 112L1110 112.5L1110.3 112.8L1110.6 113L1110.9 113L1111.2 112.8L1111.5 112.5L1111.8 112L1112.1 111.4L1112.4 110.6L1112.6 109.6L1112.9 108.5L1113.2 107.2L1113.5 105.8L1113.8 104.2L1114.1 102.5L1114.4 100.7L1114.7 98.8L1115 96.7L1115.3 94.5L1115.6 92.2L1115.9 89.8L1116.2 87.4L1116.5 84.8L1116.8 82.2L1117.1 79.6L1117.4 76.9L1117.7 74.3L1117.9 71.6L1118.2 68.9L1118.5 66.3L1118.8 63.7L1119.1 61.2L1119.4 58.7L1119.7 56.4L1120 54.2L1120.3 52.1L1120.6 50.2L1120.9 48.5L1121.2 46.9L1121.5 45.5L1121.8 44.4L1122.1 43.5L1122.4 42.8L1122.7 42.3L1122.9 42.1L1123.2 42.1L1123.5 42.4L1123.8 42.9L1124.1 43.7L1124.4 44.7L1124.7 45.9L1125 47.3L1125.3 48.9L1125.6 50.7L1125.9 52.6L1126.2 54.8L1126.5 57L1126.8 59.4L1127.1 61.8L1127.4 64.4L1127.7 67L1127.9 69.6L1128.2 72.3L1128.5 75L1128.8 77.7L1129.1 80.3L1129.4 82.9L1129.7 85.5L1130 88L1130.3 90.5L1130.6 92.8L1130.9 95.1L1131.2 97.2L1131.5 99.3L1131.8 101.2L1132.1 103L1132.4 104.7L1132.7 106.2L1132.9 107.6L1133.2 108.8L1133.5 109.9L1133.8 110.8L1134.1 111.6L1134.4 112.2L1134.7 112.6L1135 112.9L1135.3 113L1135.6 113L1135.9 112.8L1136.2 112.4L1136.5 111.9L1136.8 111.2L1137.1 110.3L1137.4 109.3L1137.7 108.1L1137.9 106.8L1138.2 105.4L1138.5 103.8L1138.8 102L1139.1 100.2L1139.4 98.2L1139.7 96.1L1140 93.9L1140.3 91.6L1140.6 89.2L1140.9 86.7L1141.2 84.1L1141.5 81.5L1141.8 78.9L1142.1 76.2L1142.4 73.5L1142.7 70.8L1143 68.2L1143.2 65.5L1143.5 63L1143.8 60.5L1144.1 58.1L1144.4 55.8L1144.7 53.6L1145 51.6L1145.3 49.7L1145.6 48L1145.9 46.5L1146.2 45.2L1146.5 44.1L1146.8 43.3L1147.1 42.6L1147.4 42.2L1147.7 42.1L1148 42.2L1148.2 42.5L1148.5 43.1L1148.8 43.9L1149.1 45L1149.4 46.2L1149.7 47.7L1150 49.4L1150.3 51.2L1150.6 53.2L1150.9 55.4L1151.2 57.6L1151.5 60L1151.8 62.5L1152.1 65.1L1152.4 67.7L1152.7 70.3L1153 73L1153.2 75.7L1153.5 78.4L1153.8 81L1154.1 83.7L1154.4 86.2L1154.7 88.7L1155 91.1L1155.3 93.5L1155.6 95.7L1155.9 97.8L1156.2 99.8L1156.5 101.7L1156.8 103.5L1157.1 105.1L1157.4 106.6L1157.7 107.9L1158 109.1L1158.2 110.1L1158.5 111L1158.8 111.7L1159.1 112.3L1159.4 112.7L1159.7 112.9L1160 113L1160.3 112.9L1160.6 112.7L1160.9 112.3L1161.2 111.7L1161.5 110.9L1161.8 110L1162.1 109L1162.4 107.8L1162.7 106.4L1163 104.9L1163.2 103.3L1163.5 101.5L1163.8 99.6L1164.1 97.6L1164.4 95.5L1164.7 93.2L1165 90.9L1165.3 88.5L1165.6 86L1165.9 83.4L1166.2 80.8L1166.5 78.1L1166.8 75.5L1167.1 72.8L1167.4 70.1L1167.7 67.4L1168 64.8L1168.3 62.3L1168.5 59.8L1168.8 57.4L1169.1 55.2L1169.4 53L1169.7 51L1170 49.2L1170.3 47.6L1170.6 46.1L1170.9 44.9L1171.2 43.9L1171.5 43.1L1171.8 42.5L1172.1 42.2L1172.4 42.1L1172.7 42.3L1173 42.7L1173.3 43.3L1173.5 44.2L1173.8 45.3L1174.1 46.6L1174.4 48.2L1174.7 49.9L1175 51.7L1175.3 53.8L1175.6 56L1175.9 58.3L1176.2 60.7L1176.5 63.2L1176.8 65.8L1177.1 68.4L1177.4 71.1L1177.7 73.8L1178 76.5L1178.3 79.1L1178.5 81.8L1178.8 84.4L1179.1 86.9L1179.4 89.4L1179.7 91.8L1180 94.1L1180.3 96.3L1180.6 98.4L1180.9 100.4" stroke="#D95319"/>
<path d="M710.5 414.6L710.8 414.5L711.1 414.4L711.4 414.4L711.7 414.3L712 414.3L712.3 414.2L712.6 414.1L712.9 414L713.1 413.9L713.4 413.9L713.7 413.8L714 413.7L714.3 413.5L714.6 413.4L714.9 413.3L715.2 413.1L715.5 413L715.8 412.8L716.1 412.6L716.4 412.4L716.7 412.2L717 412L717.3 411.8L717.6 411.5L717.9 411.3L718.1 411L718.4 410.7L718.7 410.4L719 410.1L719.3 409.8L719.6 409.4L719.9 409L720.2 408.7L720.5 408.3L720.8 407.9L721.1 407.5L721.4 407L721.7 406.6L722 406.1L722.3 405.7L722.6 405.2L722.9 404.7L723.1 404.2L723.4 403.7L723.7 403.2L724 402.7L724.3 402.2L724.6 401.6L724.9 401.1L725.2 400.6L725.5 400.1L725.8 399.6L726.1 399.1L726.4 398.6L726.7 398.1L727 397.6L727.3 397.1L727.6 396.7L727.9 396.2L728.2 395.8L728.4 395.4L728.7 395L729 394.6L729.3 394.2L729.6 393.9L729.9 393.6L730.2 393.3L730.5 393L730.8 392.7L731.1 392.4L731.4 392.2L731.7 392L732 391.8L732.3 391.6L732.6 391.4L732.9 391.3L733.2 391.1L733.4 391L733.7 390.9L734 390.8L734.3 390.7L734.6 390.6L734.9 390.5L735.2 390.4L735.5 390.3L735.8 390.2L736.1 390L736.4 389.9L736.7 389.8L737 389.7L737.3 389.5L737.6 389.4L737.9 389.2L738.2 389L738.4 388.8L738.7 388.6L739 388.4L739.3 388.1L739.6 387.8L739.9 387.5L740.2 387.2L740.5 386.8L740.8 386.4L741.1 386L741.4 385.5L741.7 385.1L742 384.6L742.3 384L742.6 383.4L742.9 382.8L743.2 382.2L743.4 381.5L743.7 380.8L744 380.1L744.3 379.3L744.6 378.5L744.9 377.7L745.2 376.8L745.5 375.9L745.8 375L746.1 374.1L746.4 373.1L746.7 372.1L747 371.1L747.3 370.1L747.6 369L747.9 368L748.2 366.9L748.4 365.8L748.7 364.7L749 363.6L749.3 362.6L749.6 361.5L749.9 360.4L750.2 359.3L750.5 358.3L750.8 357.2L751.1 356.2L751.4 355.2L751.7 354.2L752 353.3L752.3 352.4L752.6 351.5L752.9 350.7L753.2 349.9L753.5 349.1L753.7 348.4L754 347.7L754.3 347.1L754.6 346.5L754.9 346L755.2 345.5L755.5 345L755.8 344.6L756.1 344.2L756.4 343.9L756.7 343.6L757 343.3L757.3 343.1L757.6 342.9L757.9 342.8L758.2 342.6L758.5 342.5L758.7 342.4L759 342.3L759.3 342.2L759.6 342.1L759.9 342L760.2 342L760.5 341.9L760.8 341.8L761.1 341.7L761.4 341.5L761.7 341.4L762 341.2L762.3 341L762.6 340.8L762.9 340.5L763.2 340.2L763.5 339.9L763.7 339.5L764 339.1L764.3 338.6L764.6 338.1L764.9 337.5L765.2 336.9L765.5 336.2L765.8 335.5L766.1 334.7L766.4 333.8L766.7 332.9L767 331.9L767.3 330.9L767.6 329.8L767.9 328.6L768.2 327.4L768.5 326.1L768.7 324.8L769 323.4L769.3 321.9L769.6 320.4L769.9 318.9L770.2 317.3L770.5 315.6L770.8 313.9L771.1 312.2L771.4 310.4L771.7 308.6L772 306.7L772.3 304.9L772.6 303L772.9 301.1L773.2 299.2L773.5 297.3L773.7 295.5L774 293.6L774.3 291.8L774.6 289.9L774.9 288.2L775.2 286.4L775.5 284.7L775.8 283.1L776.1 281.5L776.4 280L776.7 278.5L777 277.1L777.3 275.8L777.6 274.6L777.9 273.5L778.2 272.5L778.5 271.5L778.8 270.6L779 269.9L779.3 269.2L779.6 268.6L779.9 268.1L780.2 267.6L780.5 267.3L780.8 267L781.1 266.8L781.4 266.7L781.7 266.7L782 266.7L782.3 266.7L782.6 266.8L782.9 267L783.2 267.1L783.5 267.3L783.8 267.6L784 267.8L784.3 268.1L784.6 268.3L784.9 268.5L785.2 268.8L785.5 269L785.8 269.2L786.1 269.3L786.4 269.4L786.7 269.5L787 269.5L787.3 269.4L787.6 269.3L787.9 269.1L788.2 268.9L788.5 268.6L788.8 268.2L789 267.7L789.3 267.1L789.6 266.5L789.9 265.7L790.2 264.9L790.5 263.9L790.8 262.9L791.1 261.8L791.4 260.6L791.7 259.3L792 257.9L792.3 256.4L792.6 254.8L792.9 253.1L793.2 251.3L793.5 249.4L793.8 247.5L794 245.4L794.3 243.3L794.6 241.1L794.9 238.9L795.2 236.6L795.5 234.2L795.8 231.8L796.1 229.3L796.4 226.9L796.7 224.4L797 221.8L797.3 219.3L797.6 216.8L797.9 214.3L798.2 211.8L798.5 209.4L798.8 207L799 204.6L799.3 202.3L799.6 200.1L799.9 198L800.2 196L800.5 194.1L800.8 192.3L801.1 190.6L801.4 189L801.7 187.6L802 186.3L802.3 185.1L802.6 184.1L802.9 183.2L803.2 182.4L803.5 181.9L803.8 181.4L804.1 181.1L804.3 180.9L804.6 180.9L804.9 181L805.2 181.2L805.5 181.5L805.8 181.9L806.1 182.4L806.4 183L806.7 183.7L807 184.5L807.3 185.3L807.6 186.2L807.9 187.1L808.2 188L808.5 189L808.8 190L809.1 190.9L809.3 191.9L809.6 192.8L809.9 193.7L810.2 194.6L810.5 195.4L810.8 196.1L811.1 196.8L811.4 197.4L811.7 197.9L812 198.4L812.3 198.7L812.6 199L812.9 199.1L813.2 199.2L813.5 199.1L813.8 198.9L814.1 198.5L814.3 198.1L814.6 197.5L814.9 196.8L815.2 196L815.5 195L815.8 194L816.1 192.7L816.4 191.4L816.7 189.9L817 188.3L817.3 186.6L817.6 184.8L817.9 182.8L818.2 180.8L818.5 178.6L818.8 176.4L819.1 174L819.3 171.6L819.6 169.1L819.9 166.5L820.2 163.9L820.5 161.2L820.8 158.5L821.1 155.8L821.4 153.1L821.7 150.3L822 147.6L822.3 144.9L822.6 142.3L822.9 139.7L823.2 137.1L823.5 134.7L823.8 132.3L824.1 130L824.3 127.8L824.6 125.8L824.9 123.9L825.2 122.2L825.5 120.6L825.8 119.1L826.1 117.9L826.4 116.8L826.7 115.8L827 115.1L827.3 114.6L827.6 114.2L827.9 114L828.2 114L828.5 114.1L828.8 114.5L829.1 115L829.4 115.6L829.6 116.4L829.9 117.4L830.2 118.5L830.5 119.7L830.8 121L831.1 122.4L831.4 123.9L831.7 125.4L832 127L832.3 128.7L832.6 130.4L832.9 132.1L833.2 133.8L833.5 135.5L833.8 137.2L834.1 138.9L834.4 140.5L834.6 142.1L834.9 143.6L835.2 145L835.5 146.4L835.8 147.6L836.1 148.8L836.4 149.8L836.7 150.8L837 151.6L837.3 152.3L837.6 152.8L837.9 153.2L838.2 153.5L838.5 153.6L838.8 153.6L839.1 153.4L839.4 153.1L839.6 152.6L839.9 152L840.2 151.2L840.5 150.3L840.8 149.2L841.1 147.9L841.4 146.6L841.7 145L842 143.4L842.3 141.6L842.6 139.7L842.9 137.6L843.2 135.5L843.5 133.2L843.8 130.9L844.1 128.4L844.4 125.9L844.6 123.4L844.9 120.7L845.2 118.1L845.5 115.4L845.8 112.6L846.1 109.9L846.4 107.2L846.7 104.5L847 101.9L847.3 99.3L847.6 96.8L847.9 94.4L848.2 92L848.5 89.8L848.8 87.7L849.1 85.8L849.4 84L849.6 82.3L849.9 80.9L850.2 79.6L850.5 78.4L850.8 77.5L851.1 76.8L851.4 76.3L851.7 75.9L852 75.8L852.3 75.9L852.6 76.2L852.9 76.6L853.2 77.3L853.5 78.1L853.8 79.2L854.1 80.3L854.4 81.7L854.7 83.2L854.9 84.8L855.2 86.5L855.5 88.4L855.8 90.3L856.1 92.3L856.4 94.4L856.7 96.5L857 98.7L857.3 100.9L857.6 103.1L857.9 105.3L858.2 107.5L858.5 109.6L858.8 111.7L859.1 113.7L859.4 115.7L859.7 117.6L859.9 119.4L860.2 121.1L860.5 122.7L860.8 124.2L861.1 125.5L861.4 126.7L861.7 127.8L862 128.8L862.3 129.5L862.6 130.2L862.9 130.6L863.2 131L863.5 131.1L863.8 131.1L864.1 130.9L864.4 130.6L864.7 130L864.9 129.4L865.2 128.5L865.5 127.5L865.8 126.3L866.1 125L866.4 123.6L866.7 122L867 120.2L867.3 118.3L867.6 116.3L867.9 114.2L868.2 112L868.5 109.6L868.8 107.2L869.1 104.7L869.4 102.2L869.7 99.6L869.9 97L870.2 94.3L870.5 91.6L870.8 89L871.1 86.3L871.4 83.7L871.7 81.1L872 78.7L872.3 76.2L872.6 73.9L872.9 71.7L873.2 69.6L873.5 67.7L873.8 65.9L874.1 64.3L874.4 62.8L874.7 61.5L874.9 60.4L875.2 59.5L875.5 58.9L875.8 58.4L876.1 58.1L876.4 58L876.7 58.2L877 58.5L877.3 59.1L877.6 59.8L877.9 60.8L878.2 61.9L878.5 63.2L878.8 64.7L879.1 66.3L879.4 68.1L879.7 70L879.9 72L880.2 74.1L880.5 76.3L880.8 78.6L881.1 81L881.4 83.3L881.7 85.8L882 88.2L882.3 90.6L882.6 93L882.9 95.4L883.2 97.8L883.5 100.1L883.8 102.3L884.1 104.5L884.4 106.5L884.7 108.5L885 110.3L885.2 112.1L885.5 113.7L885.8 115.1L886.1 116.5L886.4 117.7L886.7 118.7L887 119.6L887.3 120.3L887.6 120.8L887.9 121.2L888.2 121.4L888.5 121.4L888.8 121.3L889.1 121L889.4 120.5L889.7 119.8L890 119L890.2 118L890.5 116.9L890.8 115.6L891.1 114.1L891.4 112.5L891.7 110.7L892 108.9L892.3 106.9L892.6 104.7L892.9 102.5L893.2 100.2L893.5 97.8L893.8 95.3L894.1 92.8L894.4 90.2L894.7 87.6L895 84.9L895.2 82.3L895.5 79.7L895.8 77.1L896.1 74.5L896.4 72L896.7 69.6L897 67.2L897.3 65L897.6 62.8L897.9 60.8L898.2 59L898.5 57.3L898.8 55.8L899.1 54.4L899.4 53.3L899.7 52.3L900 51.6L900.2 51L900.5 50.7L900.8 50.5L901.1 50.6L901.4 50.9L901.7 51.4L902 52.1L902.3 53L902.6 54.1L902.9 55.4L903.2 56.9L903.5 58.5L903.8 60.3L904.1 62.2L904.4 64.2L904.7 66.4L905 68.7L905.2 71L905.5 73.4L905.8 75.9L906.1 78.4L906.4 80.9L906.7 83.4L907 86L907.3 88.5L907.6 90.9L907.9 93.4L908.2 95.7L908.5 98L908.8 100.2L909.1 102.3L909.4 104.4L909.7 106.2L910 108L910.3 109.7L910.5 111.2L910.8 112.5L911.1 113.7L911.4 114.7L911.7 115.6L912 116.3L912.3 116.9L912.6 117.3L912.9 117.5L913.2 117.5L913.5 117.3L913.8 117L914.1 116.5L914.4 115.8L914.7 115L915 114L915.3 112.8L915.5 111.5L915.8 110L916.1 108.4L916.4 106.6L916.7 104.7L917 102.7L917.3 100.6L917.6 98.3L917.9 96L918.2 93.6L918.5 91.1L918.8 88.5L919.1 86L919.4 83.4L919.7 80.7L920 78.1L920.3 75.5L920.5 72.9L920.8 70.4L921.1 67.9L921.4 65.5L921.7 63.2L922 61L922.3 58.9L922.6 57L922.9 55.2L923.2 53.6L923.5 52.2L923.8 50.9L924.1 49.8L924.4 48.9L924.7 48.3L925 47.8L925.3 47.6L925.5 47.5L925.8 47.7L926.1 48.1L926.4 48.7L926.7 49.5L927 50.5L927.3 51.7L927.6 53.1L927.9 54.6L928.2 56.3L928.5 58.2L928.8 60.2L929.1 62.3L929.4 64.6L929.7 66.9L930 69.3L930.3 71.8L930.5 74.3L930.8 76.8L931.1 79.4L931.4 82L931.7 84.5L932 87.1L932.3 89.6L932.6 92L932.9 94.4L933.2 96.7L933.5 98.9L933.8 101L934.1 103.1L934.4 104.9L934.7 106.7L935 108.3L935.3 109.8L935.6 111.1L935.8 112.3L936.1 113.3L936.4 114.2L936.7 114.9L937 115.4L937.3 115.7L937.6 115.9L937.9 115.9L938.2 115.7L938.5 115.4L938.8 114.8L939.1 114.1L939.4 113.2L939.7 112.2L940 111L940.3 109.6L940.6 108.1L940.8 106.5L941.1 104.7L941.4 102.7L941.7 100.7L942 98.5L942.3 96.3L942.6 93.9L942.9 91.5L943.2 89L943.5 86.4L943.8 83.9L944.1 81.2L944.4 78.6L944.7 76L945 73.4L945.3 70.8L945.6 68.3L945.8 65.9L946.1 63.5L946.4 61.3L946.7 59.1L947 57.1L947.3 55.2L947.6 53.5L947.9 51.9L948.2 50.5L948.5 49.3L948.8 48.3L949.1 47.5L949.4 46.9L949.7 46.5L950 46.3L950.3 46.4L950.6 46.6L950.8 47.1L951.1 47.8L951.4 48.6L951.7 49.7L952 51L952.3 52.4L952.6 54L952.9 55.8L953.2 57.7L953.5 59.8L953.8 62L954.1 64.2L954.4 66.6L954.7 69L955 71.5L955.3 74.1L955.6 76.7L955.8 79.2L956.1 81.8L956.4 84.4L956.7 87L957 89.5L957.3 91.9L957.6 94.3L957.9 96.6L958.2 98.8L958.5 100.9L958.8 102.9L959.1 104.7L959.4 106.5L959.7 108.1L960 109.5L960.3 110.8L960.6 112L960.9 113L961.1 113.8L961.4 114.4L961.7 114.9L962 115.2L962.3 115.3L962.6 115.3L962.9 115L963.2 114.6L963.5 114.1L963.8 113.3L964.1 112.4L964.4 111.3L964.7 110.1L965 108.7L965.3 107.1L965.6 105.4L965.9 103.6L966.1 101.6L966.4 99.6L966.7 97.4L967 95.1L967.3 92.7L967.6 90.3L967.9 87.8L968.2 85.2L968.5 82.6L968.8 80L969.1 77.4L969.4 74.7L969.7 72.2L970 69.6L970.3 67.1L970.6 64.7L970.9 62.4L971.1 60.1L971.4 58L971.7 56L972 54.2L972.3 52.5L972.6 51L972.9 49.7L973.2 48.5L973.5 47.6L973.8 46.8L974.1 46.3L974.4 46L974.7 45.9L975 46L975.3 46.3L975.6 46.8L975.9 47.6L976.1 48.5L976.4 49.6L976.7 50.9L977 52.4L977.3 54.1L977.6 55.9L977.9 57.9L978.2 60L978.5 62.2L978.8 64.5L979.1 66.9L979.4 69.4L979.7 71.9L980 74.4L980.3 77L980.6 79.6L980.9 82.2L981.1 84.8L981.4 87.3L981.7 89.8L982 92.3L982.3 94.6L982.6 96.9L982.9 99.1L983.2 101.2L983.5 103.1L983.8 105L984.1 106.7L984.4 108.2L984.7 109.6L985 110.9L985.3 112L985.6 112.9L985.9 113.7L986.2 114.3L986.4 114.7L986.7 115L987 115.1L987.3 115L987.6 114.7L987.9 114.3L988.2 113.6L988.5 112.8L988.8 111.9L989.1 110.8L989.4 109.5L989.7 108L990 106.4L990.3 104.7L990.6 102.8L990.9 100.8L991.2 98.7L991.4 96.5L991.7 94.2L992 91.8L992.3 89.4L992.6 86.8L992.9 84.3L993.2 81.7L993.5 79L993.8 76.4L994.1 73.8L994.4 71.2L994.7 68.7L995 66.2L995.3 63.8L995.6 61.5L995.9 59.3L996.2 57.3L996.4 55.3L996.7 53.5L997 51.9L997.3 50.4L997.6 49.1L997.9 48.1L998.2 47.2L998.5 46.5L998.8 46L999.1 45.7L999.4 45.7L999.7 45.9L1000 46.2L1000.3 46.8L1000.6 47.6L1000.9 48.6L1001.2 49.8L1001.4 51.2L1001.7 52.7L1002 54.4L1002.3 56.3L1002.6 58.3L1002.9 60.4L1003.2 62.7L1003.5 65L1003.8 67.4L1004.1 69.9L1004.4 72.5L1004.7 75L1005 77.6L1005.3 80.2L1005.6 82.8L1005.9 85.4L1006.2 87.9L1006.4 90.4L1006.7 92.8L1007 95.1L1007.3 97.4L1007.6 99.6L1007.9 101.6L1008.2 103.5L1008.5 105.3L1008.8 107L1009.1 108.5L1009.4 109.9L1009.7 111.1L1010 112.2L1010.3 113.1L1010.6 113.8L1010.9 114.4L1011.2 114.7L1011.5 115L1011.7 115L1012 114.8L1012.3 114.5L1012.6 114L1012.9 113.3L1013.2 112.5L1013.5 111.5L1013.8 110.3L1014.1 109L1014.4 107.5L1014.7 105.9L1015 104.1L1015.3 102.2L1015.6 100.2L1015.9 98.1L1016.2 95.8L1016.5 93.5L1016.7 91.1L1017 88.6L1017.3 86L1017.6 83.5L1017.9 80.9L1018.2 78.2L1018.5 75.6L1018.8 73L1019.1 70.5L1019.4 67.9L1019.7 65.5L1020 63.1L1020.3 60.8L1020.6 58.7L1020.9 56.6L1021.2 54.7L1021.5 53L1021.7 51.4L1022 50L1022.3 48.7L1022.6 47.7L1022.9 46.9L1023.2 46.3L1023.5 45.8L1023.8 45.6L1024.1 45.6L1024.4 45.9L1024.7 46.3L1025 47L1025.3 47.8L1025.6 48.9L1025.9 50.1L1026.2 51.5L1026.5 53.1L1026.7 54.9L1027 56.8L1027.3 58.8L1027.6 61L1027.9 63.3L1028.2 65.6L1028.5 68.1L1028.8 70.6L1029.1 73.1L1029.4 75.7L1029.7 78.3L1030 80.9L1030.3 83.5L1030.6 86L1030.9 88.6L1031.2 91L1031.5 93.4L1031.7 95.7L1032 98L1032.3 100.1L1032.6 102.1L1032.9 104L1033.2 105.8L1033.5 107.4L1033.8 108.9L1034.1 110.2L1034.4 111.4L1034.7 112.4L1035 113.3L1035.3 113.9L1035.6 114.4L1035.9 114.8L1036.2 114.9L1036.5 114.9L1036.7 114.7L1037 114.4L1037.3 113.8L1037.6 113.1L1037.9 112.2L1038.2 111.2L1038.5 109.9L1038.8 108.6L1039.1 107L1039.4 105.4L1039.7 103.6L1040 101.6L1040.3 99.6L1040.6 97.4L1040.9 95.1L1041.2 92.8L1041.5 90.4L1041.8 87.9L1042 85.3L1042.3 82.7L1042.6 80.1L1042.9 77.5L1043.2 74.9L1043.5 72.3L1043.8 69.7L1044.1 67.2L1044.4 64.8L1044.7 62.4L1045 60.2L1045.3 58.1L1045.6 56.1L1045.9 54.2L1046.2 52.5L1046.5 50.9L1046.8 49.6L1047 48.4L1047.3 47.4L1047.6 46.7L1047.9 46.1L1048.2 45.7L1048.5 45.6L1048.8 45.7L1049.1 45.9L1049.4 46.4L1049.7 47.1L1050 48.1L1050.3 49.2L1050.6 50.5L1050.9 51.9L1051.2 53.6L1051.5 55.4L1051.8 57.3L1052 59.4L1052.3 61.6L1052.6 63.9L1052.9 66.3L1053.2 68.7L1053.5 71.2L1053.8 73.8L1054.1 76.4L1054.4 79L1054.7 81.6L1055 84.2L1055.3 86.7L1055.6 89.2L1055.9 91.7L1056.2 94L1056.5 96.3L1056.8 98.5L1057 100.6L1057.3 102.6L1057.6 104.5L1057.9 106.2L1058.2 107.8L1058.5 109.2L1058.8 110.5L1059.1 111.7L1059.4 112.6L1059.7 113.4L1060 114.1L1060.3 114.5L1060.6 114.8L1060.9 114.9L1061.2 114.9L1061.5 114.6L1061.8 114.2L1062 113.6L1062.3 112.9L1062.6 111.9L1062.9 110.8L1063.2 109.6L1063.5 108.1L1063.8 106.6L1064.1 104.9L1064.4 103L1064.7 101.1L1065 99L1065.3 96.8L1065.6 94.5L1065.9 92.1L1066.2 89.7L1066.5 87.1L1066.8 84.6L1067.1 82L1067.3 79.4L1067.6 76.7L1067.9 74.1L1068.2 71.6L1068.5 69L1068.8 66.5L1069.1 64.1L1069.4 61.8L1069.7 59.6L1070 57.5L1070.3 55.5L1070.6 53.7L1070.9 52L1071.2 50.5L1071.5 49.2L1071.8 48.1L1072.1 47.2L1072.3 46.5L1072.6 46L1072.9 45.7L1073.2 45.6L1073.5 45.7L1073.8 46L1074.1 46.6L1074.4 47.4L1074.7 48.3L1075 49.5L1075.3 50.8L1075.6 52.4L1075.9 54L1076.2 55.9L1076.5 57.9L1076.8 60L1077.1 62.2L1077.3 64.5L1077.6 66.9L1077.9 69.4L1078.2 71.9L1078.5 74.5L1078.8 77.1L1079.1 79.7L1079.4 82.3L1079.7 84.9L1080 87.4L1080.3 89.9L1080.6 92.3L1080.9 94.7L1081.2 97L1081.5 99.1L1081.8 101.2L1082.1 103.1L1082.3 105L1082.6 106.7L1082.9 108.2L1083.2 109.6L1083.5 110.9L1083.8 112L1084.1 112.9L1084.4 113.6L1084.7 114.2L1085 114.6L1085.3 114.9L1085.6 114.9L1085.9 114.8L1086.2 114.5L1086.5 114.1L1086.8 113.4L1087.1 112.6L1087.3 111.6L1087.6 110.5L1087.9 109.2L1088.2 107.7L1088.5 106.1L1088.8 104.4L1089.1 102.5L1089.4 100.5L1089.7 98.4L1090 96.1L1090.3 93.8L1090.6 91.4L1090.9 89L1091.2 86.4L1091.5 83.9L1091.8 81.3L1092.1 78.6L1092.4 76L1092.6 73.4L1092.9 70.8L1093.2 68.3L1093.5 65.9L1093.8 63.5L1094.1 61.2L1094.4 59L1094.7 56.9L1095 55L1095.3 53.2L1095.6 51.6L1095.9 50.2L1096.2 48.9L1096.5 47.8L1096.8 47L1097.1 46.3L1097.4 45.8L1097.6 45.6L1097.9 45.6L1098.2 45.8L1098.5 46.2L1098.8 46.8L1099.1 47.6L1099.4 48.6L1099.7 49.8L1100 51.2L1100.3 52.8L1100.6 54.5L1100.9 56.4L1101.2 58.4L1101.5 60.6L1101.8 62.8L1102.1 65.2L1102.4 67.6L1102.6 70.1L1102.9 72.6L1103.2 75.2L1103.5 77.8L1103.8 80.4L1104.1 83L1104.4 85.6L1104.7 88.1L1105 90.6L1105.3 93L1105.6 95.3L1105.9 97.6L1106.2 99.7L1106.5 101.7L1106.8 103.7L1107.1 105.4L1107.4 107.1L1107.6 108.6L1107.9 110L1108.2 111.2L1108.5 112.2L1108.8 113.1L1109.1 113.8L1109.4 114.3L1109.7 114.7L1110 114.9L1110.3 114.9L1110.6 114.8L1110.9 114.4L1111.2 113.9L1111.5 113.2L1111.8 112.4L1112.1 111.3L1112.4 110.1L1112.6 108.8L1112.9 107.3L1113.2 105.6L1113.5 103.9L1113.8 102L1114.1 99.9L1114.4 97.8L1114.7 95.5L1115 93.2L1115.3 90.8L1115.6 88.3L1115.9 85.7L1116.2 83.1L1116.5 80.5L1116.8 77.9L1117.1 75.3L1117.4 72.7L1117.7 70.1L1117.9 67.6L1118.2 65.2L1118.5 62.8L1118.8 60.6L1119.1 58.4L1119.4 56.4L1119.7 54.5L1120 52.8L1120.3 51.2L1120.6 49.8L1120.9 48.6L1121.2 47.6L1121.5 46.8L1121.8 46.2L1122.1 45.8L1122.4 45.6L1122.7 45.6L1122.9 45.9L1123.2 46.3L1123.5 47L1123.8 47.9L1124.1 48.9L1124.4 50.2L1124.7 51.7L1125 53.3L1125.3 55L1125.6 57L1125.9 59L1126.2 61.2L1126.5 63.5L1126.8 65.8L1127.1 68.3L1127.4 70.8L1127.7 73.3L1127.9 75.9L1128.2 78.5L1128.5 81.1L1128.8 83.7L1129.1 86.3L1129.4 88.8L1129.7 91.2L1130 93.6L1130.3 95.9L1130.6 98.2L1130.9 100.3L1131.2 102.3L1131.5 104.2L1131.8 105.9L1132.1 107.5L1132.4 109L1132.7 110.3L1132.9 111.5L1133.2 112.5L1133.5 113.3L1133.8 114L1134.1 114.5L1134.4 114.8L1134.7 114.9L1135 114.9L1135.3 114.7L1135.6 114.3L1135.9 113.7L1136.2 113L1136.5 112.1L1136.8 111L1137.1 109.8L1137.4 108.4L1137.7 106.9L1137.9 105.2L1138.2 103.3L1138.5 101.4L1138.8 99.3L1139.1 97.2L1139.4 94.9L1139.7 92.5L1140 90.1L1140.3 87.6L1140.6 85L1140.9 82.4L1141.2 79.8L1141.5 77.2L1141.8 74.6L1142.1 72L1142.4 69.4L1142.7 66.9L1143 64.5L1143.2 62.2L1143.5 59.9L1143.8 57.8L1144.1 55.8L1144.4 54L1144.7 52.3L1145 50.8L1145.3 49.4L1145.6 48.3L1145.9 47.3L1146.2 46.6L1146.5 46L1146.8 45.7L1147.1 45.6L1147.4 45.7L1147.7 46L1148 46.5L1148.2 47.2L1148.5 48.1L1148.8 49.3L1149.1 50.6L1149.4 52.1L1149.7 53.7L1150 55.6L1150.3 57.5L1150.6 59.6L1150.9 61.8L1151.2 64.1L1151.5 66.5L1151.8 69L1152.1 71.5L1152.4 74.1L1152.7 76.6L1153 79.2L1153.2 81.8L1153.5 84.4L1153.8 87L1154.1 89.5L1154.4 91.9L1154.7 94.3L1155 96.6L1155.3 98.8L1155.6 100.8L1155.9 102.8L1156.2 104.7L1156.5 106.4L1156.8 108L1157.1 109.4L1157.4 110.7L1157.7 111.8L1158 112.7L1158.2 113.5L1158.5 114.1L1158.8 114.6L1159.1 114.8L1159.4 114.9L1159.7 114.8L1160 114.6L1160.3 114.1L1160.6 113.5L1160.9 112.8L1161.2 111.8L1161.5 110.7L1161.8 109.4L1162.1 108L1162.4 106.4L1162.7 104.7L1163 102.8L1163.2 100.8L1163.5 98.7L1163.8 96.5L1164.1 94.2L1164.4 91.8L1164.7 89.4L1165 86.9L1165.3 84.3L1165.6 81.7L1165.9 79.1L1166.2 76.5L1166.5 73.9L1166.8 71.3L1167.1 68.7L1167.4 66.3L1167.7 63.9L1168 61.6L1168.3 59.3L1168.5 57.3L1168.8 55.3L1169.1 53.5L1169.4 51.9L1169.7 50.4L1170 49.1L1170.3 48L1170.6 47.1L1170.9 46.4L1171.2 45.9L1171.5 45.6L1171.8 45.6L1172.1 45.7L1172.4 46.1L1172.7 46.7L1173 47.5L1173.3 48.4L1173.5 49.6L1173.8 51L1174.1 52.5L1174.4 54.2L1174.7 56.1L1175 58.1L1175.3 60.2L1175.6 62.4L1175.9 64.8L1176.2 67.2L1176.5 69.7L1176.8 72.2L1177.1 74.8L1177.4 77.4L1177.7 80L1178 82.6L1178.3 85.1L1178.5 87.7L1178.8 90.2L1179.1 92.6L1179.4 94.9L1179.7 97.2L1180 99.3L1180.3 101.4L1180.6 103.3L1180.9 105.1" stroke="#EDB120" stroke-dasharray="14.6 14.4"/>
</g>
<text x="704.1" y="464.1" font-size="25.6">0</text>
<text x="861.04" y="464.1" font-size="25.6">2</text>
<text x="1017.65" y="464.1" font-size="25.6">4</text>
<text x="1174.33" y="464.1" font-size="25.6">6</text>
<text x="687.38" y="438.8" font-size="25.6">0</text>
<text x="668.61" y="368.6" font-size="25.6">0.2</text>
<text x="667.6" y="298.4" font-size="25.6">0.4</text>
<text x="667.96" y="228.2" font-size="25.6">0.6</text>
<text x="668.18" y="158" font-size="25.6">0.8</text>
<text x="687.94" y="87.8" font-size="25.6">1</text>
<text x="668.61" y="17.6" font-size="25.6">1.2</text>
<g transform="translate(649.9 234.4) rotate(-90)">
<text transform="translate(-2.35 0) scale(1.1507 0.88)" font-size="34" font-style="italic" stroke="#fff" stroke-width="0.55">u</text>
<text transform="translate(16.21 -7) scale(0.8471 1)" font-size="24">*</text>
</g>
<text transform="translate(939.96 501.6) scale(1.05 0.89)" font-size="37" font-style="italic" stroke="#fff" stroke-width="0.55">t</text>
<rect x="929.3" y="293" width="233.7" height="118.9" fill="#fff" stroke="#262626" stroke-width="1.3"/>
<path d="M937.1 314.7H1012.7" stroke="#0072BD" stroke-width="3.9"/>
<text transform="translate(1018.61 322.4) scale(1.1311 1)" font-size="30">Order 0</text>
<path d="M937.1 352.6H1012.7" stroke="#D95319" stroke-width="3.9"/>
<text transform="translate(1018.63 359.9) scale(1.116 1)" font-size="30">Order 1</text>
<path d="M937.1 389.6H1012.7" stroke="#EDB120" stroke-width="3.9" stroke-dasharray="14.6 14.4"/>
<text transform="translate(1019.07 396.9) scale(1.0772 1)" font-size="30">Numerical</text>
<clipPath id="c4"><rect x="92.7" y="639.3" width="461.8" height="424.9"/></clipPath>
<rect x="94.7" y="641.3" width="457.8" height="420.9" fill="#fff"/>
<path d="M186.26 641.3V1062.2M277.82 641.3V1062.2M369.38 641.3V1062.2M460.94 641.3V1062.2M94.7 992.05H552.5M94.7 875.13H552.5M94.7 758.22H552.5" stroke="#e0e0e0" stroke-width="1.3" fill="none"/>
<path d="M186.26 1062.2v-5.2M186.26 641.3v5.2M277.82 1062.2v-5.2M277.82 641.3v5.2M369.38 1062.2v-5.2M369.38 641.3v5.2M460.94 1062.2v-5.2M460.94 641.3v5.2M94.7 992.05h5.2M552.5 992.05h-5.2M94.7 875.13h5.2M552.5 875.13h-5.2M94.7 758.22h5.2M552.5 758.22h-5.2" stroke="#262626" stroke-width="1.3" fill="none"/>
<rect x="94.7" y="641.3" width="457.8" height="420.9" fill="none" stroke="#262626" stroke-width="1.3"/>
<g clip-path="url(#c4)" fill="none" stroke-width="3.9" stroke-linejoin="round">
<path d="M94.7 875.1L95.1 879.9L95.5 884.5L95.8 888.8L96.2 893L96.6 897L97 900.8L97.4 904.4L97.8 907.8L98.1 911L98.5 914.1L98.9 917L99.3 919.7L99.7 922.3L100 924.7L100.4 926.9L100.8 929.1L101.2 931.1L101.6 932.9L102 934.7L102.3 936.3L102.7 937.8L103.1 939.2L103.5 940.5L103.9 941.7L104.2 942.8L104.6 943.7L105 944.6L105.4 945.4L105.8 946.2L106.2 946.8L106.5 947.4L106.9 947.8L107.3 948.2L107.7 948.5L108.1 948.8L108.4 948.9L108.8 949L109.2 949L109.6 949L110 948.8L110.4 948.6L110.7 948.3L111.1 948L111.5 947.5L111.9 947L112.3 946.4L112.6 945.7L113 944.9L113.4 944.1L113.8 943.1L114.2 942L114.6 940.9L114.9 939.6L115.3 938.3L115.7 936.8L116.1 935.2L116.5 933.5L116.8 931.7L117.2 929.8L117.6 927.7L118 925.5L118.4 923.1L118.8 920.6L119.1 917.9L119.5 915.1L119.9 912.1L120.3 908.9L120.7 905.5L121 902L121.4 898.3L121.8 894.4L122.2 890.3L122.6 886L123 881.5L123.3 876.8L123.7 871.8L124.1 866.7L124.5 861.4L124.9 855.9L125.2 850.2L125.6 844.3L126 838.2L126.4 832L126.8 825.6L127.2 819L127.5 812.3L127.9 805.5L128.3 798.5L128.7 791.5L129.1 784.5L129.4 777.4L129.8 770.2L130.2 763.2L130.6 756.1L131 749.2L131.4 742.3L131.7 735.6L132.1 729.1L132.5 722.8L132.9 716.7L133.3 710.9L133.6 705.5L134 700.4L134.4 695.6L134.8 691.3L135.2 687.4L135.6 684L135.9 681.1L136.3 678.6L136.7 676.7L137.1 675.3L137.5 674.5L137.8 674.2L138.2 674.5L138.6 675.3L139 676.7L139.4 678.6L139.8 681L140.1 684L140.5 687.4L140.9 691.3L141.3 695.6L141.7 700.3L142 705.4L142.4 710.9L142.8 716.7L143.2 722.7L143.6 729L144 735.6L144.3 742.3L144.7 749.1L145.1 756.1L145.5 763.1L145.9 770.2L146.2 777.3L146.6 784.4L147 791.5L147.4 798.5L147.8 805.4L148.2 812.2L148.5 818.9L148.9 825.5L149.3 831.9L149.7 838.2L150.1 844.3L150.4 850.2L150.8 855.9L151.2 861.4L151.6 866.7L152 871.8L152.4 876.7L152.7 881.4L153.1 885.9L153.5 890.2L153.9 894.3L154.3 898.3L154.6 902L155 905.5L155.4 908.9L155.8 912L156.2 915L156.6 917.9L156.9 920.6L157.3 923.1L157.7 925.4L158.1 927.7L158.5 929.8L158.8 931.7L159.2 933.5L159.6 935.2L160 936.8L160.4 938.3L160.8 939.6L161.1 940.9L161.5 942L161.9 943.1L162.3 944.1L162.7 944.9L163 945.7L163.4 946.4L163.8 947L164.2 947.5L164.6 948L165 948.3L165.3 948.6L165.7 948.8L166.1 949L166.5 949L166.9 949L167.2 948.9L167.6 948.8L168 948.5L168.4 948.2L168.8 947.8L169.2 947.4L169.5 946.8L169.9 946.2L170.3 945.5L170.7 944.6L171.1 943.8L171.4 942.8L171.8 941.7L172.2 940.5L172.6 939.2L173 937.8L173.4 936.3L173.7 934.7L174.1 933L174.5 931.1L174.9 929.1L175.3 927L175.6 924.7L176 922.3L176.4 919.7L176.8 917L177.2 914.1L177.6 911L177.9 907.8L178.3 904.4L178.7 900.8L179.1 897L179.5 893L179.8 888.9L180.2 884.5L180.6 879.9L181 875.2L181.4 870.2L181.8 865L182.1 859.6L182.5 854.1L182.9 848.3L183.3 842.3L183.7 836.2L184 829.9L184.4 823.4L184.8 816.8L185.2 810L185.6 803.2L186 796.2L186.3 789.2L186.7 782.1L187.1 775L187.5 767.9L187.9 760.8L188.2 753.8L188.6 746.9L189 740.1L189.4 733.4L189.8 727L190.2 720.7L190.5 714.8L190.9 709.1L191.3 703.7L191.7 698.8L192.1 694.2L192.4 690L192.8 686.2L193.2 683L193.6 680.2L194 677.9L194.4 676.2L194.7 675L195.1 674.4L195.5 674.3L195.9 674.7L196.3 675.7L196.6 677.3L197 679.4L197.4 681.9L197.8 685L198.2 688.6L198.6 692.6L198.9 697.1L199.3 702L199.7 707.2L200.1 712.8L200.5 718.6L200.8 724.8L201.2 731.2L201.6 737.7L202 744.5L202.4 751.4L202.8 758.4L203.1 765.4L203.5 772.5L203.9 779.7L204.3 786.7L204.7 793.8L205 800.8L205.4 807.7L205.8 814.5L206.2 821.1L206.6 827.6L207 834L207.3 840.2L207.7 846.2L208.1 852.1L208.5 857.7L208.9 863.2L209.2 868.4L209.6 873.5L210 878.3L210.4 882.9L210.8 887.4L211.2 891.6L211.5 895.7L211.9 899.5L212.3 903.2L212.7 906.6L213.1 909.9L213.4 913L213.8 916L214.2 918.8L214.6 921.4L215 923.9L215.4 926.2L215.7 928.4L216.1 930.4L216.5 932.3L216.9 934.1L217.3 935.8L217.6 937.3L218 938.7L218.4 940.1L218.8 941.3L219.2 942.4L219.6 943.4L219.9 944.3L220.3 945.2L220.7 945.9L221.1 946.6L221.5 947.2L221.8 947.7L222.2 948.1L222.6 948.4L223 948.7L223.4 948.9L223.8 949L224.1 949L224.5 949L224.9 948.9L225.3 948.7L225.7 948.4L226 948.1L226.4 947.7L226.8 947.2L227.2 946.6L227.6 945.9L228 945.2L228.3 944.4L228.7 943.4L229.1 942.4L229.5 941.3L229.9 940.1L230.2 938.8L230.6 937.3L231 935.8L231.4 934.1L231.8 932.4L232.2 930.4L232.5 928.4L232.9 926.2L233.3 923.9L233.7 921.4L234.1 918.8L234.4 916L234.8 913.1L235.2 910L235.6 906.7L236 903.2L236.4 899.6L236.7 895.7L237.1 891.7L237.5 887.5L237.9 883L238.3 878.4L238.6 873.5L239 868.5L239.4 863.3L239.8 857.8L240.2 852.2L240.6 846.3L240.9 840.3L241.3 834.1L241.7 827.8L242.1 821.2L242.5 814.6L242.8 807.8L243.2 800.9L243.6 793.9L244 786.9L244.4 779.8L244.8 772.7L245.1 765.6L245.5 758.5L245.9 751.5L246.3 744.6L246.7 737.9L247 731.3L247.4 724.9L247.8 718.7L248.2 712.9L248.6 707.3L249 702.1L249.3 697.2L249.7 692.7L250.1 688.7L250.5 685.1L250.9 682L251.2 679.4L251.6 677.3L252 675.8L252.4 674.7L252.8 674.3L253.2 674.4L253.5 675L253.9 676.2L254.3 677.9L254.7 680.2L255.1 682.9L255.4 686.2L255.8 689.9L256.2 694.1L256.6 698.7L257 703.6L257.4 709L257.7 714.7L258.1 720.6L258.5 726.9L258.9 733.3L259.3 740L259.6 746.8L260 753.7L260.4 760.7L260.8 767.8L261.2 774.9L261.6 782L261.9 789.1L262.3 796.1L262.7 803.1L263.1 809.9L263.5 816.7L263.8 823.3L264.2 829.8L264.6 836.1L265 842.2L265.4 848.2L265.8 853.9L266.1 859.5L266.5 864.9L266.9 870.1L267.3 875.1L267.7 879.8L268 884.4L268.4 888.8L268.8 893L269.2 896.9L269.6 900.7L270 904.3L270.3 907.7L270.7 911L271.1 914L271.5 916.9L271.9 919.7L272.2 922.2L272.6 924.6L273 926.9L273.4 929.1L273.8 931.1L274.2 932.9L274.5 934.7L274.9 936.3L275.3 937.8L275.7 939.2L276.1 940.5L276.4 941.7L276.8 942.7L277.2 943.7L277.6 944.6L278 945.4L278.4 946.2L278.7 946.8L279.1 947.3L279.5 947.8L279.9 948.2L280.3 948.5L280.6 948.8L281 948.9L281.4 949L281.8 949L282.2 949L282.6 948.8L282.9 948.6L283.3 948.3L283.7 948L284.1 947.5L284.5 947L284.8 946.4L285.2 945.7L285.6 944.9L286 944.1L286.4 943.1L286.8 942.1L287.1 940.9L287.5 939.7L287.9 938.3L288.3 936.8L288.7 935.3L289 933.6L289.4 931.7L289.8 929.8L290.2 927.7L290.6 925.5L291 923.1L291.3 920.6L291.7 917.9L292.1 915.1L292.5 912.1L292.9 908.9L293.2 905.6L293.6 902L294 898.3L294.4 894.4L294.8 890.3L295.2 886L295.5 881.5L295.9 876.8L296.3 871.9L296.7 866.8L297.1 861.5L297.4 856L297.8 850.3L298.2 844.4L298.6 838.3L299 832L299.4 825.6L299.7 819.1L300.1 812.4L300.5 805.5L300.9 798.6L301.3 791.6L301.6 784.5L302 777.4L302.4 770.3L302.8 763.2L303.2 756.2L303.6 749.2L303.9 742.4L304.3 735.7L304.7 729.2L305.1 722.8L305.5 716.8L305.8 711L306.2 705.5L306.6 700.4L307 695.7L307.4 691.3L307.8 687.5L308.1 684L308.5 681.1L308.9 678.7L309.3 676.7L309.7 675.4L310 674.5L310.4 674.2L310.8 674.5L311.2 675.3L311.6 676.7L312 678.6L312.3 681L312.7 683.9L313.1 687.3L313.5 691.2L313.9 695.5L314.2 700.3L314.6 705.4L315 710.8L315.4 716.6L315.8 722.7L316.2 729L316.5 735.5L316.9 742.2L317.3 749L317.7 756L318.1 763L318.4 770.1L318.8 777.2L319.2 784.3L319.6 791.4L320 798.4L320.4 805.3L320.7 812.2L321.1 818.9L321.5 825.4L321.9 831.9L322.3 838.1L322.6 844.2L323 850.1L323.4 855.8L323.8 861.3L324.2 866.6L324.6 871.8L324.9 876.7L325.3 881.4L325.7 885.9L326.1 890.2L326.5 894.3L326.8 898.2L327.2 901.9L327.6 905.5L328 908.8L328.4 912L328.8 915L329.1 917.8L329.5 920.5L329.9 923L330.3 925.4L330.7 927.6L331 929.7L331.4 931.7L331.8 933.5L332.2 935.2L332.6 936.8L333 938.3L333.3 939.6L333.7 940.9L334.1 942L334.5 943.1L334.9 944L335.2 944.9L335.6 945.7L336 946.4L336.4 947L336.8 947.5L337.2 948L337.5 948.3L337.9 948.6L338.3 948.8L338.7 949L339.1 949L339.4 949L339.8 948.9L340.2 948.8L340.6 948.5L341 948.2L341.4 947.8L341.7 947.4L342.1 946.8L342.5 946.2L342.9 945.5L343.3 944.7L343.6 943.8L344 942.8L344.4 941.7L344.8 940.5L345.2 939.2L345.6 937.8L345.9 936.3L346.3 934.7L346.7 933L347.1 931.1L347.5 929.1L347.8 927L348.2 924.7L348.6 922.3L349 919.7L349.4 917L349.8 914.1L350.1 911.1L350.5 907.8L350.9 904.4L351.3 900.8L351.7 897.1L352 893.1L352.4 888.9L352.8 884.6L353.2 880L353.6 875.2L354 870.3L354.3 865.1L354.7 859.7L355.1 854.1L355.5 848.4L355.9 842.4L356.2 836.3L356.6 830L357 823.5L357.4 816.9L357.8 810.1L358.2 803.3L358.5 796.3L358.9 789.3L359.3 782.2L359.7 775.1L360.1 768L360.4 760.9L360.8 753.9L361.2 747L361.6 740.2L362 733.5L362.4 727.1L362.7 720.8L363.1 714.8L363.5 709.2L363.9 703.8L364.3 698.8L364.6 694.2L365 690L365.4 686.3L365.8 683L366.2 680.2L366.6 678L366.9 676.2L367.3 675L367.7 674.4L368.1 674.3L368.5 674.7L368.8 675.7L369.2 677.3L369.6 679.3L370 681.9L370.4 685L370.8 688.6L371.1 692.6L371.5 697L371.9 701.9L372.3 707.1L372.7 712.7L373 718.6L373.4 724.7L373.8 731.1L374.2 737.7L374.6 744.4L375 751.3L375.3 758.3L375.7 765.4L376.1 772.5L376.5 779.6L376.9 786.7L377.2 793.7L377.6 800.7L378 807.6L378.4 814.4L378.8 821L379.2 827.6L379.5 833.9L379.9 840.1L380.3 846.2L380.7 852L381.1 857.6L381.4 863.1L381.8 868.3L382.2 873.4L382.6 878.2L383 882.9L383.4 887.3L383.7 891.6L384.1 895.6L384.5 899.5L384.9 903.1L385.3 906.6L385.6 909.9L386 913L386.4 916L386.8 918.7L387.2 921.4L387.6 923.8L387.9 926.2L388.3 928.3L388.7 930.4L389.1 932.3L389.5 934.1L389.8 935.7L390.2 937.3L390.6 938.7L391 940L391.4 941.3L391.8 942.4L392.1 943.4L392.5 944.3L392.9 945.2L393.3 945.9L393.7 946.6L394 947.2L394.4 947.7L394.8 948.1L395.2 948.4L395.6 948.7L396 948.9L396.3 949L396.7 949L397.1 949L397.5 948.9L397.9 948.7L398.2 948.4L398.6 948.1L399 947.7L399.4 947.2L399.8 946.6L400.2 946L400.5 945.2L400.9 944.4L401.3 943.4L401.7 942.4L402.1 941.3L402.4 940.1L402.8 938.8L403.2 937.4L403.6 935.8L404 934.2L404.4 932.4L404.7 930.5L405.1 928.4L405.5 926.3L405.9 923.9L406.3 921.5L406.6 918.9L407 916.1L407.4 913.1L407.8 910L408.2 906.7L408.6 903.3L408.9 899.6L409.3 895.8L409.7 891.7L410.1 887.5L410.5 883.1L410.8 878.4L411.2 873.6L411.6 868.6L412 863.3L412.4 857.9L412.8 852.2L413.1 846.4L413.5 840.4L413.9 834.2L414.3 827.8L414.7 821.3L415 814.7L415.4 807.9L415.8 801L416.2 794L416.6 787L417 779.9L417.3 772.8L417.7 765.7L418.1 758.6L418.5 751.6L418.9 744.7L419.2 738L419.6 731.4L420 725L420.4 718.8L420.8 712.9L421.2 707.4L421.5 702.1L421.9 697.3L422.3 692.8L422.7 688.7L423.1 685.1L423.4 682L423.8 679.4L424.2 677.3L424.6 675.8L425 674.7L425.4 674.3L425.7 674.4L426.1 675L426.5 676.2L426.9 677.9L427.3 680.1L427.6 682.9L428 686.1L428.4 689.8L428.8 694L429.2 698.6L429.6 703.6L429.9 708.9L430.3 714.6L430.7 720.6L431.1 726.8L431.5 733.2L431.8 739.9L432.2 746.7L432.6 753.6L433 760.6L433.4 767.7L433.8 774.8L434.1 781.9L434.5 789L434.9 796L435.3 803L435.7 809.8L436 816.6L436.4 823.2L436.8 829.7L437.2 836L437.6 842.1L438 848.1L438.3 853.9L438.7 859.5L439.1 864.8L439.5 870L439.9 875L440.2 879.8L440.6 884.4L441 888.7L441.4 892.9L441.8 896.9L442.2 900.7L442.5 904.3L442.9 907.7L443.3 910.9L443.7 914L444.1 916.9L444.4 919.6L444.8 922.2L445.2 924.6L445.6 926.9L446 929L446.4 931L446.7 932.9L447.1 934.6L447.5 936.3L447.9 937.8L448.3 939.2L448.6 940.5L449 941.6L449.4 942.7L449.8 943.7L450.2 944.6L450.6 945.4L450.9 946.2L451.3 946.8L451.7 947.3L452.1 947.8L452.5 948.2L452.8 948.5L453.2 948.8L453.6 948.9L454 949L454.4 949L454.8 949L455.1 948.8L455.5 948.6L455.9 948.3L456.3 948L456.7 947.5L457 947L457.4 946.4L457.8 945.7L458.2 944.9L458.6 944.1L459 943.1L459.3 942.1L459.7 940.9L460.1 939.7L460.5 938.3L460.9 936.9L461.2 935.3L461.6 933.6L462 931.8L462.4 929.8L462.8 927.7L463.2 925.5L463.5 923.1L463.9 920.6L464.3 918L464.7 915.1L465.1 912.1L465.4 909L465.8 905.6L466.2 902.1L466.6 898.4L467 894.5L467.4 890.4L467.7 886.1L468.1 881.6L468.5 876.9L468.9 872L469.3 866.9L469.6 861.6L470 856L470.4 850.3L470.8 844.5L471.2 838.4L471.6 832.1L471.9 825.7L472.3 819.1L472.7 812.4L473.1 805.6L473.5 798.7L473.8 791.7L474.2 784.6L474.6 777.5L475 770.4L475.4 763.3L475.8 756.3L476.1 749.3L476.5 742.5L476.9 735.8L477.3 729.2L477.7 722.9L478 716.9L478.4 711.1L478.8 705.6L479.2 700.5L479.6 695.7L480 691.4L480.3 687.5L480.7 684.1L481.1 681.1L481.5 678.7L481.9 676.8L482.2 675.4L482.6 674.5L483 674.2L483.4 674.5L483.8 675.3L484.2 676.7L484.5 678.6L484.9 681L485.3 683.9L485.7 687.3L486.1 691.2L486.4 695.5L486.8 700.2L487.2 705.3L487.6 710.8L488 716.5L488.4 722.6L488.7 728.9L489.1 735.4L489.5 742.1L489.9 748.9L490.3 755.9L490.6 762.9L491 770L491.4 777.1L491.8 784.2L492.2 791.3L492.6 798.3L492.9 805.2L493.3 812.1L493.7 818.8L494.1 825.4L494.5 831.8L494.8 838L495.2 844.1L495.6 850L496 855.7L496.4 861.3L496.8 866.6L497.1 871.7L497.5 876.6L497.9 881.3L498.3 885.8L498.7 890.1L499 894.3L499.4 898.2L499.8 901.9L500.2 905.4L500.6 908.8L501 912L501.3 915L501.7 917.8L502.1 920.5L502.5 923L502.9 925.4L503.2 927.6L503.6 929.7L504 931.7L504.4 933.5L504.8 935.2L505.2 936.8L505.5 938.2L505.9 939.6L506.3 940.9L506.7 942L507.1 943.1L507.4 944L507.8 944.9L508.2 945.7L508.6 946.4L509 947L509.4 947.5L509.7 948L510.1 948.3L510.5 948.6L510.9 948.8L511.3 949L511.6 949L512 949L512.4 948.9L512.8 948.8L513.2 948.5L513.6 948.2L513.9 947.8L514.3 947.4L514.7 946.8L515.1 946.2L515.5 945.5L515.8 944.7L516.2 943.8L516.6 942.8L517 941.7L517.4 940.5L517.8 939.2L518.1 937.9L518.5 936.4L518.9 934.7L519.3 933L519.7 931.1L520 929.1L520.4 927L520.8 924.7L521.2 922.3L521.6 919.8L522 917L522.3 914.2L522.7 911.1L523.1 907.9L523.5 904.5L523.9 900.9L524.2 897.1L524.6 893.1L525 889L525.4 884.6L525.8 880.1L526.2 875.3L526.5 870.3L526.9 865.1L527.3 859.8L527.7 854.2L528.1 848.4L528.4 842.5L528.8 836.3L529.2 830L529.6 823.6L530 817L530.4 810.2L530.7 803.4L531.1 796.4L531.5 789.4L531.9 782.3L532.3 775.2L532.6 768.1L533 761L533.4 754L533.8 747.1L534.2 740.2L534.6 733.6L534.9 727.1L535.3 720.9L535.7 714.9L536.1 709.2L536.5 703.9L536.8 698.9L537.2 694.3L537.6 690.1L538 686.3L538.4 683L538.8 680.3L539.1 678L539.5 676.2L539.9 675L540.3 674.4L540.7 674.3L541 674.7L541.4 675.7L541.8 677.2L542.2 679.3L542.6 681.9L543 685L543.3 688.5L543.7 692.5L544.1 697L544.5 701.8L544.9 707.1L545.2 712.6L545.6 718.5L546 724.6L546.4 731L546.8 737.6L547.2 744.3L547.5 751.2L547.9 758.2L548.3 765.3L548.7 772.4L549.1 779.5L549.4 786.6L549.8 793.6L550.2 800.6L550.6 807.5L551 814.3L551.4 821L551.7 827.5L552.1 833.9L552.5 840.1" stroke="#0072BD"/>
<path d="M94.7 875.1L95.1 879.9L95.5 884.5L95.8 888.8L96.2 893L96.6 897L97 900.8L97.4 904.3L97.8 907.8L98.1 911L98.5 914L98.9 916.9L99.3 919.7L99.7 922.2L100 924.6L100.4 926.9L100.8 929L101.2 931L101.6 932.9L102 934.6L102.3 936.3L102.7 937.8L103.1 939.2L103.5 940.4L103.9 941.6L104.2 942.7L104.6 943.7L105 944.6L105.4 945.4L105.8 946.1L106.2 946.7L106.5 947.3L106.9 947.8L107.3 948.2L107.7 948.5L108.1 948.7L108.4 948.9L108.8 949L109.2 949L109.6 948.9L110 948.8L110.4 948.5L110.7 948.3L111.1 947.9L111.5 947.4L111.9 946.9L112.3 946.3L112.6 945.6L113 944.8L113.4 944L113.8 943L114.2 941.9L114.6 940.8L114.9 939.5L115.3 938.2L115.7 936.7L116.1 935.1L116.5 933.4L116.8 931.6L117.2 929.6L117.6 927.5L118 925.3L118.4 922.9L118.8 920.4L119.1 917.7L119.5 914.9L119.9 911.8L120.3 908.7L120.7 905.3L121 901.8L121.4 898L121.8 894.1L122.2 890L122.6 885.7L123 881.1L123.3 876.4L123.7 871.5L124.1 866.3L124.5 861L124.9 855.5L125.2 849.7L125.6 843.8L126 837.7L126.4 831.4L126.8 825L127.2 818.4L127.5 811.7L127.9 804.8L128.3 797.8L128.7 790.8L129.1 783.7L129.4 776.6L129.8 769.4L130.2 762.3L130.6 755.2L131 748.2L131.4 741.3L131.7 734.6L132.1 728L132.5 721.7L132.9 715.6L133.3 709.8L133.6 704.3L134 699.2L134.4 694.4L134.8 690L135.2 686.1L135.6 682.7L135.9 679.7L136.3 677.3L136.7 675.3L137.1 673.9L137.5 673.1L137.8 672.8L138.2 673.1L138.6 673.9L139 675.3L139.4 677.2L139.8 679.6L140.1 682.5L140.5 685.9L140.9 689.8L141.3 694.2L141.7 698.9L142 704L142.4 709.5L142.8 715.3L143.2 721.4L143.6 727.7L144 734.3L144.3 741L144.7 747.9L145.1 754.8L145.5 761.9L145.9 769L146.2 776.2L146.6 783.3L147 790.4L147.4 797.4L147.8 804.4L148.2 811.3L148.5 818L148.9 824.6L149.3 831L149.7 837.3L150.1 843.4L150.4 849.4L150.8 855.1L151.2 860.6L151.6 866L152 871.1L152.4 876L152.7 880.8L153.1 885.3L153.5 889.6L153.9 893.8L154.3 897.7L154.6 901.4L155 905L155.4 908.3L155.8 911.5L156.2 914.6L156.6 917.4L156.9 920.1L157.3 922.6L157.7 925L158.1 927.2L158.5 929.3L158.8 931.3L159.2 933.1L159.6 934.8L160 936.4L160.4 937.9L160.8 939.3L161.1 940.5L161.5 941.7L161.9 942.8L162.3 943.7L162.7 944.6L163 945.4L163.4 946.1L163.8 946.7L164.2 947.2L164.6 947.6L165 948L165.3 948.3L165.7 948.5L166.1 948.7L166.5 948.7L166.9 948.7L167.2 948.6L167.6 948.4L168 948.2L168.4 947.9L168.8 947.5L169.2 947L169.5 946.5L169.9 945.8L170.3 945.1L170.7 944.3L171.1 943.4L171.4 942.4L171.8 941.3L172.2 940.1L172.6 938.8L173 937.4L173.4 935.9L173.7 934.2L174.1 932.5L174.5 930.6L174.9 928.6L175.3 926.4L175.6 924.1L176 921.7L176.4 919.1L176.8 916.3L177.2 913.4L177.6 910.3L177.9 907.1L178.3 903.6L178.7 900L179.1 896.2L179.5 892.2L179.8 888L180.2 883.5L180.6 878.9L181 874.1L181.4 869.1L181.8 863.9L182.1 858.4L182.5 852.8L182.9 847L183.3 840.9L183.7 834.7L184 828.4L184.4 821.8L184.8 815.1L185.2 808.3L185.6 801.4L186 794.4L186.3 787.3L186.7 780.1L187.1 772.9L187.5 765.7L187.9 758.6L188.2 751.5L188.6 744.5L189 737.6L189.4 730.9L189.8 724.4L190.2 718.1L190.5 712L190.9 706.3L191.3 700.9L191.7 695.8L192.1 691.1L192.4 686.9L192.8 683.1L193.2 679.8L193.6 677L194 674.7L194.4 672.9L194.7 671.7L195.1 671.1L195.5 671L195.9 671.4L196.3 672.4L196.6 674L197 676.1L197.4 678.7L197.8 681.8L198.2 685.4L198.6 689.4L198.9 693.9L199.3 698.8L199.7 704.1L200.1 709.7L200.5 715.7L200.8 721.9L201.2 728.3L201.6 735L202 741.8L202.4 748.7L202.8 755.8L203.1 762.9L203.5 770.1L203.9 777.3L204.3 784.4L204.7 791.6L205 798.6L205.4 805.6L205.8 812.4L206.2 819.2L206.6 825.8L207 832.2L207.3 838.4L207.7 844.5L208.1 850.4L208.5 856.1L208.9 861.6L209.2 867L209.6 872.1L210 877L210.4 881.6L210.8 886.1L211.2 890.4L211.5 894.5L211.9 898.4L212.3 902.1L212.7 905.6L213.1 908.9L213.4 912.1L213.8 915.1L214.2 917.9L214.6 920.5L215 923L215.4 925.4L215.7 927.6L216.1 929.6L216.5 931.6L216.9 933.4L217.3 935.1L217.6 936.6L218 938.1L218.4 939.4L218.8 940.6L219.2 941.8L219.6 942.8L219.9 943.7L220.3 944.6L220.7 945.3L221.1 946L221.5 946.6L221.8 947.1L222.2 947.5L222.6 947.9L223 948.1L223.4 948.3L223.8 948.4L224.1 948.5L224.5 948.4L224.9 948.3L225.3 948.1L225.7 947.8L226 947.5L226.4 947.1L226.8 946.6L227.2 946L227.6 945.3L228 944.6L228.3 943.7L228.7 942.8L229.1 941.7L229.5 940.6L229.9 939.4L230.2 938L230.6 936.6L231 935L231.4 933.3L231.8 931.5L232.2 929.6L232.5 927.5L232.9 925.3L233.3 922.9L233.7 920.4L234.1 917.8L234.4 914.9L234.8 912L235.2 908.8L235.6 905.5L236 901.9L236.4 898.2L236.7 894.3L237.1 890.2L237.5 885.9L237.9 881.4L238.3 876.7L238.6 871.8L239 866.7L239.4 861.3L239.8 855.8L240.2 850.1L240.6 844.1L240.9 838L241.3 831.7L241.7 825.3L242.1 818.6L242.5 811.9L242.8 805L243.2 798L243.6 790.9L244 783.7L244.4 776.5L244.8 769.3L245.1 762L245.5 754.9L245.9 747.7L246.3 740.7L246.7 733.9L247 727.2L247.4 720.7L247.8 714.4L248.2 708.4L248.6 702.8L249 697.4L249.3 692.5L249.7 687.9L250.1 683.8L250.5 680.2L250.9 677L251.2 674.3L251.6 672.2L252 670.6L252.4 669.6L252.8 669.1L253.2 669.1L253.5 669.8L253.9 671L254.3 672.7L254.7 675L255.1 677.8L255.4 681.1L255.8 684.9L256.2 689.1L256.6 693.8L257 698.8L257.4 704.2L257.7 710L258.1 716.1L258.5 722.4L258.9 728.9L259.3 735.7L259.6 742.6L260 749.6L260.4 756.7L260.8 763.9L261.2 771.2L261.6 778.4L261.9 785.6L262.3 792.7L262.7 799.8L263.1 806.8L263.5 813.6L263.8 820.3L264.2 826.9L264.6 833.3L265 839.6L265.4 845.6L265.8 851.5L266.1 857.2L266.5 862.7L266.9 867.9L267.3 873L267.7 877.8L268 882.5L268.4 886.9L268.8 891.2L269.2 895.2L269.6 899.1L270 902.7L270.3 906.2L270.7 909.5L271.1 912.6L271.5 915.6L271.9 918.3L272.2 920.9L272.6 923.4L273 925.7L273.4 927.9L273.8 929.9L274.2 931.8L274.5 933.6L274.9 935.2L275.3 936.8L275.7 938.2L276.1 939.5L276.4 940.7L276.8 941.8L277.2 942.8L277.6 943.7L278 944.6L278.4 945.3L278.7 945.9L279.1 946.5L279.5 947L279.9 947.4L280.3 947.7L280.6 947.9L281 948.1L281.4 948.2L281.8 948.2L282.2 948.1L282.6 948L282.9 947.8L283.3 947.5L283.7 947.1L284.1 946.7L284.5 946.1L284.8 945.5L285.2 944.8L285.6 944L286 943.1L286.4 942.1L286.8 941.1L287.1 939.9L287.5 938.6L287.9 937.2L288.3 935.7L288.7 934.1L289 932.4L289.4 930.5L289.8 928.5L290.2 926.4L290.6 924.1L291 921.7L291.3 919.1L291.7 916.4L292.1 913.5L292.5 910.5L292.9 907.2L293.2 903.8L293.6 900.2L294 896.4L294.4 892.4L294.8 888.2L295.2 883.8L295.5 879.2L295.9 874.4L296.3 869.4L296.7 864.2L297.1 858.7L297.4 853.1L297.8 847.3L298.2 841.3L298.6 835L299 828.7L299.4 822.1L299.7 815.4L300.1 808.5L300.5 801.6L300.9 794.5L301.3 787.3L301.6 780.1L302 772.8L302.4 765.6L302.8 758.3L303.2 751.1L303.6 744L303.9 737L304.3 730.1L304.7 723.4L305.1 717L305.5 710.8L305.8 704.8L306.2 699.2L306.6 694L307 689.1L307.4 684.7L307.8 680.7L308.1 677.2L308.5 674.2L308.9 671.7L309.3 669.7L309.7 668.3L310 667.4L310.4 667.1L310.8 667.4L311.2 668.2L311.6 669.6L312 671.5L312.3 674L312.7 677L313.1 680.5L313.5 684.4L313.9 688.8L314.2 693.6L314.6 698.8L315 704.4L315.4 710.3L315.8 716.5L316.2 722.9L316.5 729.6L316.9 736.4L317.3 743.4L317.7 750.5L318.1 757.7L318.4 765L318.8 772.2L319.2 779.5L319.6 786.7L320 793.9L320.4 801L320.7 808L321.1 814.8L321.5 821.5L321.9 828.1L322.3 834.5L322.6 840.7L323 846.7L323.4 852.6L323.8 858.2L324.2 863.7L324.6 868.9L324.9 873.9L325.3 878.7L325.7 883.3L326.1 887.8L326.5 892L326.8 896L327.2 899.8L327.6 903.4L328 906.8L328.4 910.1L328.8 913.1L329.1 916L329.5 918.8L329.9 921.4L330.3 923.8L330.7 926.1L331 928.2L331.4 930.2L331.8 932.1L332.2 933.8L332.6 935.4L333 936.9L333.3 938.3L333.7 939.6L334.1 940.8L334.5 941.9L334.9 942.8L335.2 943.7L335.6 944.5L336 945.2L336.4 945.9L336.8 946.4L337.2 946.9L337.5 947.2L337.9 947.5L338.3 947.7L338.7 947.9L339.1 947.9L339.4 947.9L339.8 947.8L340.2 947.7L340.6 947.4L341 947.1L341.4 946.7L341.7 946.2L342.1 945.7L342.5 945L342.9 944.3L343.3 943.4L343.6 942.5L344 941.5L344.4 940.4L344.8 939.2L345.2 937.9L345.6 936.4L345.9 934.9L346.3 933.2L346.7 931.4L347.1 929.5L347.5 927.5L347.8 925.3L348.2 922.9L348.6 920.5L349 917.8L349.4 915L349.8 912.1L350.1 908.9L350.5 905.6L350.9 902.1L351.3 898.4L351.7 894.5L352 890.4L352.4 886.2L352.8 881.7L353.2 877L353.6 872.1L354 867L354.3 861.6L354.7 856.1L355.1 850.4L355.5 844.5L355.9 838.3L356.2 832L356.6 825.5L357 818.9L357.4 812.1L357.8 805.2L358.2 798.1L358.5 790.9L358.9 783.7L359.3 776.4L359.7 769.1L360.1 761.8L360.4 754.5L360.8 747.3L361.2 740.2L361.6 733.2L362 726.3L362.4 719.7L362.7 713.3L363.1 707.1L363.5 701.3L363.9 695.7L364.3 690.6L364.6 685.8L365 681.5L365.4 677.7L365.8 674.3L366.2 671.4L366.6 669.1L366.9 667.3L367.3 666L367.7 665.4L368.1 665.2L368.5 665.7L368.8 666.7L369.2 668.3L369.6 670.4L370 673.1L370.4 676.2L370.8 679.9L371.1 684L371.5 688.6L371.9 693.6L372.3 698.9L372.7 704.6L373 710.7L373.4 717L373.8 723.5L374.2 730.3L374.6 737.2L375 744.3L375.3 751.5L375.7 758.7L376.1 766L376.5 773.4L376.9 780.6L377.2 787.9L377.6 795.1L378 802.2L378.4 809.2L378.8 816L379.2 822.7L379.5 829.3L379.9 835.6L380.3 841.8L380.7 847.8L381.1 853.7L381.4 859.3L381.8 864.7L382.2 869.9L382.6 874.8L383 879.6L383.4 884.2L383.7 888.6L384.1 892.7L384.5 896.7L384.9 900.4L385.3 904L385.6 907.4L386 910.6L386.4 913.7L386.8 916.5L387.2 919.2L387.6 921.8L387.9 924.2L388.3 926.4L388.7 928.5L389.1 930.5L389.5 932.3L389.8 934L390.2 935.6L390.6 937.1L391 938.4L391.4 939.7L391.8 940.9L392.1 941.9L392.5 942.9L392.9 943.7L393.3 944.5L393.7 945.2L394 945.8L394.4 946.3L394.8 946.7L395.2 947.1L395.6 947.3L396 947.5L396.3 947.6L396.7 947.7L397.1 947.6L397.5 947.5L397.9 947.3L398.2 947.1L398.6 946.7L399 946.3L399.4 945.8L399.8 945.2L400.2 944.5L400.5 943.7L400.9 942.9L401.3 941.9L401.7 940.8L402.1 939.7L402.4 938.4L402.8 937.1L403.2 935.6L403.6 934L404 932.3L404.4 930.5L404.7 928.5L405.1 926.4L405.5 924.1L405.9 921.7L406.3 919.2L406.6 916.5L407 913.6L407.4 910.6L407.8 907.4L408.2 904L408.6 900.4L408.9 896.6L409.3 892.6L409.7 888.5L410.1 884.1L410.5 879.5L410.8 874.7L411.2 869.7L411.6 864.5L412 859.1L412.4 853.4L412.8 847.6L413.1 841.6L413.5 835.4L413.9 829L414.3 822.4L414.7 815.6L415 808.7L415.4 801.7L415.8 794.6L416.2 787.4L416.6 780.1L417 772.7L417.3 765.4L417.7 758L418.1 750.7L418.5 743.5L418.9 736.4L419.2 729.4L419.6 722.5L420 715.9L420.4 709.6L420.8 703.5L421.2 697.7L421.5 692.2L421.9 687.2L422.3 682.6L422.7 678.4L423.1 674.7L423.4 671.4L423.8 668.7L424.2 666.5L424.6 664.9L425 663.8L425.4 663.3L425.7 663.4L426.1 664L426.5 665.3L426.9 667L427.3 669.3L427.6 672.2L428 675.5L428.4 679.4L428.8 683.7L429.2 688.4L429.6 693.5L429.9 699.1L430.3 704.9L430.7 711.1L431.1 717.5L431.5 724.2L431.8 731L432.2 738.1L432.6 745.2L433 752.5L433.4 759.8L433.8 767.1L434.1 774.5L434.5 781.8L434.9 789.1L435.3 796.3L435.7 803.4L436 810.4L436.4 817.2L436.8 823.9L437.2 830.4L437.6 836.8L438 843L438.3 848.9L438.7 854.7L439.1 860.3L439.5 865.7L439.9 870.8L440.2 875.8L440.6 880.5L441 885L441.4 889.3L441.8 893.5L442.2 897.4L442.5 901.1L442.9 904.6L443.3 908L443.7 911.2L444.1 914.2L444.4 917L444.8 919.7L445.2 922.2L445.6 924.5L446 926.7L446.4 928.8L446.7 930.7L447.1 932.5L447.5 934.2L447.9 935.8L448.3 937.2L448.6 938.6L449 939.8L449.4 940.9L449.8 941.9L450.2 942.9L450.6 943.7L450.9 944.4L451.3 945.1L451.7 945.7L452.1 946.2L452.5 946.6L452.8 946.9L453.2 947.1L453.6 947.3L454 947.4L454.4 947.4L454.8 947.4L455.1 947.2L455.5 947L455.9 946.7L456.3 946.3L456.7 945.9L457 945.3L457.4 944.7L457.8 944L458.2 943.2L458.6 942.3L459 941.3L459.3 940.2L459.7 939L460.1 937.7L460.5 936.3L460.9 934.7L461.2 933.1L461.6 931.3L462 929.5L462.4 927.4L462.8 925.3L463.2 923L463.5 920.5L463.9 917.9L464.3 915.1L464.7 912.2L465.1 909L465.4 905.7L465.8 902.3L466.2 898.6L466.6 894.7L467 890.7L467.4 886.4L467.7 881.9L468.1 877.3L468.5 872.4L468.9 867.3L469.3 862L469.6 856.4L470 850.7L470.4 844.8L470.8 838.7L471.2 832.3L471.6 825.8L471.9 819.2L472.3 812.3L472.7 805.4L473.1 798.3L473.5 791.1L473.8 783.8L474.2 776.4L474.6 769L475 761.6L475.4 754.2L475.8 746.9L476.1 739.7L476.5 732.5L476.9 725.5L477.3 718.7L477.7 712.2L478 705.8L478.4 699.8L478.8 694.1L479.2 688.8L479.6 683.8L480 679.3L480.3 675.2L480.7 671.7L481.1 668.6L481.5 666L481.9 664L482.2 662.6L482.6 661.7L483 661.4L483.4 661.6L483.8 662.4L484.2 663.8L484.5 665.8L484.9 668.3L485.3 671.3L485.7 674.9L486.1 678.9L486.4 683.4L486.8 688.3L487.2 693.6L487.6 699.2L488 705.2L488.4 711.5L488.7 718.1L489.1 724.8L489.5 731.8L489.9 738.9L490.3 746.2L490.6 753.5L491 760.9L491.4 768.2L491.8 775.6L492.2 783L492.6 790.3L492.9 797.5L493.3 804.6L493.7 811.6L494.1 818.4L494.5 825.1L494.8 831.6L495.2 837.9L495.6 844.1L496 850L496.4 855.8L496.8 861.3L497.1 866.6L497.5 871.8L497.9 876.7L498.3 881.4L498.7 885.8L499 890.1L499.4 894.2L499.8 898.1L500.2 901.8L500.6 905.3L501 908.6L501.3 911.7L501.7 914.7L502.1 917.4L502.5 920.1L502.9 922.5L503.2 924.9L503.6 927L504 929.1L504.4 931L504.8 932.8L505.2 934.4L505.5 935.9L505.9 937.4L506.3 938.7L506.7 939.9L507.1 941L507.4 942L507.8 942.9L508.2 943.7L508.6 944.4L509 945L509.4 945.6L509.7 946L510.1 946.4L510.5 946.7L510.9 947L511.3 947.1L511.6 947.2L512 947.1L512.4 947.1L512.8 946.9L513.2 946.6L513.6 946.3L513.9 945.9L514.3 945.4L514.7 944.8L515.1 944.2L515.5 943.4L515.8 942.6L516.2 941.6L516.6 940.6L517 939.5L517.4 938.2L517.8 936.9L518.1 935.5L518.5 933.9L518.9 932.2L519.3 930.4L519.7 928.4L520 926.3L520.4 924.1L520.8 921.7L521.2 919.2L521.6 916.5L522 913.7L522.3 910.7L522.7 907.5L523.1 904.1L523.5 900.5L523.9 896.8L524.2 892.8L524.6 888.7L525 884.3L525.4 879.8L525.8 875L526.2 870L526.5 864.8L526.9 859.4L527.3 853.8L527.7 847.9L528.1 841.9L528.4 835.7L528.8 829.3L529.2 822.7L529.6 815.9L530 809L530.4 801.9L530.7 794.7L531.1 787.5L531.5 780.1L531.9 772.7L532.3 765.3L532.6 757.8L533 750.4L533.4 743L533.8 735.8L534.2 728.7L534.6 721.7L534.9 714.9L535.3 708.4L535.7 702.1L536.1 696.2L536.5 690.5L536.8 685.3L537.2 680.5L537.6 676.1L538 672.1L538.4 668.7L538.8 665.8L539.1 663.4L539.5 661.5L539.9 660.3L540.3 659.6L540.7 659.4L541 659.9L541.4 660.9L541.8 662.5L542.2 664.7L542.6 667.3L543 670.6L543.3 674.3L543.7 678.5L544.1 683.1L544.5 688.2L544.9 693.6L545.2 699.5L545.6 705.6L546 712L546.4 718.7L546.8 725.6L547.2 732.6L547.5 739.8L547.9 747.1L548.3 754.5L548.7 761.9L549.1 769.4L549.4 776.8L549.8 784.2L550.2 791.5L550.6 798.7L551 805.8L551.4 812.8L551.7 819.6L552.1 826.3L552.5 832.8" stroke="#EDB120" stroke-dasharray="14.6 14.4"/>
</g>
<text x="88.3" y="1094.2" font-size="25.6">0</text>
<text x="172.82" y="1094.2" font-size="25.6">10</text>
<text x="264.94" y="1094.2" font-size="25.6">20</text>
<text x="356.45" y="1094.2" font-size="25.6">30</text>
<text x="448.38" y="1094.2" font-size="25.6">40</text>
<text x="539.44" y="1094.2" font-size="25.6">50</text>
<text x="71.58" y="998.75" font-size="25.6">0</text>
<text x="39.6" y="881.83" font-size="25.6">0.05</text>
<text x="52.94" y="764.92" font-size="25.6">0.1</text>
<text x="39.6" y="648" font-size="25.6">0.15</text>
<g transform="translate(21.9 864.65) rotate(-90)">
<text transform="translate(-2.35 0) scale(1.1507 0.88)" font-size="34" font-style="italic" stroke="#fff" stroke-width="0.55">u</text>
<text transform="translate(16.21 -7) scale(0.8471 1)" font-size="24">*</text>
</g>
<text transform="translate(317.86 1131.9) scale(1.05 0.89)" font-size="37" font-style="italic" stroke="#fff" stroke-width="0.55">t</text>
<rect x="301.5" y="961.5" width="232.8" height="80.7" fill="#fff" stroke="#262626" stroke-width="1.3"/>
<path d="M309.2 982.7H385" stroke="#0072BD" stroke-width="3.9"/>
<text transform="translate(390.62 990.6) scale(1.1189 1)" font-size="30">Order 0</text>
<path d="M309.2 1021H385" stroke="#EDB120" stroke-width="3.9" stroke-dasharray="14.6 14.4"/>
<text transform="translate(391.07 1028.2) scale(1.074 1)" font-size="30">Numerical</text>
<clipPath id="c5"><rect x="708.5" y="639.3" width="474.4" height="424.9"/></clipPath>
<rect x="710.5" y="641.3" width="470.4" height="420.9" fill="#fff"/>
<path d="M867.3 641.3V1062.2M1024.1 641.3V1062.2M710.5 992.05H1180.9M710.5 921.9H1180.9M710.5 851.75H1180.9M710.5 781.6H1180.9M710.5 711.45H1180.9" stroke="#e0e0e0" stroke-width="1.3" fill="none"/>
<path d="M867.3 1062.2v-5.2M867.3 641.3v5.2M1024.1 1062.2v-5.2M1024.1 641.3v5.2M710.5 992.05h5.2M1180.9 992.05h-5.2M710.5 921.9h5.2M1180.9 921.9h-5.2M710.5 851.75h5.2M1180.9 851.75h-5.2M710.5 781.6h5.2M1180.9 781.6h-5.2M710.5 711.45h5.2M1180.9 711.45h-5.2" stroke="#262626" stroke-width="1.3" fill="none"/>
<rect x="710.5" y="641.3" width="470.4" height="420.9" fill="none" stroke="#262626" stroke-width="1.3"/>
<g clip-path="url(#c5)" fill="none" stroke-width="3.9" stroke-linejoin="round">
<path d="M710.5 1044.7L711.4 1043.6L712.4 1042.5L713.3 1041.4L714.3 1040.2L715.2 1038.9L716.2 1037.6L717.1 1036.2L718 1034.7L719 1033.1L719.9 1031.5L720.9 1029.7L721.8 1027.9L722.8 1026L723.7 1024L724.6 1021.9L725.6 1019.7L726.5 1017.4L727.5 1015L728.4 1012.5L729.4 1009.9L730.3 1007.2L731.2 1004.3L732.2 1001.4L733.1 998.3L734.1 995.1L735 991.8L736 988.3L736.9 984.8L737.8 981.1L738.8 977.3L739.7 973.3L740.7 969.3L741.6 965.1L742.6 960.8L743.5 956.5L744.4 952L745.4 947.4L746.3 942.7L747.3 937.9L748.2 933L749.2 928.1L750.1 923.1L751 918L752 912.9L752.9 907.7L753.9 902.5L754.8 897.2L755.7 892L756.7 886.7L757.6 881.4L758.6 876.2L759.5 870.9L760.5 865.7L761.4 860.5L762.3 855.4L763.3 850.3L764.2 845.3L765.2 840.4L766.1 835.5L767.1 830.7L768 826.1L768.9 821.5L769.9 817L770.8 812.6L771.8 808.3L772.7 804.2L773.7 800.1L774.6 796.2L775.5 792.4L776.5 788.7L777.4 785.2L778.4 781.7L779.3 778.4L780.3 775.2L781.2 772.1L782.1 769.2L783.1 766.3L784 763.6L785 761L785.9 758.5L786.9 756.1L787.8 753.8L788.7 751.6L789.7 749.5L790.6 747.5L791.6 745.6L792.5 743.8L793.5 742.1L794.4 740.5L795.3 738.9L796.3 737.4L797.2 736L798.2 734.7L799.1 733.4L800.1 732.2L801 731L801.9 730L802.9 728.9L803.8 728L804.8 727L805.7 726.2L806.7 725.3L807.6 724.6L808.5 723.8L809.5 723.1L810.4 722.5L811.4 721.8L812.3 721.3L813.3 720.7L814.2 720.2L815.1 719.7L816.1 719.2L817 718.8L818 718.3L818.9 718L819.9 717.6L820.8 717.2L821.7 716.9L822.7 716.6L823.6 716.3L824.6 716L825.5 715.7L826.5 715.5L827.4 715.3L828.3 715L829.3 714.8L830.2 714.6L831.2 714.5L832.1 714.3L833 714.1L834 714L834.9 713.8L835.9 713.7L836.8 713.6L837.8 713.4L838.7 713.3L839.6 713.2L840.6 713.1L841.5 713L842.5 712.9L843.4 712.8L844.4 712.8L845.3 712.7L846.2 712.6L847.2 712.5L848.1 712.5L849.1 712.4L850 712.4L851 712.3L851.9 712.3L852.8 712.2L853.8 712.2L854.7 712.1L855.7 712.1L856.6 712L857.6 712L858.5 712L859.4 711.9L860.4 711.9L861.3 711.9L862.3 711.9L863.2 711.8L864.2 711.8L865.1 711.8L866 711.8L867 711.8L867.9 711.7L868.9 711.7L869.8 711.7L870.8 711.7L871.7 711.7L872.6 711.7L873.6 711.7L874.5 711.6L875.5 711.6L876.4 711.6L877.4 711.6L878.3 711.6L879.2 711.6L880.2 711.6L881.1 711.6L882.1 711.6L883 711.6L884 711.6L884.9 711.5L885.8 711.5L886.8 711.5L887.7 711.5L888.7 711.5L889.6 711.5L890.6 711.5L891.5 711.5L892.4 711.5L893.4 711.5L894.3 711.5L895.3 711.5L896.2 711.5L897.2 711.5L898.1 711.5L899 711.5L900 711.5L900.9 711.5L901.9 711.5L902.8 711.5L903.8 711.5L904.7 711.5L905.6 711.5L906.6 711.5L907.5 711.5L908.5 711.5L909.4 711.5L910.3 711.5L911.3 711.5L912.2 711.5L913.2 711.5L914.1 711.5L915.1 711.5L916 711.5L916.9 711.5L917.9 711.5L918.8 711.5L919.8 711.5L920.7 711.5L921.7 711.5L922.6 711.5L923.5 711.5L924.5 711.5L925.4 711.5L926.4 711.5L927.3 711.5L928.3 711.5L929.2 711.5L930.1 711.5L931.1 711.5L932 711.5L933 711.5L933.9 711.5L934.9 711.5L935.8 711.5L936.7 711.5L937.7 711.5L938.6 711.5L939.6 711.5L940.5 711.5L941.5 711.5L942.4 711.5L943.3 711.5L944.3 711.5L945.2 711.5L946.2 711.5L947.1 711.5L948.1 711.5L949 711.5L949.9 711.5L950.9 711.5L951.8 711.5L952.8 711.5L953.7 711.5L954.7 711.5L955.6 711.5L956.5 711.5L957.5 711.5L958.4 711.5L959.4 711.5L960.3 711.5L961.3 711.5L962.2 711.5L963.1 711.5L964.1 711.5L965 711.5L966 711.5L966.9 711.5L967.9 711.5L968.8 711.5L969.7 711.5L970.7 711.5L971.6 711.5L972.6 711.5L973.5 711.5L974.5 711.5L975.4 711.5L976.3 711.5L977.3 711.5L978.2 711.5L979.2 711.5L980.1 711.5L981.1 711.5L982 711.5L982.9 711.5L983.9 711.5L984.8 711.5L985.8 711.5L986.7 711.5L987.6 711.5L988.6 711.5L989.5 711.5L990.5 711.5L991.4 711.5L992.4 711.5L993.3 711.5L994.2 711.5L995.2 711.5L996.1 711.5L997.1 711.5L998 711.5L999 711.5L999.9 711.5L1000.8 711.5L1001.8 711.5L1002.7 711.5L1003.7 711.5L1004.6 711.5L1005.6 711.5L1006.5 711.5L1007.4 711.5L1008.4 711.5L1009.3 711.5L1010.3 711.5L1011.2 711.5L1012.2 711.5L1013.1 711.5L1014 711.5L1015 711.5L1015.9 711.5L1016.9 711.5L1017.8 711.5L1018.8 711.5L1019.7 711.5L1020.6 711.5L1021.6 711.5L1022.5 711.5L1023.5 711.5L1024.4 711.5L1025.4 711.5L1026.3 711.5L1027.2 711.5L1028.2 711.5L1029.1 711.5L1030.1 711.5L1031 711.5L1032 711.5L1032.9 711.5L1033.8 711.5L1034.8 711.5L1035.7 711.5L1036.7 711.5L1037.6 711.5L1038.6 711.5L1039.5 711.5L1040.4 711.5L1041.4 711.5L1042.3 711.5L1043.3 711.5L1044.2 711.5L1045.2 711.5L1046.1 711.5L1047 711.5L1048 711.5L1048.9 711.5L1049.9 711.5L1050.8 711.5L1051.8 711.5L1052.7 711.5L1053.6 711.5L1054.6 711.5L1055.5 711.5L1056.5 711.5L1057.4 711.5L1058.4 711.5L1059.3 711.5L1060.2 711.5L1061.2 711.5L1062.1 711.5L1063.1 711.5L1064 711.5L1064.9 711.5L1065.9 711.5L1066.8 711.5L1067.8 711.5L1068.7 711.5L1069.7 711.5L1070.6 711.5L1071.5 711.5L1072.5 711.5L1073.4 711.5L1074.4 711.5L1075.3 711.5L1076.3 711.5L1077.2 711.5L1078.1 711.5L1079.1 711.5L1080 711.5L1081 711.5L1081.9 711.5L1082.9 711.5L1083.8 711.5L1084.7 711.5L1085.7 711.5L1086.6 711.5L1087.6 711.5L1088.5 711.5L1089.5 711.5L1090.4 711.5L1091.3 711.5L1092.3 711.5L1093.2 711.5L1094.2 711.5L1095.1 711.5L1096.1 711.5L1097 711.5L1097.9 711.5L1098.9 711.5L1099.8 711.5L1100.8 711.5L1101.7 711.5L1102.7 711.5L1103.6 711.5L1104.5 711.5L1105.5 711.5L1106.4 711.5L1107.4 711.5L1108.3 711.5L1109.3 711.5L1110.2 711.5L1111.1 711.5L1112.1 711.5L1113 711.5L1114 711.5L1114.9 711.5L1115.9 711.5L1116.8 711.5L1117.7 711.5L1118.7 711.5L1119.6 711.5L1120.6 711.5L1121.5 711.5L1122.5 711.5L1123.4 711.5L1124.3 711.5L1125.3 711.5L1126.2 711.5L1127.2 711.5L1128.1 711.5L1129.1 711.5L1130 711.5L1130.9 711.5L1131.9 711.5L1132.8 711.5L1133.8 711.5L1134.7 711.5L1135.7 711.5L1136.6 711.5L1137.5 711.5L1138.5 711.5L1139.4 711.5L1140.4 711.5L1141.3 711.5L1142.2 711.5L1143.2 711.5L1144.1 711.5L1145.1 711.5L1146 711.5L1147 711.5L1147.9 711.5L1148.8 711.5L1149.8 711.5L1150.7 711.5L1151.7 711.5L1152.6 711.5L1153.6 711.5L1154.5 711.5L1155.4 711.5L1156.4 711.5L1157.3 711.5L1158.3 711.5L1159.2 711.5L1160.2 711.5L1161.1 711.5L1162 711.5L1163 711.5L1163.9 711.5L1164.9 711.5L1165.8 711.5L1166.8 711.5L1167.7 711.5L1168.6 711.5L1169.6 711.5L1170.5 711.5L1171.5 711.5L1172.4 711.5L1173.4 711.5L1174.3 711.5L1175.2 711.5L1176.2 711.5L1177.1 711.5L1178.1 711.5L1179 711.5L1180 711.5L1180.9 711.5" stroke="#0072BD"/>
<path d="M710.5 1044.7L711.4 1043.7L712.4 1042.8L713.3 1041.8L714.3 1040.7L715.2 1039.6L716.2 1038.4L717.1 1037.2L718 1035.9L719 1034.5L719.9 1033.1L720.9 1031.6L721.8 1030L722.8 1028.3L723.7 1026.6L724.6 1024.7L725.6 1022.8L726.5 1020.8L727.5 1018.7L728.4 1016.4L729.4 1014.1L730.3 1011.6L731.2 1009.1L732.2 1006.4L733.1 1003.5L734.1 1000.6L735 997.5L736 994.2L736.9 990.8L737.8 987.3L738.8 983.6L739.7 979.8L740.7 975.8L741.6 971.6L742.6 967.3L743.5 962.8L744.4 958.1L745.4 953.3L746.3 948.3L747.3 943.2L748.2 937.9L749.2 932.5L750.1 926.9L751 921.2L752 915.4L752.9 909.4L753.9 903.4L754.8 897.2L755.7 891L756.7 884.7L757.6 878.3L758.6 872L759.5 865.5L760.5 859.1L761.4 852.8L762.3 846.4L763.3 840.1L764.2 833.9L765.2 827.8L766.1 821.7L767.1 815.9L768 810.1L768.9 804.5L769.9 799.1L770.8 793.9L771.8 788.9L772.7 784.1L773.7 779.5L774.6 775.2L775.5 771.1L776.5 767.2L777.4 763.6L778.4 760.2L779.3 757.1L780.3 754.2L781.2 751.5L782.1 749.1L783.1 746.9L784 745L785 743.2L785.9 741.6L786.9 740.3L787.8 739.1L788.7 738.1L789.7 737.2L790.6 736.5L791.6 736L792.5 735.6L793.5 735.3L794.4 735.1L795.3 735L796.3 735L797.2 735.1L798.2 735.2L799.1 735.4L800.1 735.7L801 736L801.9 736.3L802.9 736.7L803.8 737L804.8 737.4L805.7 737.8L806.7 738.2L807.6 738.5L808.5 738.9L809.5 739.2L810.4 739.5L811.4 739.8L812.3 740L813.3 740.2L814.2 740.3L815.1 740.4L816.1 740.5L817 740.5L818 740.5L818.9 740.4L819.9 740.2L820.8 740L821.7 739.7L822.7 739.3L823.6 738.9L824.6 738.5L825.5 737.9L826.5 737.3L827.4 736.7L828.3 735.9L829.3 735.2L830.2 734.3L831.2 733.4L832.1 732.4L833 731.4L834 730.3L834.9 729.2L835.9 728L836.8 726.7L837.8 725.4L838.7 724.1L839.6 722.7L840.6 721.3L841.5 719.9L842.5 718.4L843.4 716.9L844.4 715.3L845.3 713.8L846.2 712.2L847.2 710.7L848.1 709.1L849.1 707.5L850 706L851 704.4L851.9 702.9L852.8 701.4L853.8 700L854.7 698.5L855.7 697.1L856.6 695.8L857.6 694.5L858.5 693.3L859.4 692.1L860.4 691.1L861.3 690.1L862.3 689.1L863.2 688.3L864.2 687.5L865.1 686.9L866 686.3L867 685.9L867.9 685.5L868.9 685.2L869.8 685.1L870.8 685L871.7 685.1L872.6 685.2L873.6 685.5L874.5 685.9L875.5 686.3L876.4 686.9L877.4 687.5L878.3 688.3L879.2 689.1L880.2 690L881.1 691L882.1 692.1L883 693.2L884 694.4L884.9 695.7L885.8 697L886.8 698.3L887.7 699.7L888.7 701.2L889.6 702.6L890.6 704.1L891.5 705.6L892.4 707.1L893.4 708.6L894.3 710.1L895.3 711.6L896.2 713L897.2 714.5L898.1 715.9L899 717.4L900 718.7L900.9 720.1L901.9 721.4L902.8 722.6L903.8 723.9L904.7 725L905.6 726.1L906.6 727.2L907.5 728.2L908.5 729.1L909.4 729.9L910.3 730.7L911.3 731.5L912.2 732.1L913.2 732.7L914.1 733.2L915.1 733.6L916 734L916.9 734.3L917.9 734.5L918.8 734.6L919.8 734.6L920.7 734.6L921.7 734.5L922.6 734.3L923.5 734L924.5 733.7L925.4 733.3L926.4 732.8L927.3 732.2L928.3 731.6L929.2 730.8L930.1 730.1L931.1 729.2L932 728.3L933 727.3L933.9 726.3L934.9 725.2L935.8 724L936.7 722.8L937.7 721.6L938.6 720.3L939.6 718.9L940.5 717.6L941.5 716.1L942.4 714.7L943.3 713.2L944.3 711.8L945.2 710.3L946.2 708.8L947.1 707.3L948.1 705.8L949 704.3L949.9 702.8L950.9 701.3L951.8 699.9L952.8 698.5L953.7 697.1L954.7 695.8L955.6 694.5L956.5 693.3L957.5 692.2L958.4 691.1L959.4 690.1L960.3 689.1L961.3 688.3L962.2 687.5L963.1 686.8L964.1 686.2L965 685.7L966 685.3L966.9 685L967.9 684.9L968.8 684.8L969.7 684.8L970.7 684.9L971.6 685.1L972.6 685.5L973.5 685.9L974.5 686.4L975.4 687L976.3 687.7L977.3 688.5L978.2 689.4L979.2 690.4L980.1 691.4L981.1 692.5L982 693.7L982.9 694.9L983.9 696.2L984.8 697.6L985.8 698.9L986.7 700.3L987.6 701.8L988.6 703.3L989.5 704.7L990.5 706.2L991.4 707.7L992.4 709.3L993.3 710.8L994.2 712.2L995.2 713.7L996.1 715.2L997.1 716.6L998 718L999 719.4L999.9 720.7L1000.8 722L1001.8 723.2L1002.7 724.4L1003.7 725.5L1004.6 726.6L1005.6 727.6L1006.5 728.6L1007.4 729.5L1008.4 730.3L1009.3 731.1L1010.3 731.8L1011.2 732.4L1012.2 732.9L1013.1 733.4L1014 733.8L1015 734.1L1015.9 734.4L1016.9 734.5L1017.8 734.6L1018.8 734.6L1019.7 734.5L1020.6 734.4L1021.6 734.2L1022.5 733.9L1023.5 733.5L1024.4 733L1025.4 732.5L1026.3 731.9L1027.2 731.2L1028.2 730.5L1029.1 729.7L1030.1 728.8L1031 727.8L1032 726.8L1032.9 725.7L1033.8 724.6L1034.8 723.4L1035.7 722.2L1036.7 720.9L1037.6 719.6L1038.6 718.3L1039.5 716.9L1040.4 715.4L1041.4 714L1042.3 712.5L1043.3 711L1044.2 709.5L1045.2 708L1046.1 706.5L1047 705L1048 703.5L1048.9 702.1L1049.9 700.6L1050.8 699.2L1051.8 697.8L1052.7 696.5L1053.6 695.2L1054.6 693.9L1055.5 692.7L1056.5 691.6L1057.4 690.6L1058.4 689.6L1059.3 688.7L1060.2 687.9L1061.2 687.1L1062.1 686.5L1063.1 686L1064 685.5L1064.9 685.2L1065.9 684.9L1066.8 684.8L1067.8 684.8L1068.7 684.8L1069.7 685L1070.6 685.3L1071.5 685.6L1072.5 686.1L1073.4 686.7L1074.4 687.4L1075.3 688.1L1076.3 689L1077.2 689.9L1078.1 690.9L1079.1 691.9L1080 693.1L1081 694.3L1081.9 695.6L1082.9 696.9L1083.8 698.2L1084.7 699.6L1085.7 701L1086.6 702.5L1087.6 704L1088.5 705.5L1089.5 707L1090.4 708.5L1091.3 710L1092.3 711.5L1093.2 713L1094.2 714.4L1095.1 715.9L1096.1 717.3L1097 718.7L1097.9 720L1098.9 721.3L1099.8 722.6L1100.8 723.8L1101.7 725L1102.7 726.1L1103.6 727.1L1104.5 728.1L1105.5 729L1106.4 729.9L1107.4 730.7L1108.3 731.4L1109.3 732.1L1110.2 732.7L1111.1 733.2L1112.1 733.6L1113 734L1114 734.2L1114.9 734.4L1115.9 734.6L1116.8 734.6L1117.7 734.6L1118.7 734.5L1119.6 734.3L1120.6 734L1121.5 733.7L1122.5 733.3L1123.4 732.8L1124.3 732.2L1125.3 731.6L1126.2 730.9L1127.2 730.1L1128.1 729.2L1129.1 728.3L1130 727.3L1130.9 726.3L1131.9 725.2L1132.8 724.1L1133.8 722.8L1134.7 721.6L1135.7 720.3L1136.6 719L1137.5 717.6L1138.5 716.2L1139.4 714.7L1140.4 713.3L1141.3 711.8L1142.2 710.3L1143.2 708.8L1144.1 707.3L1145.1 705.8L1146 704.3L1147 702.8L1147.9 701.4L1148.8 699.9L1149.8 698.5L1150.7 697.1L1151.7 695.8L1152.6 694.6L1153.6 693.3L1154.5 692.2L1155.4 691.1L1156.4 690.1L1157.3 689.1L1158.3 688.3L1159.2 687.5L1160.2 686.8L1161.1 686.2L1162 685.7L1163 685.3L1163.9 685L1164.9 684.9L1165.8 684.8L1166.8 684.8L1167.7 684.9L1168.6 685.1L1169.6 685.4L1170.5 685.9L1171.5 686.4L1172.4 687L1173.4 687.7L1174.3 688.5L1175.2 689.4L1176.2 690.4L1177.1 691.4L1178.1 692.5L1179 693.7L1180 694.9L1180.9 696.2" stroke="#D95319"/>
<path d="M710.5 1044.7L711.4 1043.7L712.4 1042.8L713.3 1041.8L714.3 1040.7L715.2 1039.6L716.2 1038.4L717.1 1037.2L718 1035.9L719 1034.5L719.9 1033.1L720.9 1031.6L721.8 1030.1L722.8 1028.4L723.7 1026.7L724.6 1024.9L725.6 1022.9L726.5 1020.9L727.5 1018.8L728.4 1016.6L729.4 1014.3L730.3 1011.8L731.2 1009.3L732.2 1006.6L733.1 1003.8L734.1 1000.8L735 997.7L736 994.5L736.9 991.1L737.8 987.6L738.8 983.9L739.7 980L740.7 976L741.6 971.9L742.6 967.5L743.5 963L744.4 958.4L745.4 953.6L746.3 948.6L747.3 943.4L748.2 938.1L749.2 932.7L750.1 927.1L751 921.4L752 915.5L752.9 909.6L753.9 903.5L754.8 897.4L755.7 891.1L756.7 884.8L757.6 878.5L758.6 872.1L759.5 865.7L760.5 859.4L761.4 853L762.3 846.7L763.3 840.5L764.2 834.3L765.2 828.3L766.1 822.3L767.1 816.5L768 810.8L768.9 805.3L769.9 800L770.8 794.9L771.8 789.9L772.7 785.2L773.7 780.7L774.6 776.4L775.5 772.3L776.5 768.5L777.4 764.8L778.4 761.5L779.3 758.3L780.3 755.4L781.2 752.7L782.1 750.3L783.1 748.1L784 746L785 744.2L785.9 742.6L786.9 741.2L787.8 739.9L788.7 738.9L789.7 738L790.6 737.2L791.6 736.6L792.5 736.1L793.5 735.8L794.4 735.5L795.3 735.4L796.3 735.4L797.2 735.4L798.2 735.6L799.1 735.8L800.1 736L801 736.3L801.9 736.6L802.9 737L803.8 737.4L804.8 737.8L805.7 738.2L806.7 738.6L807.6 739.1L808.5 739.5L809.5 739.8L810.4 740.2L811.4 740.5L812.3 740.8L813.3 741.1L814.2 741.3L815.1 741.4L816.1 741.5L817 741.6L818 741.6L818.9 741.5L819.9 741.4L820.8 741.2L821.7 740.9L822.7 740.6L823.6 740.2L824.6 739.8L825.5 739.2L826.5 738.6L827.4 737.9L828.3 737.2L829.3 736.4L830.2 735.5L831.2 734.5L832.1 733.5L833 732.4L834 731.3L834.9 730.1L835.9 728.8L836.8 727.5L837.8 726.2L838.7 724.8L839.6 723.4L840.6 721.9L841.5 720.4L842.5 718.9L843.4 717.3L844.4 715.8L845.3 714.2L846.2 712.6L847.2 711L848.1 709.4L849.1 707.9L850 706.3L851 704.8L851.9 703.3L852.8 701.8L853.8 700.4L854.7 699L855.7 697.7L856.6 696.4L857.6 695.2L858.5 694.1L859.4 693L860.4 692L861.3 691.1L862.3 690.2L863.2 689.4L864.2 688.8L865.1 688.2L866 687.7L867 687.3L867.9 686.9L868.9 686.7L869.8 686.6L870.8 686.6L871.7 686.6L872.6 686.8L873.6 687.1L874.5 687.4L875.5 687.9L876.4 688.4L877.4 689L878.3 689.7L879.2 690.5L880.2 691.3L881.1 692.3L882.1 693.3L883 694.3L884 695.4L884.9 696.6L885.8 697.9L886.8 699.1L887.7 700.5L888.7 701.8L889.6 703.2L890.6 704.6L891.5 706.1L892.4 707.5L893.4 709L894.3 710.4L895.3 711.9L896.2 713.4L897.2 714.8L898.1 716.3L899 717.7L900 719.1L900.9 720.4L901.9 721.8L902.8 723.1L903.8 724.3L904.7 725.5L905.6 726.7L906.6 727.8L907.5 728.8L908.5 729.8L909.4 730.7L910.3 731.6L911.3 732.3L912.2 733L913.2 733.7L914.1 734.2L915.1 734.7L916 735.1L916.9 735.4L917.9 735.7L918.8 735.8L919.8 735.9L920.7 735.9L921.7 735.8L922.6 735.6L923.5 735.3L924.5 735L925.4 734.5L926.4 734L927.3 733.4L928.3 732.8L929.2 732L930.1 731.2L931.1 730.3L932 729.3L933 728.3L933.9 727.2L934.9 726L935.8 724.8L936.7 723.5L937.7 722.2L938.6 720.9L939.6 719.5L940.5 718.1L941.5 716.6L942.4 715.1L943.3 713.6L944.3 712.1L945.2 710.6L946.2 709.1L947.1 707.6L948.1 706.1L949 704.6L949.9 703.2L950.9 701.7L951.8 700.3L952.8 699L953.7 697.7L954.7 696.4L955.6 695.2L956.5 694.1L957.5 693L958.4 692L959.4 691L960.3 690.2L961.3 689.4L962.2 688.7L963.1 688.1L964.1 687.5L965 687.1L966 686.8L966.9 686.5L967.9 686.4L968.8 686.3L969.7 686.3L970.7 686.5L971.6 686.7L972.6 687L973.5 687.4L974.5 687.9L975.4 688.5L976.3 689.2L977.3 689.9L978.2 690.7L979.2 691.7L980.1 692.6L981.1 693.7L982 694.8L982.9 695.9L983.9 697.1L984.8 698.4L985.8 699.7L986.7 701L987.6 702.4L988.6 703.8L989.5 705.3L990.5 706.7L991.4 708.2L992.4 709.6L993.3 711.1L994.2 712.6L995.2 714L996.1 715.5L997.1 716.9L998 718.3L999 719.7L999.9 721.1L1000.8 722.4L1001.8 723.6L1002.7 724.9L1003.7 726.1L1004.6 727.2L1005.6 728.3L1006.5 729.3L1007.4 730.2L1008.4 731.1L1009.3 731.9L1010.3 732.7L1011.2 733.4L1012.2 733.9L1013.1 734.5L1014 734.9L1015 735.3L1015.9 735.6L1016.9 735.7L1017.8 735.9L1018.8 735.9L1019.7 735.8L1020.6 735.7L1021.6 735.5L1022.5 735.2L1023.5 734.8L1024.4 734.3L1025.4 733.7L1026.3 733.1L1027.2 732.4L1028.2 731.6L1029.1 730.7L1030.1 729.8L1031 728.8L1032 727.7L1032.9 726.6L1033.8 725.4L1034.8 724.2L1035.7 722.9L1036.7 721.6L1037.6 720.2L1038.6 718.8L1039.5 717.4L1040.4 715.9L1041.4 714.4L1042.3 712.9L1043.3 711.4L1044.2 709.9L1045.2 708.4L1046.1 706.9L1047 705.4L1048 703.9L1048.9 702.5L1049.9 701L1050.8 699.7L1051.8 698.3L1052.7 697L1053.6 695.8L1054.6 694.6L1055.5 693.5L1056.5 692.5L1057.4 691.5L1058.4 690.6L1059.3 689.8L1060.2 689L1061.2 688.4L1062.1 687.8L1063.1 687.3L1064 686.9L1064.9 686.6L1065.9 686.4L1066.8 686.3L1067.8 686.3L1068.7 686.4L1069.7 686.6L1070.6 686.8L1071.5 687.2L1072.5 687.7L1073.4 688.2L1074.4 688.8L1075.3 689.5L1076.3 690.3L1077.2 691.2L1078.1 692.1L1079.1 693.1L1080 694.2L1081 695.3L1081.9 696.5L1082.9 697.7L1083.8 699L1084.7 700.3L1085.7 701.7L1086.6 703.1L1087.6 704.5L1088.5 706L1089.5 707.4L1090.4 708.9L1091.3 710.4L1092.3 711.8L1093.2 713.3L1094.2 714.7L1095.1 716.2L1096.1 717.6L1097 719L1097.9 720.4L1098.9 721.7L1099.8 723L1100.8 724.3L1101.7 725.5L1102.7 726.6L1103.6 727.7L1104.5 728.8L1105.5 729.7L1106.4 730.7L1107.4 731.5L1108.3 732.3L1109.3 733L1110.2 733.7L1111.1 734.2L1112.1 734.7L1113 735.1L1114 735.4L1114.9 735.7L1115.9 735.8L1116.8 735.9L1117.7 735.9L1118.7 735.8L1119.6 735.6L1120.6 735.3L1121.5 735L1122.5 734.5L1123.4 734L1124.3 733.4L1125.3 732.8L1126.2 732L1127.2 731.2L1128.1 730.3L1129.1 729.3L1130 728.3L1130.9 727.2L1131.9 726L1132.8 724.8L1133.8 723.6L1134.7 722.3L1135.7 720.9L1136.6 719.5L1137.5 718.1L1138.5 716.6L1139.4 715.2L1140.4 713.7L1141.3 712.2L1142.2 710.7L1143.2 709.1L1144.1 707.6L1145.1 706.1L1146 704.7L1147 703.2L1147.9 701.8L1148.8 700.4L1149.8 699L1150.7 697.7L1151.7 696.4L1152.6 695.2L1153.6 694.1L1154.5 693L1155.4 692L1156.4 691L1157.3 690.2L1158.3 689.4L1159.2 688.7L1160.2 688.1L1161.1 687.5L1162 687.1L1163 686.8L1163.9 686.5L1164.9 686.4L1165.8 686.3L1166.8 686.3L1167.7 686.5L1168.6 686.7L1169.6 687L1170.5 687.4L1171.5 687.9L1172.4 688.5L1173.4 689.2L1174.3 689.9L1175.2 690.7L1176.2 691.6L1177.1 692.6L1178.1 693.6L1179 694.7L1180 695.9L1180.9 697.1" stroke="#EDB120" stroke-dasharray="14.6 14.4"/>
</g>
<text x="704.1" y="1094.2" font-size="25.6">0</text>
<text x="853.86" y="1094.2" font-size="25.6">10</text>
<text x="1011.22" y="1094.2" font-size="25.6">20</text>
<text x="1167.98" y="1094.2" font-size="25.6">30</text>
<text x="687.38" y="1068.9" font-size="25.6">0</text>
<text x="668.61" y="998.75" font-size="25.6">0.2</text>
<text x="667.6" y="928.6" font-size="25.6">0.4</text>
<text x="667.96" y="858.45" font-size="25.6">0.6</text>
<text x="668.18" y="788.3" font-size="25.6">0.8</text>
<text x="687.94" y="718.15" font-size="25.6">1</text>
<text x="668.61" y="648" font-size="25.6">1.2</text>
<g transform="translate(649.9 864.65) rotate(-90)">
<text transform="translate(-2.35 0) scale(1.1507 0.88)" font-size="34" font-style="italic" stroke="#fff" stroke-width="0.55">u</text>
<text transform="translate(16.21 -7) scale(0.8471 1)" font-size="24">*</text>
</g>
<text transform="translate(939.96 1131.9) scale(1.05 0.89)" font-size="37" font-style="italic" stroke="#fff" stroke-width="0.55">t</text>
<rect x="929.3" y="923.7" width="233.7" height="118.9" fill="#fff" stroke="#262626" stroke-width="1.3"/>
<path d="M937.1 945.2H1012.7" stroke="#0072BD" stroke-width="3.9"/>
<text transform="translate(1018.61 952.9) scale(1.1311 1)" font-size="30">Order 0</text>
<path d="M937.1 983.1H1012.7" stroke="#D95319" stroke-width="3.9"/>
<text transform="translate(1018.63 990.4) scale(1.116 1)" font-size="30">Order 1</text>
<path d="M937.1 1020.1H1012.7" stroke="#EDB120" stroke-width="3.9" stroke-dasharray="14.6 14.4"/>
<text transform="translate(1019.07 1027.4) scale(1.0772 1)" font-size="30">Numerical</text>
<text transform="translate(44.01 556) scale(1.0875 1)" font-size="33.2">(a)</text>
<text transform="translate(94.52 556) scale(0.977 0.91)" font-size="33.2" font-style="italic">ω</text>
<text transform="translate(126.05 559.4) scale(0.9561 1.29)" font-size="32" font-family="DejaVu Math TeX Gyre, DejaVu Sans, sans-serif" stroke="#fff" stroke-width="0.9">≪</text>
<text transform="translate(168.28 556) scale(0.9326 1)" font-size="33.2">1</text>
<text transform="translate(198.12 556.8) scale(0.8796 1.08)" font-size="33.2">(</text>
<text transform="translate(208.97 556) scale(1.0444 0.9)" font-size="33.2" font-style="italic">a</text>
<text transform="translate(234.09 559.3) scale(1.4564 1)" font-size="33.2">=</text>
<text transform="translate(269.8 556) scale(0.9953 1)" font-size="33.2">2,</text>
<text transform="translate(308.05 556) scale(1.0281 0.925)" font-size="33.2" font-style="italic">β</text>
<text transform="translate(335.09 559.3) scale(1.4564 1)" font-size="33.2">=</text>
<text transform="translate(370.24 556) scale(1.0463 1)" font-size="33.2">3</text>
<text transform="translate(397.72 556) scale(1.1 1)" font-size="33.2">and</text>
<text transform="translate(461.42 556) scale(0.977 0.91)" font-size="33.2" font-style="italic">ω</text>
<text transform="translate(492.34 559.3) scale(1.4564 1)" font-size="33.2">=</text>
<text transform="translate(527.16 556) scale(1.0574 1)" font-size="33.2">0.1).</text>
<text transform="translate(649.67 556) scale(1.0826 1)" font-size="33.2">(b)</text>
<text transform="translate(702.17 556) scale(0.977 0.91)" font-size="33.2" font-style="italic">ω</text>
<text transform="translate(733.03 559.4) scale(0.9643 1.29)" font-size="32" font-family="DejaVu Math TeX Gyre, DejaVu Sans, sans-serif" stroke="#fff" stroke-width="0.9">≫</text>
<text transform="translate(776.57 556) scale(0.9197 1)" font-size="33.2">1</text>
<text transform="translate(805.72 556.8) scale(0.8796 1.08)" font-size="33.2">(</text>
<text transform="translate(816.49 556) scale(1.0235 0.9)" font-size="33.2" font-style="italic">a</text>
<text transform="translate(841.59 559.3) scale(1.4564 1)" font-size="33.2">=</text>
<text transform="translate(877.3 556) scale(0.9953 1)" font-size="33.2">2,</text>
<text transform="translate(915.55 556) scale(1.0281 0.925)" font-size="33.2" font-style="italic">β</text>
<text transform="translate(942.59 559.3) scale(1.4564 1)" font-size="33.2">=</text>
<text transform="translate(977.04 556) scale(1.0755 1)" font-size="33.2">3</text>
<text transform="translate(1005.73 556) scale(1.0892 1)" font-size="33.2">and</text>
<text transform="translate(1068.92 556) scale(0.977 0.91)" font-size="33.2" font-style="italic">ω</text>
<text transform="translate(1099.89 559.3) scale(1.4564 1)" font-size="33.2">=</text>
<text transform="translate(1134.72 556) scale(1.0479 1)" font-size="33.2">20).</text>
<text transform="translate(28.47 1181.5) scale(1.0463 1)" font-size="33.2">(c)</text>
<text transform="translate(80.55 1181.5) scale(1.0281 0.925)" font-size="33.2" font-style="italic">β</text>
<text transform="translate(107.59 1184.9) scale(0.9398 1.29)" font-size="32" font-family="DejaVu Math TeX Gyre, DejaVu Sans, sans-serif" stroke="#fff" stroke-width="0.9">≪</text>
<text transform="translate(150.73 1181.5) scale(1.027 0.9)" font-size="33.2" font-style="italic">a</text>
<text transform="translate(179.97 1182.3) scale(0.8796 1.08)" font-size="33.2">(</text>
<text transform="translate(190.97 1181.5) scale(1.0444 0.9)" font-size="33.2" font-style="italic">a</text>
<text transform="translate(216.59 1184.8) scale(1.4564 1)" font-size="33.2">=</text>
<text transform="translate(251.88 1181.5) scale(1.0683 1)" font-size="33.2">1,</text>
<text transform="translate(290.07 1181.5) scale(1.0575 0.925)" font-size="33.2" font-style="italic">β</text>
<text transform="translate(317.59 1184.8) scale(1.4564 1)" font-size="33.2">=</text>
<text x="353.34" y="1181.5" font-size="33.2">0.001</text>
<text transform="translate(439.13 1181.5) scale(1.0914 1)" font-size="33.2">and</text>
<text transform="translate(502.92 1181.5) scale(0.977 0.91)" font-size="33.2" font-style="italic">ω</text>
<text transform="translate(533.59 1184.8) scale(1.4564 1)" font-size="33.2">=</text>
<text transform="translate(568.38 1181.5) scale(1.0697 1)" font-size="33.2">1).</text>
<text transform="translate(637.17 1181.5) scale(1.0826 1)" font-size="33.2">(d)</text>
<text transform="translate(690.95 1181.5) scale(1.0583 0.9)" font-size="33.2" font-style="italic">a</text>
<text transform="translate(717.55 1184.9) scale(0.9561 1.29)" font-size="32" font-family="DejaVu Math TeX Gyre, DejaVu Sans, sans-serif" stroke="#fff" stroke-width="0.9">≪</text>
<text transform="translate(761.79 1181.5) scale(1.0134 0.925)" font-size="33.2" font-style="italic">β</text>
<text transform="translate(791.72 1182.3) scale(0.8796 1.08)" font-size="33.2">(</text>
<text transform="translate(802.7 1181.5) scale(1.0618 0.9)" font-size="33.2" font-style="italic">a</text>
<text transform="translate(829.09 1184.8) scale(1.4564 1)" font-size="33.2">=</text>
<text x="865.14" y="1181.5" font-size="33.2">0.01,</text>
<text transform="translate(945.55 1181.5) scale(1.0222 0.925)" font-size="33.2" font-style="italic">β</text>
<text transform="translate(972.59 1184.8) scale(1.4564 1)" font-size="33.2">=</text>
<text transform="translate(1008.38 1181.5) scale(0.8984 1)" font-size="33.2">1</text>
<text transform="translate(1034.32 1181.5) scale(1.0957 1)" font-size="33.2">and</text>
<text transform="translate(1098.42 1181.5) scale(0.977 0.91)" font-size="33.2" font-style="italic">ω</text>
<text transform="translate(1128.79 1184.8) scale(1.4564 1)" font-size="33.2">=</text>
<text transform="translate(1163.83 1181.5) scale(1.0859 1)" font-size="33.2">1).</text>
</svg>
</body></html>
